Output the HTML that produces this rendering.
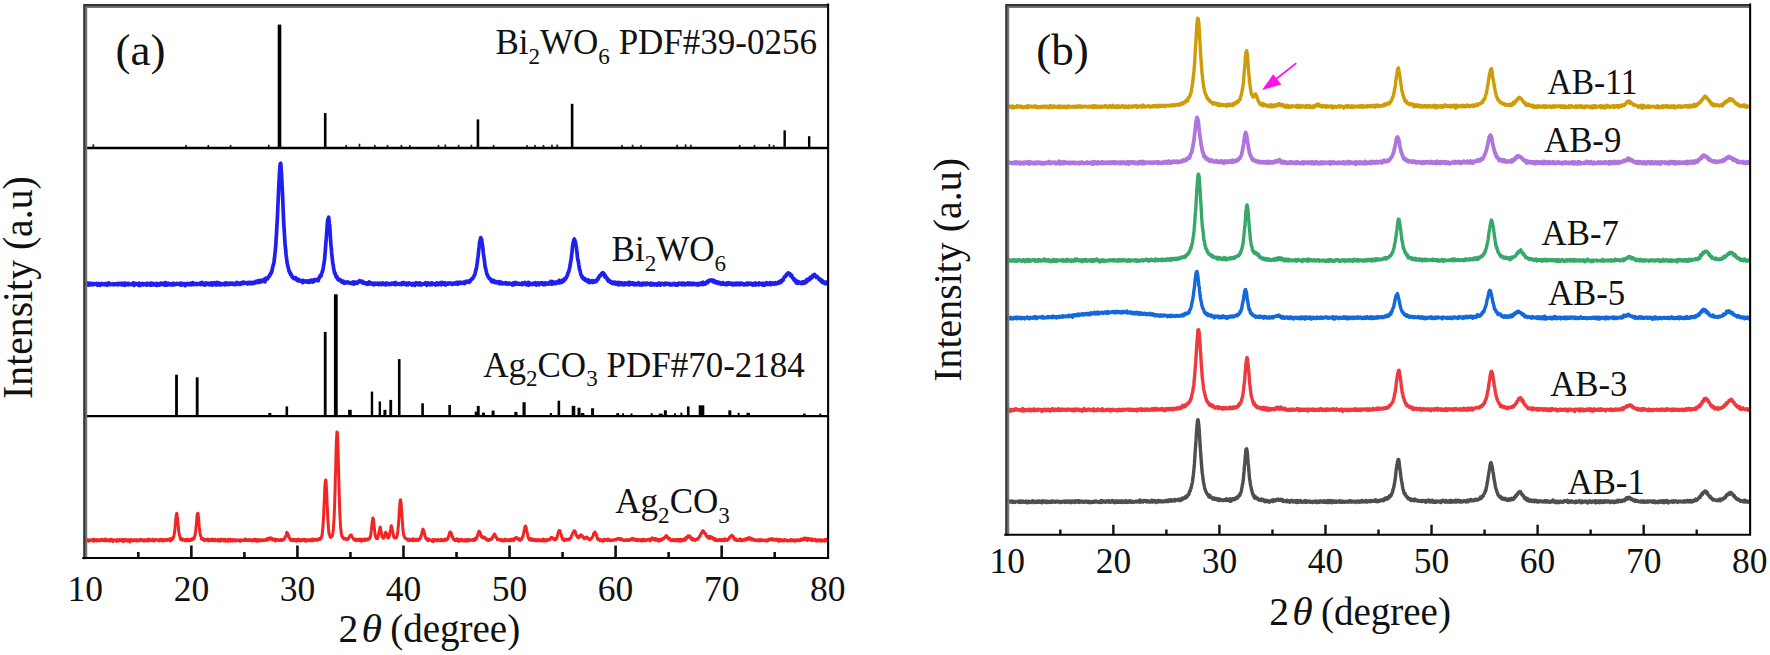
<!DOCTYPE html>
<html lang="en">
<head>
<meta charset="utf-8">
<title>XRD patterns</title>
<style>
html,body{margin:0;padding:0;background:#fff;}
body{width:1770px;height:655px;overflow:hidden;}
svg{display:block;}
</style>
</head>
<body>
<svg width="1770" height="655" viewBox="0 0 1770 655" font-family='"Liberation Serif", "DejaVu Serif", serif'>
<rect x="0" y="0" width="1770" height="655" fill="#fff"/>
<defs><clipPath id="cl"><rect x="85.30" y="6.00" width="742.42" height="552.00"/></clipPath><clipPath id="cr"><rect x="1007.30" y="6.00" width="742.42" height="528.70"/></clipPath></defs>
<rect x="277.70" y="24.60" width="3.60" height="123.40" fill="#000"/>
<rect x="323.91" y="113.00" width="2.60" height="35.00" fill="#000"/>
<rect x="476.63" y="119.40" width="2.60" height="28.60" fill="#000"/>
<rect x="570.82" y="103.80" width="2.60" height="44.20" fill="#000"/>
<rect x="783.46" y="130.30" width="2.40" height="17.70" fill="#000"/>
<rect x="807.96" y="136.20" width="2.40" height="11.80" fill="#000"/>
<rect x="92.51" y="144.30" width="1.70" height="3.70" fill="#222"/>
<rect x="185.21" y="144.90" width="1.70" height="3.10" fill="#222"/>
<rect x="207.48" y="144.90" width="1.70" height="3.10" fill="#222"/>
<rect x="229.75" y="144.90" width="1.70" height="3.10" fill="#222"/>
<rect x="267.93" y="144.70" width="1.70" height="3.30" fill="#222"/>
<rect x="345.36" y="144.90" width="1.70" height="3.10" fill="#222"/>
<rect x="358.62" y="143.70" width="1.70" height="4.30" fill="#222"/>
<rect x="373.99" y="144.90" width="1.70" height="3.10" fill="#222"/>
<rect x="386.72" y="144.90" width="1.70" height="3.10" fill="#222"/>
<rect x="400.51" y="144.90" width="1.70" height="3.10" fill="#222"/>
<rect x="408.99" y="145.10" width="1.70" height="2.90" fill="#222"/>
<rect x="437.63" y="144.90" width="1.70" height="3.10" fill="#222"/>
<rect x="444.52" y="144.50" width="1.70" height="3.50" fill="#222"/>
<rect x="457.78" y="144.90" width="1.70" height="3.10" fill="#222"/>
<rect x="470.51" y="144.70" width="1.70" height="3.30" fill="#222"/>
<rect x="492.78" y="144.90" width="1.70" height="3.10" fill="#222"/>
<rect x="526.19" y="145.10" width="1.70" height="2.90" fill="#222"/>
<rect x="534.14" y="144.90" width="1.70" height="3.10" fill="#222"/>
<rect x="542.63" y="144.90" width="1.70" height="3.10" fill="#222"/>
<rect x="551.11" y="144.70" width="1.70" height="3.30" fill="#222"/>
<rect x="556.42" y="144.50" width="1.70" height="3.50" fill="#222"/>
<rect x="621.11" y="144.90" width="1.70" height="3.10" fill="#222"/>
<rect x="631.72" y="144.70" width="1.70" height="3.30" fill="#222"/>
<rect x="640.20" y="145.10" width="1.70" height="2.90" fill="#222"/>
<rect x="676.26" y="144.70" width="1.70" height="3.30" fill="#222"/>
<rect x="684.75" y="144.30" width="1.70" height="3.70" fill="#222"/>
<rect x="690.05" y="144.70" width="1.70" height="3.30" fill="#222"/>
<rect x="738.84" y="144.90" width="1.70" height="3.10" fill="#222"/>
<rect x="753.69" y="144.90" width="1.70" height="3.10" fill="#222"/>
<rect x="768.54" y="144.10" width="1.70" height="3.90" fill="#222"/>
<rect x="772.78" y="144.90" width="1.70" height="3.10" fill="#222"/>
<rect x="175.11" y="374.70" width="2.80" height="41.40" fill="#000"/>
<rect x="195.79" y="377.30" width="2.80" height="38.80" fill="#000"/>
<rect x="268.34" y="413.00" width="3.00" height="3.10" fill="#000"/>
<rect x="285.51" y="406.40" width="2.60" height="9.70" fill="#000"/>
<rect x="323.81" y="331.90" width="2.80" height="84.20" fill="#000"/>
<rect x="333.91" y="294.30" width="3.80" height="121.80" fill="#000"/>
<rect x="348.12" y="409.80" width="3.60" height="6.30" fill="#000"/>
<rect x="370.78" y="391.60" width="2.40" height="24.50" fill="#000"/>
<rect x="378.63" y="401.40" width="2.40" height="14.70" fill="#000"/>
<rect x="383.42" y="409.80" width="3.00" height="6.30" fill="#000"/>
<rect x="389.35" y="399.90" width="2.80" height="16.20" fill="#000"/>
<rect x="397.94" y="359.10" width="2.60" height="57.00" fill="#000"/>
<rect x="421.27" y="403.30" width="2.60" height="12.80" fill="#000"/>
<rect x="448.32" y="404.90" width="2.60" height="11.20" fill="#000"/>
<rect x="474.71" y="411.60" width="2.20" height="4.50" fill="#000"/>
<rect x="476.80" y="405.90" width="2.90" height="10.20" fill="#000"/>
<rect x="481.95" y="412.60" width="3.00" height="3.50" fill="#000"/>
<rect x="491.60" y="410.60" width="3.00" height="5.50" fill="#000"/>
<rect x="514.30" y="411.90" width="3.20" height="4.20" fill="#000"/>
<rect x="522.47" y="402.20" width="3.20" height="13.90" fill="#000"/>
<rect x="549.80" y="413.00" width="2.20" height="3.10" fill="#000"/>
<rect x="557.56" y="400.70" width="2.60" height="15.40" fill="#000"/>
<rect x="571.69" y="405.90" width="3.60" height="10.20" fill="#000"/>
<rect x="577.51" y="407.70" width="3.00" height="8.40" fill="#000"/>
<rect x="580.92" y="413.00" width="3.40" height="3.10" fill="#000"/>
<rect x="591.08" y="408.20" width="3.00" height="7.90" fill="#000"/>
<rect x="616.22" y="413.20" width="3.00" height="2.90" fill="#000"/>
<rect x="622.02" y="413.40" width="2.00" height="2.70" fill="#000"/>
<rect x="630.51" y="413.40" width="2.00" height="2.70" fill="#000"/>
<rect x="650.66" y="413.20" width="2.00" height="2.90" fill="#000"/>
<rect x="658.68" y="413.60" width="4.00" height="2.50" fill="#000"/>
<rect x="663.84" y="410.30" width="3.00" height="5.80" fill="#000"/>
<rect x="673.99" y="413.40" width="2.00" height="2.70" fill="#000"/>
<rect x="680.36" y="412.60" width="2.00" height="3.50" fill="#000"/>
<rect x="686.95" y="406.40" width="2.60" height="9.70" fill="#000"/>
<rect x="698.71" y="405.30" width="5.60" height="10.80" fill="#000"/>
<rect x="728.33" y="410.30" width="3.00" height="5.80" fill="#000"/>
<rect x="737.63" y="412.80" width="2.00" height="3.30" fill="#000"/>
<rect x="746.47" y="412.80" width="3.40" height="3.30" fill="#000"/>
<rect x="803.09" y="413.60" width="2.60" height="2.50" fill="#000"/>
<rect x="819.30" y="413.60" width="2.00" height="2.50" fill="#000"/>
<path clip-path="url(#cl)" d="M85.3 285l.3-1.2 .3 .1 .4-.3 .3 1 .3-1.7 .3 2.2 .3-1.4 .3 .6 .4-.3 .3 1 .3-2 .3 1 .3-.1 .4 .9 .3-1.3 .3 .6 .3-.4 .3 .5 .3 .3 .4-1 .3 1.3 .3-.2 .3-.2 .3 .2 .4-.8 .3 .3 .3-.5 .3 .4 .3 .4 .3-.6 .4 .1 .3-.1 .3-.1 .3 .1 .3 .3 .4-.6 .3 .8 .3 .8 .3-.5 .3-.6 .3-.3 .4 0 .3 1.4 .3-.9 .3-.4 .3 .5 .4 1 .3-1.1 .3 .3 .3-.2 .3-.3 .3-.5 .4 .5 .3 0 .3 .5 .3 .1 .3 .1 .4-.4 .3 .3 .3-.9 .3 1.1 .3-.4 .3-.4 .4 .4 .3-.3 .3 .7 .3 .2 .3 .3 .4-1.9 .3 0 .3 .5 .3 .3 .3 .4 .3-.3 .4-1.3 .3 1 .3 .6 .3-.3 .3 .3 .4-.6 .3 0 .3 .2 .3 .2 .3-.1 .3-.1 .4-.4 .3 .6 .3-.2 .3 .6 .3 0 .4-.6 .3-.3 .3-.1 .3 .6 .3-.2 .3-.2 .4 .2 .3-.4 .3 .7 .3-.6 .3 .9 .4-.4 .3 .1 .3-1 .3 .7 .3 .3 .3-.9 .4 .4 .3 .2 .3-.8 .3 .9 .3 .3 .4-.9 .3 .6 .3-.9 .3 .7 .3-.9 .3 1.6 .4-.4 .3-.3 .3-.4 .3 1.1 .3 .4 .4-2.1 .3 1.7 .3 .2 .3-.7 .3-.8 .3 1.1 .4-.6 .3-.2 .3-.3 .3 .9 .3 .2 .4-.8 .3 .6 .3-.9 .3 1.1 .3-.4 .3-.2 .4 .1 .3 .5 .3-.1 .3-.1 .3-.2 .4 0 .3 .3 .3-.2 .3 .2 .3-.5 .3-1.2 .4 1.9 .3 .6 .3-.9 .3-.3 .3 0 .4 0 .3 0 .3-.6 .3 .3 .3-.2 .3 .7 .4-.3 .3 .4 .3-.4 .3 .7 .3-.5 .4 1.1 .3-2.2 .3 .7 .3 .8 .3 .9 .3-1.5 .4 .1 .3-.1 .3 .9 .3-.9 .3 .5 .4-.6 .3-.5 .3 .9 .3 .1 .3 .4 .3-.7 .4-.3 .3 .6 .3-.2 .3 .1 .3-.2 .4 .7 .3-.5 .3 .9 .3-.5 .3-.2 .3-1.3 .4 1.2 .3-.1 .3 .3 .3 .1 .3-.8 .4 .7 .3-.8 .3 1.4 .3-1.8 .3-.3 .3 .1 .4 .4 .3-.1 .3 1.7 .3-1.3 .3-.5 .4 1.3 .3-.9 .3-.4 .3 1.2 .3-.2 .3-.5 .4 1 .3-.7 .3 .8 .3-.6 .3 .6 .4-.8 .3-.8 .3 2 .3-1.6 .3 .2 .3-.3 .4 .3 .3 .2 .3 0 .3 .3 .3 .6 .4-1.1 .3-.6 .3 0 .3 .3 .3-.5 .3 1.3 .4-.7 .3 .1 .3 .2 .3-.8 .3 .3 .4 .9 .3-.1 .3-.6 .3 1.3 .3-1.7 .3 .5 .4 .1 .3-1.4 .3 2.6 .3-.9 .3-.8 .4 1.7 .3-.8 .3-.1 .3-.5 .3 .3 .3-.9 .4 1.3 .3-.6 .3 .3 .3 .5 .3-.5 .4 0 .3 0 .3-.5 .3 .8 .3 .4 .3-.4 .4 .1 .3-1 .3 0 .3-.3 .3 1.5 .4-.9 .3 .9 .3-1.2 .3 .2 .3 .3 .3 .5 .4-.5 .3 .1 .3-.1 .3 .1 .3-.7 .4 .6 .3-.1 .3 0 .3 .3 .3-.6 .3 .3 .4-.1 .3 .4 .3 .2 .3-1 .3 .9 .4 .8 .3-2 .3 .4 .3 0 .3 .3 .3 1 .4-.8 .3-.4 .3 .7 .3-.7 .3 1 .4-.5 .3 .6 .3-1.1 .3 2 .3-1.2 .3-.1 .4-.4 .3-.4 .3 0 .3 .4 .3-.4 .4 .6 .3-.6 .3 .8 .3 .2 .3-1 .3 1.1 .4-.8 .3 .8 .3-.4 .3 .3 .3-1.1 .4 .5 .3 .8 .3-1.1 .3-.8 .3 .1 .3-.4 .4 .3 .3 .9 .3 .9 .3-.9 .3 .4 .4-.2 .3 0 .3-.1 .3 0 .3 .4 .3-.9 .4 1.2 .3-.1 .3-.6 .3 .5 .3-.8 .4 .1 .3 .4 .3-.2 .3-.2 .3-.1 .3 .1 .4 .8 .3-1.6 .3 1.3 .3-.3 .3 .5 .4-.1 .3-1.9 .3 1.9 .3-.1 .3-.2 .3-.3 .4 .7 .3-.7 .3 1.3 .3-.7 .3 .8 .4-1.6 .3-.5 .3 1.3 .3 .1 .3-.4 .3-.9 .4 .6 .3 .6 .3-.5 .3 .1 .3-.1 .4-.4 .3 .2 .3-.5 .3 1.8 .3-1.2 .3 .5 .4-.8 .3 1 .3-1.5 .3 1.5 .3-.5 .4 1.2 .3-1.9 .3 .8 .3 .1 .3 .5 .3-.9 .4 .2 .3-1.2 .3 .7 .3 .7 .3 .4 .4-.8 .3 1.3 .3-.2 .3-1 .3-1.3 .3 .4 .4 .5 .3 1.1 .3-.5 .3-1.3 .3 1 .4 1 .3-1.1 .3-.2 .3 1.6 .3-1.1 .3-.3 .4 .4 .3-.2 .3-.2 .3 .9 .3-.1 .4-.1 .3-.5 .3 .6 .3-.6 .3 .3 .3 .3 .4-.2 .3 .6 .3-.8 .3-1.2 .3 .3 .4 1.4 .3-.9 .3 .4 .3-.7 .3 1 .3-.8 .4 1 .3-1.1 .3 .9 .3-.2 .3-.8 .4 1 .3-1.1 .3 0 .3 .9 .3-.8 .3 0 .4 .2 .3-.4 .3 1.1 .3-.2 .3-.4 .4 0 .3 .3 .3 .7 .3-.5 .3-.8 .3 .7 .4-.5 .3 0 .3 1.1 .3-1.3 .3 0 .4-.8 .3 .3 .3 1 .3-.7 .3 .7 .3-.9 .4 .2 .3 .8 .3 .4 .3-.5 .3 .3 .4 .3 .3-.4 .3-1.1 .3 .4 .3 .4 .3-.5 .4 .4 .3-1.1 .3 .4 .3 .7 .3-1.5 .4 .6 .3 .6 .3-1 .3 1 .3-.5 .3 .3 .4 0 .3 .2 .3-.4 .3 .3 .3-.4 .4 .6 .3 .6 .3-.8 .3-.1 .3-.7 .3 1 .4-.8 .3-.1 .3 .7 .3-.2 .3 .5 .4 .2 .3-1.2 .3 .4 .3 .8 .3-.4 .3-.2 .4 .3 .3-1.1 .3 .7 .3 .4 .3 0 .4-1.3 .3 .2 .3 .3 .3-.4 .3-.1 .3 .6 .4-.6 .3-.9 .3 1.1 .3-.4 .3-.3 .4-.5 .3 1.4 .3-1.9 .3 .3 .3 .7 .3 .7 .4 0 .3-1.4 .3 .4 .3-.8 .3 1.3 .4-1.5 .3 .7 .3 .5 .3-.8 .3 .9 .3-1.5 .4 .6 .3 .1 .3-.6 .3 .6 .3-.6 .4-1.3 .3 2.9 .3-2 .3-.5 .3-1.1 .3 .6 .4-.5 .3 .4 .3-.4 .3 .5 .3-1.3 .4-.1 .3-.4 .3-.7 .3-.4 .3 .3 .3-.7 .4-1.3 .3-.8 .3-.1 .3 0 .3-1.4 .4 .1 .3-2.3 .3-.6 .3-2.6 .3-.3 .3-1.4 .4-1.2 .3-1.3 .3-3.2 .3-1.7 .3-3.3 .4-3 .3-4.4 .3-3.1 .3-5.8 .3-4.2 .3-6.2 .4-5.8 .3-7 .3-6.3 .3-6.7 .3-7.5 .4-7.9 .3-5.3 .3-6.7 .3-4.6 .3-3.6 .3-2.4 .4-.4 .3 2.8 .3 5.2 .3 4.1 .3 7.4 .4 6.2 .3 7.8 .3 6.1 .3 8.7 .3 6.1 .3 6.8 .4 5.4 .3 5.7 .3 4.3 .3 4.8 .3 2.7 .4 3.7 .3 4 .3 2.3 .3 2.4 .3 2.1 .3 2.2 .4 1.1 .3 2 .3 .5 .3 1.5 .3 1.7 .4 1 .3-.4 .3 1.8 .3-.4 .3 1.6 .3-.9 .4 .9 .3 .8 .3 .6 .3 1.3 .3 .1 .4 .7 .3 .1 .3-.6 .3 .3 .3 1 .3-.3 .4 .1 .3-.5 .3 .9 .3-1.3 .3 1.5 .4-.2 .3 1.1 .3-.5 .3 .2 .3 1 .3-1.2 .4 .9 .3-1.1 .3 1.2 .3 .2 .3 .4 .4-.9 .3 .7 .3 .1 .3-.1 .3 .2 .3 .2 .4 0 .3-.7 .3-.1 .3 2.1 .3-.3 .4-1.8 .3 1.1 .3 .1 .3 .1 .3-.3 .3-.5 .4 .4 .3-.2 .3 .4 .3-.2 .3 .1 .4 .6 .3 .1 .3-1.3 .3 .4 .3-.2 .3 1.1 .4-.7 .3 .8 .3-1 .3 .2 .3-.8 .4 1.5 .3-1 .3-.6 .3 .4 .3-.9 .3 1.2 .4 0 .3 .1 .3 .6 .3-1.1 .3 .6 .4-.4 .3-.3 .3-1.2 .3 1.6 .3-.9 .3 .2 .4-.8 .3 .7 .3-.2 .3-.2 .3-.3 .4 .5 .3-.3 .3-.3 .3 1.2 .3-2.4 .3-.2 .4-.6 .3 .4 .3-1 .3-1.5 .3 .3 .4 .2 .3-.1 .3-2.2 .3-.3 .3-.6 .3-1.4 .4-.6 .3-1.7 .3-1.5 .3-2.4 .3-.9 .4-3.3 .3-2 .3-4.1 .3-2.8 .3-4.4 .3-4.2 .4-4.1 .3-4.1 .3-4.5 .3-3.2 .3-5.2 .4-2.9 .3-.3 .3-1.3 .3-.7 .3 3.2 .3 2.8 .4 2.4 .3 5.2 .3 4.6 .3 4.8 .3 4.4 .4 3.6 .3 4.3 .3 2.7 .3 2.7 .3 2.7 .3 3.3 .4 .8 .3 3.3 .3 .7 .3 1.8 .3 1.8 .4 1.5 .3-.8 .3 1.4 .3 1.2 .3 .3 .3 1.4 .4-1.2 .3 1.8 .3 .5 .3 .1 .3 .9 .4-1 .3 1.6 .3-.7 .3 1 .3-.4 .3 .8 .4 .2 .3-1.1 .3 .9 .3 .2 .3 0 .4-.1 .3 1.5 .3-.8 .3 .9 .3-1.1 .3-.2 .4 .8 .3-.3 .3 1.7 .3-1.1 .3 .5 .4-.7 .3 0 .3 .3 .3 .2 .3 .4 .3-.5 .4-.3 .3-.2 .3 .6 .3 .4 .3 0 .4-.2 .3-.3 .3 .4 .3 .3 .3-.3 .3 .1 .4-.1 .3 .6 .3-.8 .3 .4 .3 .1 .4 .2 .3 .4 .3-.4 .3-.1 .3-1.2 .3 1.2 .4 .8 .3-1.7 .3-.2 .3 .4 .3 .6 .4-.3 .3-.7 .3 .2 .3 .5 .3-.3 .3 .8 .4-.8 .3-.5 .3 .1 .3-.7 .3-.4 .4 .6 .3 .2 .3-1.1 .3 .5 .3 .1 .3 .4 .4-.2 .3 .5 .3-.1 .3 .7 .3-1.4 .4 1.9 .3 0 .3-.6 .3 .5 .3 0 .3-.6 .4 .6 .3 .4 .3-.1 .3 .5 .3-.5 .4 0 .3-.4 .3 .3 .3 0 .3 1.2 .3-.8 .4-.6 .3 .8 .3-.3 .3-1.6 .3 2 .4-1.1 .3 1.2 .3-.9 .3-.2 .3 1 .3-1 .4 .5 .3 .4 .3 .2 .3 .1 .3-.4 .4-.4 .3 1.5 .3-1.4 .3 1.3 .3-1.2 .3 .9 .4-.1 .3-1.1 .3 .8 .3 .2 .3 0 .4-.5 .3 .3 .3-.4 .3-.5 .3 1.2 .3-.8 .4 1.1 .3-.5 .3-.8 .3 .4 .3 0 .4-.4 .3 .8 .3-.5 .3 1.1 .3-.4 .3-.9 .4 .4 .3-.1 .3-.7 .3 1.4 .3 0 .4 0 .3-.8 .3 .8 .3-.7 .3 .7 .3 .5 .4-1 .3-.8 .3 .6 .3 .5 .3 .3 .4-1.2 .3 .5 .3 .2 .3 .1 .3 .3 .3-1 .4 .3 .3 .7 .3-.3 .3 0 .3 .4 .4-.5 .3 .2 .3-.5 .3-.5 .3 0 .3 .7 .4-.1 .3-.3 .3 .6 .3-.7 .3 .6 .4-.1 .3-.4 .3-.8 .3 2 .3-.6 .3-1.6 .4 1.2 .3 .4 .3-.3 .3 .4 .3-.8 .4 .6 .3-.1 .3-.1 .3 0 .3 .2 .3 .4 .4-.8 .3 .1 .3 .3 .3-.1 .3 .2 .4 .2 .3 .3 .3-.7 .3-1.2 .3 1.2 .3 .2 .4-.3 .3 .1 .3-1.3 .3 1.6 .3-.4 .4-.7 .3 .4 .3 0 .3 .8 .3-.1 .3 .6 .4-.5 .3-1.1 .3 0 .3 1.4 .3 .2 .4-1 .3 .4 .3-1.1 .3-.2 .3 .4 .3 .4 .4 0 .3 .1 .3-.1 .3 .6 .3 .4 .4-.7 .3 1.1 .3-1.5 .3 .1 .3 .5 .3-.5 .4 .9 .3-1 .3 1.1 .3-.7 .3 1.4 .4-1.7 .3 .1 .3 .2 .3-1.3 .3 1.6 .3-.1 .4-.2 .3-.9 .3 0 .3 1.2 .3 .3 .4 .2 .3-1.4 .3 0 .3 .4 .3-1 .3 .8 .4 .8 .3 .4 .3-.7 .3 .7 .3-.6 .4-.2 .3-.2 .3 .2 .3-.2 .3 0 .3-.2 .4 .5 .3-.2 .3-.8 .3 .7 .3-.4 .4-.6 .3 1.4 .3 .6 .3 .4 .3-.4 .3-1.4 .4 1.2 .3-.1 .3-1.7 .3 1.6 .3-.2 .4-.2 .3 .1 .3-.2 .3 .9 .3-1.1 .3 .1 .4 .1 .3 .1 .3-1.1 .3 1.7 .3-.6 .4 .2 .3-.2 .3-.2 .3-.1 .3 .2 .3 .1 .4 .5 .3-.4 .3-.3 .3 1.2 .3-1.8 .4-.1 .3 .9 .3-.3 .3-.8 .3 .8 .3-.3 .4 1.1 .3-1 .3 .9 .3-.3 .3-.4 .4 .1 .3 .2 .3-1.5 .3 1.5 .3-.4 .3 1.2 .4-1.4 .3 1 .3-2 .3 1.8 .3-.3 .4-.3 .3 .1 .3-.1 .3 .4 .3-.3 .3-.9 .4 .8 .3 1.4 .3-1.3 .3 .2 .3-.4 .4 .3 .3 0 .3-.3 .3 .7 .3-1 .3 .4 .4 .3 .3-.4 .3-.5 .3 .9 .3-.8 .4 .3 .3-.3 .3 .4 .3-.2 .3 0 .3 .6 .4 .6 .3-1.2 .3 .5 .3-.5 .3 .3 .4 .5 .3-.6 .3-.5 .3 0 .3 .1 .3 .3 .4 .5 .3-1.3 .3 .2 .3 0 .3-.4 .4 1.6 .3-.7 .3 1 .3-1.9 .3 1.5 .3-1.1 .4 .1 .3-.3 .3 0 .3-.3 .3 .9 .4-.9 .3 .5 .3 .1 .3 .4 .3-.4 .3 .1 .4 .1 .3-.4 .3 .2 .3-.8 .3 .1 .4 1.4 .3-1.1 .3-.5 .3 1.1 .3-.9 .3-.4 .4-.5 .3 1.2 .3-1.1 .3 .2 .3 .5 .4-.3 .3-.3 .3-.2 .3 .6 .3 .5 .3-1.7 .4 .4 .3 .6 .3-.7 .3-1.1 .3-.1 .4-.4 .3-.4 .3-.2 .3 .2 .3-.9 .3 .4 .4-.9 .3-.8 .3 0 .3-1 .3-.8 .4-.4 .3-1.3 .3-1.5 .3-.7 .3-1.8 .3-.1 .4-2.8 .3-1.9 .3-2 .3-3 .3-1.7 .4-3.3 .3-3.2 .3-2.6 .3-2 .3-3.7 .3-1.2 .4-2.3 .3-.5 .3-1.4 .3 1.6 .3 .2 .4 .3 .3 3.6 .3 1.3 .3 2.3 .3 2.5 .3 3.6 .4 3.2 .3 1.4 .3 2.1 .3 2.2 .3 3.5 .4 1.9 .3 .6 .3 2 .3 1.1 .3 1.2 .3 1.6 .4 .7 .3 .8 .3 .4 .3 1.3 .3 0 .4 .7 .3 .6 .3-.4 .3 .9 .3 .3 .3 .5 .4-.4 .3 .2 .3 1.8 .3-.1 .3 .1 .4 .7 .3-.6 .3-.2 .3 .5 .3-1.2 .3 .5 .4 1.2 .3-.3 .3-.6 .3 1.1 .3 .3 .4-.1 .3-.3 .3-.4 .3 .6 .3 .2 .3-.3 .4 .6 .3-.2 .3 .1 .3-1.2 .3 1.7 .4 .4 .3-1.1 .3-.6 .3 1.2 .3-.5 .3-.3 .4 1.3 .3-1.4 .3 1.1 .3-1 .3 1.5 .4-.5 .3-.4 .3 .3 .3 .2 .3 .2 .3 0 .4-.1 .3-.6 .3 .7 .3-1.1 .3 1.3 .4-.1 .3 .3 .3-1 .3 .4 .3 .4 .3-.3 .4-.4 .3 .4 .3-.1 .3 .5 .3-.9 .4 .6 .3 0 .3 .2 .3-.4 .3 .1 .3-.1 .4 .1 .3 0 .3-.2 .3 1.7 .3-2 .4-.2 .3 .3 .3 0 .3 .4 .3 .8 .3 .1 .4-.7 .3-1.5 .3 1.5 .3-.9 .3 .5 .4-.4 .3 .9 .3-.6 .3 .8 .3-.2 .3-.4 .4 .2 .3 .5 .3-.7 .3 .7 .3-.5 .4 .1 .3 .3 .3 .3 .3-.4 .3-.3 .3 .4 .4-1.2 .3 1.7 .3-1.6 .3 1.2 .3-.8 .4 .6 .3-.4 .3 .3 .3-.6 .3-.8 .3 1.4 .4-.5 .3 0 .3-.1 .3 1.5 .3-1.4 .4 .5 .3-.8 .3 1.5 .3-1.2 .3-1.1 .3 2.9 .4-2.1 .3 1.3 .3-.3 .3 0 .3-.5 .4 .2 .3 .6 .3-.9 .3 .3 .3 .4 .3-.5 .4-.2 .3 1 .3-.6 .3-.3 .3-.3 .4-.2 .3 1.1 .3 0 .3-1.7 .3 .8 .3 .9 .4 .8 .3-.2 .3-.6 .3 .2 .3-1 .4 .7 .3-1.1 .3 .3 .3 .5 .3 1 .3-.8 .4-.2 .3-.3 .3-.6 .3 1 .3-.5 .4 .3 .3-.6 .3 .5 .3-.9 .3 1.1 .3 .5 .4-.3 .3 .7 .3-1 .3 .1 .3 0 .4-.8 .3 1.6 .3-.6 .3-.7 .3-.4 .3 .8 .4 .2 .3-.4 .3 0 .3-.2 .3 0 .4 .8 .3 0 .3-1.6 .3 .8 .3-.7 .3-.1 .4 1 .3-.8 .3-1.3 .3 2.1 .3 .3 .4 .4 .3-1.3 .3 .9 .3-2.2 .3 .8 .3 .8 .4 0 .3 .4 .3-.2 .3-.6 .3 .8 .4-.5 .3 .5 .3-1.4 .3 .6 .3-.5 .3 .6 .4-.6 .3 0 .3-.7 .3 .8 .3 .4 .4-.1 .3-2.3 .3 .7 .3 1.9 .3-1.3 .3-.1 .4 .6 .3-.6 .3-.6 .3 .1 .3 1.1 .4-2 .3 1.3 .3-1 .3-.2 .3 1 .3-1.6 .4 .6 .3-.9 .3-.9 .3 .4 .3 .4 .4-1.1 .3-.1 .3-.6 .3-.6 .3-.9 .3-.3 .4-2 .3 0 .3-1.6 .3 0 .3-1.1 .4-1.9 .3-.6 .3-1.8 .3-1.8 .3-2.3 .3-1.6 .4-1.9 .3-3.2 .3-2.6 .3-1.4 .3-4.4 .4-2.6 .3-1.8 .3-.9 .3-1.6 .3-.9 .3-.7 .4 .9 .3 .7 .3 1 .3 .5 .3 2.9 .4 1.6 .3 2.7 .3 2.2 .3 3.1 .3 2.7 .3 2 .4 1.4 .3 1.9 .3 2.2 .3 1.7 .3 2.4 .4 .8 .3 1.3 .3 1.2 .3 1.7 .3 1.2 .3 .1 .4 .3 .3 1.6 .3 0 .3 0 .3 1.3 .4-.1 .3-.5 .3 1.5 .3 .1 .3-1 .3 .1 .4 1.5 .3 .5 .3 .1 .3-.9 .3 .7 .4 .7 .3-1.1 .3 1 .3 .2 .3 .5 .3-1.8 .4 1.5 .3 1.1 .3-1.4 .3 .3 .3 .7 .4-.9 .3 1.1 .3-.3 .3-1.1 .3 .9 .3-.9 .4 1.4 .3-1.5 .3-.1 .3 .4 .3 .1 .4 1.1 .3-.8 .3 .1 .3 .4 .3-1.1 .3-.1 .4-.3 .3 .7 .3 .3 .3-1 .3-.7 .4-.3 .3-.6 .3 .7 .3-1.4 .3 .1 .3-1 .4-.8 .3-.8 .3 .4 .3 .1 .3-.7 .4-.4 .3-.9 .3-.4 .3-.4 .3 .5 .3 .8 .4-1.3 .3-.7 .3 1.5 .3-1 .3 1.1 .4-.2 .3 .7 .3 2.3 .3-1.8 .3 .6 .3 1 .4 .3 .3 .3 .3 .3 .3 1.2 .3 .7 .4-.7 .3 .2 .3 2 .3-1.4 .3 1.4 .3 .2 .4-.6 .3 1.2 .3-.8 .3 .2 .3 0 .4 1.3 .3-.5 .3 .9 .3-.9 .3 .9 .3 .5 .4-.8 .3-.5 .3 .5 .3 .9 .3-.2 .4-.6 .3-.7 .3 1.4 .3 .5 .3 .1 .3-.6 .4-.4 .3-.3 .3 .2 .3-.6 .3 2.1 .4-1.2 .3 1.4 .3-1.3 .3-.9 .3 2 .3-1.5 .4 .2 .3 1.2 .3-.1 .3-1.9 .3 1.1 .4-.6 .3 .9 .3 .8 .3-1.3 .3 1.1 .3-1.3 .4 1.7 .3-1.6 .3 .2 .3 .4 .3-.9 .4 1.6 .3-1.4 .3 .9 .3-1 .3 .7 .3 0 .4-.2 .3 .5 .3-.9 .3 1.4 .3-.7 .4-1.6 .3 2.6 .3-.8 .3 .6 .3-1 .3-1.1 .4 1 .3-.4 .3 .6 .3-.2 .3 .4 .4-1.1 .3 1 .3-.3 .3 .6 .3-1.2 .3 .7 .4 1.1 .3-1.5 .3 1 .3 .3 .3-.7 .4 .6 .3 0 .3 .3 .3-1.1 .3 .2 .3 .5 .4-.9 .3 .5 .3-.4 .3-.9 .3 1.4 .4 .8 .3-1.2 .3 .3 .3-.3 .3-.1 .3 .4 .4 .6 .3 .6 .3-.8 .3-1 .3-.2 .4 1.5 .3-.5 .3-.6 .3-.2 .3 .1 .3 1.2 .4-.7 .3-.8 .3 1.3 .3-.3 .3-.4 .4 .5 .3-.8 .3 1 .3-1.3 .3 .3 .3-.3 .4 .6 .3-.2 .3 .2 .3 .2 .3 .3 .4-.2 .3 .1 .3 .7 .3-1 .3-.7 .3 1.3 .4 .5 .3-.9 .3 .4 .3-.8 .3 .4 .4 .3 .3-.2 .3-.5 .3 1.2 .3-.8 .3 .4 .4-.2 .3 .2 .3 0 .3-.6 .3 .6 .4 .7 .3-.1 .3-.6 .3 .5 .3-1.7 .3 1.5 .4-.7 .3-1 .3 1 .3 .5 .3-.9 .4 1.4 .3-.3 .3-1.5 .3 1.3 .3-.5 .3-.4 .4 .2 .3-.1 .3-.4 .3 .4 .3 .6 .4 .4 .3 .1 .3-1.2 .3 .3 .3-.4 .3 1 .4-1.5 .3 .2 .3 .4 .3 .5 .3-.3 .4 .2 .3 0 .3 .1 .3-.7 .3 .4 .3 .5 .4-.2 .3 .5 .3-1.1 .3 1 .3 .3 .4-.9 .3 .2 .3 0 .3 .2 .3-.1 .3 .6 .4-.6 .3 .2 .3-.3 .3-.7 .3 .8 .4-.4 .3-.2 .3-.1 .3 .4 .3-.3 .3 1.5 .4-.3 .3-1 .3 .5 .3 .3 .3-.7 .4 1.1 .3-.5 .3-.6 .3-.9 .3 .4 .3 .7 .4-.4 .3 .2 .3-.4 .3 .6 .3-.4 .4-.6 .3 .7 .3-.2 .3-.5 .3 1.6 .3-.8 .4-.1 .3 .6 .3-.5 .3 .5 .3-1.3 .4 .3 .3 .8 .3 .6 .3-.8 .3 .1 .3-.6 .4 .4 .3-.4 .3 .3 .3 .5 .3-1.5 .4 1.3 .3-.6 .3 .1 .3 1 .3-.5 .3 .3 .4-1.4 .3 .7 .3 0 .3-.1 .3 .6 .4 .2 .3-1.1 .3 .1 .3-.2 .3 1.3 .3-.9 .4 .2 .3-.1 .3-.3 .3 .7 .3 0 .4 .3 .3-.7 .3 0 .3-.2 .3 1.2 .3-.3 .4-.6 .3 .4 .3-.7 .3 1.4 .3-1.4 .4 .1 .3 0 .3 1.1 .3-.9 .3 .5 .3-.6 .4-.7 .3 1.1 .3-.8 .3-.4 .3 .5 .4 .5 .3 .6 .3-1.8 .3-.5 .3 1.7 .3-.4 .4-.5 .3 .4 .3 .1 .3 .6 .3-1.2 .4 .6 .3-1 .3-.2 .3 .4 .3-1 .3-.2 .4 1.1 .3-1.8 .3 1 .3-.4 .3-.2 .4-.7 .3-.5 .3 .6 .3-.4 .3 .3 .3 .2 .4-.6 .3-.2 .3 .7 .3-.6 .3-.1 .4 .4 .3 .4 .3 1.1 .3-.2 .3-1.4 .3 .1 .4 .9 .3 .4 .3-.2 .3 1.4 .3-.4 .4 .4 .3-1 .3-.1 .3 .1 .3 .6 .3-.5 .4 .5 .3 .2 .3 .9 .3-.7 .3-.5 .4 .6 .3 .5 .3 .2 .3-.7 .3 .9 .3 .5 .4-.5 .3-.1 .3-.3 .3-.1 .3-.8 .4 1.5 .3-.5 .3 .3 .3 .2 .3-.7 .3 1 .4-.5 .3 .8 .3-.7 .3 .1 .3-.3 .4 .9 .3-1.9 .3 .8 .3 .2 .3-.7 .3 .4 .4-.7 .3 1.3 .3-.9 .3 1 .3-.4 .4-.3 .3-.4 .3 .5 .3 .6 .3-.3 .3 .5 .4-.8 .3 1.3 .3-1 .3-.4 .3 1.2 .4 .1 .3-.8 .3-.3 .3 .8 .3-1 .3 1 .4-1.2 .3 .7 .3 0 .3 .7 .3-1.7 .4 1.1 .3-.1 .3 0 .3-.5 .3-.2 .3 .5 .4 .1 .3 .9 .3-.7 .3-.1 .3 .4 .4-1.3 .3 1.3 .3 .1 .3 0 .3-.7 .3-.5 .4 .2 .3 .7 .3 .1 .3 .4 .3 .2 .4-.4 .3-.5 .3 .2 .3-.3 .3 .7 .3-.3 .4-.2 .3-.8 .3 1.3 .3-1.4 .3 1.5 .4-.1 .3-1.5 .3 .9 .3-.7 .3 .6 .3 .4 .4-.4 .3-.6 .3 .8 .3 0 .3-.1 .4-.6 .3 .4 .3 .3 .3-.2 .3 1.3 .3-1.1 .4-.2 .3 .4 .3-.9 .3 .8 .3 .7 .4-1.4 .3 .6 .3 .3 .3-1.4 .3 1.9 .3-1.5 .4 .4 .3 .4 .3-.4 .3 .6 .3-.4 .4 .3 .3-.3 .3 .8 .3-2 .3 1.3 .3-.3 .4-.4 .3 .1 .3 .1 .3 .6 .3-.8 .4 .4 .3 .3 .3-.8 .3 1.2 .3 .7 .3-1.7 .4 .9 .3-.7 .3 .5 .3-.4 .3 1.3 .4-1.4 .3 .6 .3-.1 .3-1 .3-.6 .3 1.5 .4 .2 .3-.8 .3-.1 .3 .9 .3-.1 .4 .1 .3-.4 .3-.6 .3-.3 .3-.4 .3 1 .4 1.1 .3-.8 .3-.3 .3-.8 .3 .4 .4 .4 .3-.2 .3 .6 .3-.6 .3 .5 .3-.5 .4-.1 .3 .8 .3-1.1 .3 .2 .3-.6 .4 .7 .3 .5 .3-.3 .3 0 .3 .1 .3-.3 .4 0 .3-.3 .3-.8 .3 .7 .3 .1 .4-1.1 .3 .5 .3 .3 .3-1 .3-.7 .3 .6 .4 .6 .3-1.6 .3 .1 .3-.6 .3-.1 .4 0 .3 .3 .3-1.6 .3-.4 .3-.5 .3-.5 .4-.7 .3-.1 .3-.1 .3-.4 .3 .2 .4-1.5 .3-.4 .3-.4 .3 .2 .3-.5 .3 .4 .4-1 .3 .9 .3 0 .3-.5 .3 0 .4 .7 .3-.2 .3 1.8 .3-.6 .3 .8 .3-.7 .4 .2 .3 1.8 .3 .4 .3-.3 .3 .5 .4 .4 .3 .9 .3 .7 .3-1 .3 1.5 .3-.5 .4 .5 .3 .4 .3-.4 .3 2.5 .3 0 .4-.8 .3 .1 .3-.8 .3 2 .3-1.1 .3 0 .4 .8 .3-.5 .3-.5 .3 .4 .3-.1 .4 .3 .3 .3 .3 0 .3 .4 .3-.7 .3 .5 .4 .4 .3-1.6 .3 1 .3-1 .3-.3 .4 1.7 .3-.4 .3-.4 .3-.6 .3 1 .3-1.7 .4 .7 .3 .1 .3 .3 .3-1.7 .3-1.1 .4 1.6 .3-.1 .3-.3 .3-.8 .3 .2 .3-1.1 .4 .8 .3-.1 .3-1.2 .3-1 .3 .7 .4-.3 .3-.3 .3 .4 .3-.9 .3 .7 .3-1.2 .4-1.1 .3 1 .3-.9 .3-.3 .3 .3 .4-.2 .3-.9 .3 .5 .3 1.2 .3-.4 .3 .4 .4 .5 .3 .7 .3-1.1 .3 .3 .3 .2 .4 .5 .3 .2 .3 .8 .3 .3 .3 .7 .3-.6 .4 .6 .3 .8 .3 .5 .3-1.4 .3 1.2 .4 .4 .3-.7 .3 1.6 .3 .6 .3-1.6 .3 .4 .4 1.6 .3 .2 .3-1.2 .3 .3 .3 1 .4-.4 .3-.1 .3 1.3 .3-.7 .3-1 .3 1.2 .4-.9 .3 1.2 .3 .2 .3-.2" fill="none" stroke="#1f1ff0" stroke-width="3.70" stroke-linejoin="round" stroke-linecap="butt"/>
<path clip-path="url(#cl)" d="M85.3 540.1l.3 .2 .2-1 .3 1.7 .3-1.5 .2 .4 .3 .6 .3-.8 .2 .1 .3 .1 .3 .6 .2 .8 .3-1 .2-.5 .3 .7 .3-.5 .2 .3 .3 .5 .3-.8 .2 .3 .3-.4 .3 .3 .2 .2 .3-.6 .3 .3 .2 .1 .3-.2 .3-.2 .2-.1 .3 .5 .3 0 .2 1.1 .3-2.1 .2 1.1 .3 .2 .3 .4 .2-.4 .3-.6 .3 .4 .2 .2 .3-.4 .3 .5 .2-1.2 .3 1.7 .3-.2 .2-.8 .3 .5 .3-.3 .2-.4 .3 .4 .3 .4 .2-.6 .3 0 .3 .2 .2 .2 .3 .4 .2-.9 .3 .5 .3-.1 .2-.9 .3 .6 .3 .1 .2 .1 .3 .1 .3-1 .2 .9 .3-.3 .3-.4 .2 .9 .3 .1 .3-.6 .2 .7 .3-.6 .3 .2 .2-.5 .3 1.2 .3-1.9 .2 1.1 .3 .4 .2-1.2 .3 .8 .3 .1 .2 .4 .3 .1 .3-.7 .2-.4 .3 1.2 .3-.1 .2-.7 .3 .3 .3 .1 .2 0 .3-.1 .3 .5 .2-1.4 .3 1.3 .3-.3 .2-.3 .3 .6 .2-1.6 .3 1.6 .3-.3 .2-.7 .3 .7 .3-.4 .2 1.3 .3-.3 .3-.6 .2-.5 .3 0 .3 .1 .2-.1 .3-.1 .3 .1 .2 .2 .3-.1 .3-.1 .2-.1 .3 1.5 .3-1.8 .2 .2 .3 .7 .2-.4 .3 .4 .3 .1 .2 .3 .3-.3 .3-.8 .2 1 .3-1.3 .3 .7 .2-.1 .3-.3 .3 .7 .2-.3 .3 .5 .3-1.1 .2 1.1 .3-.2 .3-.2 .2-.7 .3 .6 .3-.6 .2-.3 .3 2.5 .2-1.1 .3 .4 .3-1 .2 .5 .3 0 .3 0 .2-.3 .3-.1 .3-.9 .2 1.3 .3-.1 .3 .3 .2-.6 .3 .9 .3-1 .2-.4 .3 1 .3-.6 .2-.4 .3 .6 .2 .3 .3-.2 .3 .1 .2 1.6 .3-1.5 .3 .4 .2-1.6 .3 1 .3 .2 .2-.5 .3-.2 .3 .6 .2-.4 .3-.1 .3 .8 .2 .1 .3-.5 .3-.3 .2 .4 .3 .1 .3 0 .2-1 .3 .5 .2 .3 .3 .2 .3 .1 .2-.1 .3-.8 .3 .2 .2-.3 .3 1.4 .3-.7 .2 .1 .3 .2 .3-.6 .2-.3 .3 .3 .3 .1 .2 .7 .3-.2 .3-.9 .2 .8 .3 0 .3-.8 .2 .4 .3-.8 .2 1 .3-.3 .3-.4 .2 .2 .3 .5 .3-.4 .2 .4 .3 .1 .3-.6 .2 .2 .3 1.1 .3-.9 .2-.4 .3 .4 .3-.6 .2 1.1 .3-.4 .3 .3 .2 0 .3-.3 .2 .3 .3-.4 .3-.3 .2-.2 .3 .2 .3-.9 .2 2 .3-1.6 .3 .7 .2-.5 .3-.4 .3 .9 .2-.1 .3 .1 .3 .3 .2-.5 .3 .4 .3 .1 .2-.4 .3 0 .3 .4 .2-.2 .3 0 .2-1.1 .3 1.1 .3 .1 .2-.2 .3 .2 .3 .7 .2-.8 .3 .2 .3-.7 .2 0 .3 .2 .3-.2 .2 .4 .3-.4 .3 .3 .2-.5 .3-.1 .3 .4 .2-.2 .3 .2 .3 0 .2 .1 .3 .7 .2 .1 .3-.3 .3-.5 .2 .9 .3-1.4 .3-.2 .2 1 .3-.1 .3-.1 .2 .1 .3-.8 .3 .2 .2 1.1 .3-.1 .3-.8 .2 1.2 .3-1.4 .3 .3 .2 .3 .3-.6 .2 .3 .3 .1 .3-.1 .2 .6 .3-.2 .3-.7 .2 .1 .3 .4 .3-.1 .2-.3 .3 .5 .3 .2 .2-.7 .3 .6 .3-1.1 .2 0 .3 .9 .3-.6 .2-.1 .3 .3 .3-.2 .2 .4 .3-.9 .2 .5 .3 1.5 .3-1.4 .2-1 .3 1.1 .3-.1 .2 .3 .3-.7 .3-.5 .2 .7 .3-.6 .3-1.5 .2 .6 .3-1.1 .3-.3 .2-1.9 .3-1.1 .3-2.2 .2-2.2 .3-3 .3-3.1 .2-2.8 .3-2.6 .2-2.4 .3-1 .3-.9 .2 1 .3 2.5 .3 1.7 .2 3.1 .3 2.5 .3 3.1 .2 3.3 .3 1.6 .3 2.3 .2 .4 .3 .9 .3 1.6 .2-.1 .3 2.2 .3-.3 .2-.9 .3 .7 .2-.1 .3 .6 .3-.1 .2 .5 .3 .3 .3-.7 .2-.4 .3 .8 .3-.3 .2 .7 .3-.6 .3 .5 .2-.2 .3-.2 .3-.1 .2 .5 .3 .8 .3-.7 .2-.5 .3 .4 .3-.2 .2-.7 .3 .7 .2 .6 .3-.8 .3-.4 .2 .7 .3 .6 .3-.4 .2 0 .3 .6 .3-.4 .2-.4 .3-.4 .3 .1 .2-.1 .3 .3 .3-.8 .2 1.1 .3-.7 .3-.3 .2 .4 .3-1.3 .3 .4 .2-.1 .3 .5 .2-.8 .3 .5 .3-1.3 .2-.2 .3-1.5 .3-.3 .2-2.2 .3-1.5 .3-2.7 .2-2.9 .3-2.5 .3-2.4 .2-3.9 .3-2.7 .3-1.1 .2-.1 .3-.2 .3 1.9 .2 2.8 .3 2.6 .2 3.3 .3 3.3 .3 2.1 .2 2.3 .3 2.2 .3 1.2 .2 .7 .3 .9 .3 .6 .2 1.8 .3-.5 .3 .6 .2 .2 .3-.6 .3 .8 .2-.4 .3-.6 .3 .9 .2-.3 .3 .4 .3 .3 .2 .9 .3-1.2 .2 .2 .3 .3 .3-.1 .2-.1 .3-.4 .3 .1 .2 .3 .3-.4 .3 .3 .2-.3 .3 1.1 .3-1.2 .2 1.6 .3-1.1 .3-.2 .2-.1 .3 .9 .3 .1 .2-.8 .3 .5 .3-.2 .2 0 .3 .2 .2 .3 .3-1.2 .3-.2 .2 1.1 .3-.1 .3 .3 .2-1 .3 .3 .3 1.1 .2-1.2 .3 .7 .3-.5 .2 .2 .3-.4 .3 1.1 .2-1.4 .3 .3 .3 .2 .2 .9 .3-.4 .2 .2 .3-.3 .3 .1 .2 .1 .3 .5 .3-.6 .2-.8 .3 1.2 .3-.5 .2-.5 .3 .4 .3-.3 .2 1.4 .3-1.1 .3-.8 .2 1.1 .3-.6 .3 1 .2-.5 .3-.9 .3 .6 .2-.3 .3 .2 .2 0 .3-.6 .3 1 .2-.5 .3 0 .3 .8 .2 .5 .3-1.2 .3 1.1 .2-1.7 .3 1.2 .3-.5 .2 .2 .3-.4 .3 .2 .2 .1 .3 0 .3 .3 .2 .9 .3-1.3 .3 .2 .2-.7 .3-.4 .2 1.8 .3-1.3 .3 .3 .2 .4 .3 .4 .3-.3 .2 .7 .3-.9 .3-.8 .2 .9 .3 0 .3-.4 .2 .2 .3-.1 .3 1 .2-1 .3-.4 .3 .8 .2-1 .3 1 .2 0 .3-.5 .3 .1 .2 0 .3 1 .3-.6 .2-.7 .3 0 .3 .5 .2 0 .3-.3 .3 .5 .2-.2 .3 .5 .3-.3 .2-.2 .3 .1 .3-.4 .2 .8 .3-.3 .3-.3 .2 .2 .3-.3 .2 1.4 .3-1.3 .3 .4 .2-.1 .3-.5 .3 .4 .2-.2 .3 .3 .3 0 .2 .2 .3 0 .3-.5 .2-.1 .3 0 .3-.1 .2-.4 .3 1 .3-.3 .2 0 .3-.7 .3 .1 .2-.5 .3 1.1 .2 .4 .3-.1 .3-.3 .2-.4 .3 .4 .3 .1 .2 .3 .3 0 .3-.5 .2 .1 .3 .4 .3-.1 .2-.3 .3-.9 .3 .7 .2 .6 .3-.3 .3 .4 .2-.6 .3 .2 .2 .3 .3 0 .3-.2 .2 .3 .3 .1 .3 .1 .2-1.4 .3 .5 .3 .1 .2 0 .3-.6 .3 1.3 .2-1 .3 .5 .3-1.1 .2 .8 .3 .1 .3-.3 .2 .8 .3 .7 .3-1.5 .2 0 .3 1.2 .2-.5 .3-.4 .3-.4 .2 .9 .3-.3 .3 .6 .2-1.1 .3 .3 .3 0 .2 0 .3 .6 .3-.1 .2-.7 .3 .3 .3-.1 .2 .5 .3-.5 .3-.4 .2 .3 .3 .2 .3 .4 .2 .2 .3 0 .2-.5 .3-.4 .3 .5 .2-.3 .3-.3 .3 .4 .2 .1 .3 .1 .3-.8 .2-.4 .3 .9 .3-.8 .2 .8 .3-1.1 .3 .1 .2-.7 .3 1.6 .3-1.3 .2 0 .3-.4 .2 0 .3 .4 .3-.4 .2-.1 .3 .6 .3-1.1 .2 1.2 .3 .4 .3-1.2 .2 .9 .3-.5 .3-.2 .2 .7 .3 .7 .3 .3 .2-.4 .3-.2 .3 .3 .2-.1 .3 .1 .3-.7 .2 1 .3 0 .2 1.1 .3-.7 .3-.3 .2 .1 .3 .1 .3-.5 .2-.6 .3 .6 .3 .2 .2 .2 .3-.4 .3-.1 .2 .3 .3 .1 .3 .3 .2-.4 .3 .3 .3-.6 .2 .8 .3-.4 .3-.6 .2 .5 .3 .1 .2-.5 .3 .8 .3-.5 .2 .3 .3-.7 .3 .6 .2 .1 .3-.6 .3 0 .2-.3 .3 .2 .3-.4 .2-.1 .3-.7 .3-1.1 .2-.6 .3-.3 .3-.3 .2 .1 .3-1.4 .2-1.2 .3-1.1 .3 .9 .2-.1 .3-.2 .3 1.5 .2 .2 .3 .6 .3 .1 .2 2 .3 .2 .3 .4 .2 .2 .3 .6 .3 1 .2-.1 .3 .8 .3-.3 .2-.2 .3 .3 .3-.3 .2-.7 .3 .4 .2 .5 .3-.6 .3 .2 .2-.3 .3 1.3 .3-1.3 .2 .1 .3 .1 .3 .8 .2 .1 .3-.7 .3 .5 .2-.7 .3 .4 .3 1.2 .2-.8 .3-.4 .3-.6 .2 .5 .3-.5 .3-.4 .2 1.3 .3 0 .2-.2 .3 .4 .3-1.2 .2 1.4 .3-1.2 .3 .7 .2 0 .3 .3 .3 .4 .2-.7 .3-.3 .3-.4 .2 .6 .3-.5 .3-.2 .2 .5 .3 .4 .3-.4 .2-.4 .3 .6 .2-.7 .3-.1 .3 1.4 .2-.6 .3 .8 .3-1.6 .2 1.2 .3-.6 .3 1.3 .2-1.3 .3-.1 .3 .4 .2-.1 .3-.3 .3 .6 .2-.1 .3 0 .3-.2 .2-.5 .3 0 .3 .6 .2-.7 .3 1.2 .2-.8 .3-.4 .3 .9 .2-.5 .3 .5 .3-.4 .2 .7 .3-1 .3-.8 .2 .2 .3 0 .3 1 .2 .5 .3-.9 .3-.5 .2 .9 .3-.2 .3-.4 .2 .4 .3-.2 .3-.6 .2 .8 .3-.5 .2-.2 .3 .2 .3 .8 .2 .2 .3-.3 .3-.9 .2-.3 .3 .6 .3-.3 .2 .1 .3-.6 .3 0 .2-.2 .3 .8 .3 0 .2-.9 .3 .4 .3-.2 .2-1 .3-.1 .2-.3 .3-1.7 .3-.2 .2-2.4 .3-2.2 .3-3.1 .2-4.3 .3-3.6 .3-5.4 .2-6 .3-6.1 .3-6 .2-6.1 .3-5.2 .3-3.4 .2-1.5 .3-.1 .3 1.8 .2 4.6 .3 4.7 .3 6.3 .2 5.9 .3 5.7 .2 5.5 .3 5.2 .3 4.6 .2 2.5 .3 4 .3 2.4 .2 .9 .3 .7 .3 .5 .2 1.3 .3 .4 .3 0 .2 .3 .3-.6 .3 .1 .2 0 .3-.6 .3-.2 .2-.7 .3-1.5 .3-1.8 .2-1.9 .3-2 .2-4.6 .3-4 .3-6.3 .2-5.4 .3-9.3 .3-8.5 .2-10.6 .3-8.4 .3-12.2 .2-8.7 .3-8.9 .3-5.1 .2-4.2 .3 0 .3 2.3 .2 6.1 .3 7.9 .3 10.1 .2 8.3 .3 11.6 .2 9.7 .3 9 .3 8.5 .2 7.4 .3 5.9 .3 4.8 .2 3.5 .3 3.1 .3 2.7 .2 1 .3 1.4 .3 1.1 .2 .7 .3 .5 .3 .1 .2-.6 .3 1.5 .3 .2 .2 .3 .3-.3 .3 .3 .2-.4 .3-.3 .2 .5 .3 0 .3 .6 .2 0 .3-.6 .3 .1 .2 .1 .3 .1 .3 .5 .2-.9 .3 .6 .3-1.4 .2 .1 .3 .7 .3-1 .2-.5 .3-.3 .3-.8 .2-.4 .3-.3 .3-.2 .2-.1 .3-.3 .2 .6 .3-.1 .3 1.1 .2 .1 .3 .7 .3 .5 .2 0 .3 .5 .3 .5 .2 .5 .3 .5 .3-.3 .2-.2 .3 .5 .3-.1 .2 .4 .3 .3 .3 .3 .2-1.6 .3 .6 .2 .2 .3 .4 .3-.1 .2-.2 .3 .3 .3-.6 .2 .1 .3 .3 .3-.6 .2 1.2 .3-1.1 .3-.1 .2 .6 .3-.9 .3 .6 .2 .1 .3 .7 .3 .8 .2-1.3 .3-.7 .3 .7 .2 .2 .3-.7 .2 .6 .3 .5 .3-.5 .2-.6 .3 .1 .3-.5 .2 .6 .3-.1 .3 .9 .2-1.4 .3 0 .3 .8 .2 .1 .3-.5 .3 .3 .2 .2 .3 0 .3-.2 .2 0 .3-.9 .2 1 .3-.4 .3-.5 .2 .1 .3-.1 .3-.4 .2-.1 .3-.6 .3-1.1 .2 .7 .3-2 .3-.8 .2-3.1 .3-1.4 .3-3.4 .2-1.9 .3-2.8 .3-2.2 .2-1.8 .3-.1 .3 1.2 .2 .2 .3 2.9 .2 2.3 .3 2.8 .3 3.2 .2 2.2 .3 1.3 .3 2 .2 .2 .3 .8 .3 .9 .2 .4 .3-.1 .3-.4 .2 .6 .3 .2 .3-1.4 .2-.5 .3-1.5 .3-.6 .2-1.9 .3-1 .3-.9 .2-1.8 .3-1.5 .2 .3 .3-.8 .3 2.3 .2 1 .3 .9 .3 1.9 .2 1.1 .3 2.5 .3 .3 .2 0 .3 .6 .3 .5 .2-.3 .3 .2 .3-.3 .2-1.4 .3 .1 .3-.4 .2-1.6 .3-.8 .2-1.2 .3-.3 .3 .5 .2 0 .3 .5 .3 2 .2 .3 .3 1.2 .3 .6 .2 .5 .3 .3 .3-.1 .2-.6 .3 0 .3-1.2 .2-.7 .3-1.7 .3-1.1 .2-2 .3-.5 .3-1.9 .2-1.6 .3-1 .2 .5 .3 1.6 .3 .2 .2 2.2 .3 1 .3 1.4 .2 1.1 .3 1.7 .3 1.3 .2 .6 .3 .3 .3-.3 .2 .7 .3-.5 .3 .1 .2 .5 .3-.8 .3 .5 .2-.7 .3 .3 .3-1.4 .2-.6 .3-1 .2-1.7 .3-2 .3-3.5 .2-1.9 .3-4.6 .3-3.4 .2-4.9 .3-3.2 .3-4 .2-2.9 .3-2.3 .3-.1 .2 .9 .3 2.7 .3 3.9 .2 2.6 .3 5.2 .3 4 .2 3.1 .3 3.8 .2 3.7 .3 1.8 .3 1.4 .2 2 .3 1 .3 0 .2 1 .3 .6 .3 .4 .2 .4 .3 .1 .3 .2 .2-.2 .3 .2 .3 .1 .2 .5 .3-.2 .3-.1 .2 .6 .3 .8 .3-1.1 .2 .7 .3-.8 .2 .4 .3 .4 .3 .1 .2 .5 .3-1.2 .3 .3 .2 .6 .3 0 .3-.9 .2 .4 .3 .4 .3 .2 .2-1 .3 .6 .3-1.2 .2 1.5 .3 .3 .3-1.2 .2 .4 .3-.6 .3 .5 .2 .4 .3 0 .2 0 .3-.8 .3 .2 .2 1.2 .3-.7 .3-.3 .2 .3 .3-.4 .3 .3 .2-.4 .3 0 .3-.5 .2 1.5 .3-.5 .3-.2 .2 0 .3-.6 .3-.6 .2 .4 .3-.3 .2-.6 .3-1.1 .3-1.3 .2 .1 .3-1.2 .3-1.3 .2-1.2 .3-1 .3-1 .2-1 .3 .4 .3 .1 .2 .9 .3 .5 .3 1.3 .2 .5 .3 1.8 .3 1.8 .2 0 .3 1.1 .3 .8 .2 .3 .3 .3 .2-.5 .3 .6 .3 1.2 .2-.5 .3 .1 .3 .9 .2-1.6 .3 1.3 .3-.2 .2-1.1 .3 .6 .3 .5 .2-.5 .3 0 .3 .6 .2-.3 .3 .1 .3-.1 .2 .1 .3 .1 .3 .9 .2-.8 .3-.5 .2 .5 .3-.1 .3 1.4 .2-2.1 .3 .9 .3-.2 .2 .6 .3-1.1 .3-.1 .2 .7 .3 .2 .3-.2 .2 .1 .3-.3 .3 .5 .2-.4 .3-.3 .3 .9 .2-1 .3-.4 .2 .6 .3 .1 .3 0 .2-.1 .3 .3 .3-.3 .2-.2 .3 1 .3-.7 .2 .5 .3-.4 .3 .2 .2 .4 .3-1.5 .3 1.3 .2-.5 .3 .4 .3-.6 .2 .2 .3-.1 .3-.4 .2 .4 .3 .9 .2-.3 .3 .1 .3-.8 .2 0 .3-.1 .3-.8 .2 .8 .3-.3 .3 .7 .2-.1 .3-.3 .3-.8 .2-.1 .3 .5 .3-.9 .2-.2 .3-1.3 .3-.1 .2-1.4 .3-.9 .3-.5 .2-1.2 .3-.8 .2 .7 .3-.3 .3-.4 .2 .7 .3 1.2 .3 .1 .2 0 .3 2.9 .3-.9 .2 1.2 .3-.2 .3 .5 .2 1.5 .3-.4 .3 1.1 .2-.2 .3 .1 .3 .4 .2 .1 .3 .4 .2-1.2 .3 .3 .3 .6 .2 .1 .3-.6 .3-.3 .2 .6 .3-1.4 .3 .6 .2 1.3 .3-1.1 .3 1.5 .2-.8 .3 .1 .3 1.1 .2-.8 .3-.6 .3-.1 .2 0 .3-.7 .3 1.1 .2-.1 .3-.3 .2 .7 .3-.7 .3-.5 .2 .3 .3 .4 .3 .2 .2 .7 .3-1 .3 .4 .2 .2 .3-.2 .3-.1 .2-.6 .3 .3 .3 1.1 .2-.9 .3-.1 .3-.5 .2 .7 .3 .6 .3-1 .2-.2 .3 .4 .2-.2 .3-.1 .3 1.3 .2-.6 .3-1 .3 .6 .2 .4 .3-.5 .3 .5 .2-.9 .3 .7 .3-.2 .2 .2 .3-.2 .3-.3 .2 .4 .3 .1 .3 0 .2-.9 .3 .4 .2 .1 .3 0 .3-.1 .2 .2 .3 .5 .3 .1 .2-.3 .3-.3 .3-1.8 .2 1 .3 .4 .3-.9 .2 .7 .3-1.2 .3-.1 .2-.8 .3-.4 .3-1.5 .2-.3 .3-1.1 .3-1 .2-1 .3 .5 .2-1.3 .3 .6 .3-.2 .2 .7 .3 .3 .3 .8 .2 .2 .3 2.6 .3 0 .2 .6 .3-.9 .3 1.1 .2 .2 .3 .5 .3-.3 .2 .5 .3-.3 .3 .2 .2 .1 .3-.9 .3 .2 .2 .1 .3 1 .2-.2 .3 .2 .3-.1 .2 1 .3 0 .3 .3 .2-.1 .3-.4 .3 1.3 .2-.5 .3 .2 .3-.5 .2 1 .3-1 .3 .2 .2-.2 .3-.1 .3 .8 .2-.6 .3-.2 .2 .3 .3-.1 .3 0 .2-.4 .3 .1 .3-1.1 .2 0 .3 .4 .3-.5 .2-1.7 .3 .4 .3-.8 .2 0 .3-1.4 .3 .3 .2 0 .3-.9 .3 .6 .2 1.1 .3 0 .3 1.1 .2 .3 .3-.1 .2 1.1 .3 .6 .3-.1 .2 1 .3-.8 .3 .8 .2 0 .3-.2 .3-.2 .2-.2 .3 .4 .3 .5 .2-.2 .3 .3 .3-.1 .2-.1 .3 .4 .3 .2 .2-1 .3 .8 .3-.8 .2 1.7 .3-1.4 .2 .2 .3 .6 .3-.2 .2 .2 .3 .2 .3-.7 .2 1 .3-1.2 .3 .2 .2 .5 .3-1.4 .3 .7 .2 .2 .3 .5 .3-.7 .2 .7 .3-.8 .3 .9 .2-.1 .3-.6 .2 .1 .3 0 .3 0 .2-.1 .3 .8 .3-.4 .2 0 .3-.9 .3 .7 .2 .5 .3-.4 .3-.3 .2 .1 .3 .4 .3-.4 .2-.9 .3 .6 .3 .4 .2-.8 .3 .6 .3 .1 .2 .7 .3-.4 .2-.7 .3-1.1 .3 .7 .2-1 .3-.1 .3 .7 .2-1.1 .3 .5 .3-.4 .2 .3 .3-.5 .3 .2 .2 .9 .3-.2 .3 .1 .2 .1 .3 .5 .3-.1 .2 .5 .3-.2 .3-.7 .2 .1 .3 .5 .2 1.2 .3-.3 .3-.9 .2-.2 .3 0 .3-.1 .2 .4 .3-1.2 .3-.8 .2-.2 .3-1.1 .3 .3 .2-1.8 .3-1.1 .3-1.4 .2-2.3 .3-.4 .3-1.1 .2-1.5 .3-.3 .2-.5 .3 .3 .3 1.1 .2 .5 .3 1.6 .3 1.2 .2 1.4 .3 1.1 .3 1.2 .2 1.4 .3 1.4 .3 .4 .2 1 .3 0 .3-.4 .2 1.5 .3-.3 .3 .6 .2 0 .3 .1 .3-.1 .2-1.5 .3 1.7 .2-.2 .3 .3 .3 .1 .2-.3 .3 .2 .3-.9 .2 .7 .3 .3 .3-.1 .2-.6 .3-.5 .3 .6 .2 .3 .3 .1 .3 .6 .2-.1 .3-.9 .3 .6 .2-.5 .3 .6 .3-.7 .2 .9 .3-.8 .2 .1 .3-.3 .3 .8 .2-.3 .3 .1 .3 .2 .2-.7 .3 1.1 .3-.4 .2-.2 .3-.1 .3-.2 .2-.1 .3 .7 .3-.4 .2-.1 .3-.2 .3 .3 .2 .9 .3-.7 .2-1.1 .3-.2 .3 1.4 .2-1 .3 .8 .3 .1 .2 0 .3 .6 .3-1.1 .2 .3 .3-.4 .3-.3 .2 .3 .3 1 .3-.1 .2-1 .3 .7 .3-.4 .2 .4 .3-.8 .3 .4 .2-.1 .3-.6 .2 0 .3-.1 .3 0 .2 .6 .3-.3 .3-.3 .2-.7 .3 0 .3-1.1 .2 .3 .3 .5 .3-.3 .2-.3 .3 .7 .3 .1 .2 .2 .3-.1 .3 .7 .2-.1 .3-.2 .3 .5 .2 .3 .3 .3 .2-.1 .3-1.4 .3 1.1 .2-.4 .3-.4 .3 0 .2-.4 .3-1.1 .3-1.2 .2-1 .3-.7 .3-.9 .2-1.4 .3 .1 .3-.8 .2-.8 .3 .3 .3-.2 .2-.1 .3 1.3 .2 1.4 .3 0 .3 .5 .2 2 .3-.4 .3 1.1 .2 1.3 .3 .2 .3 1.4 .2-.5 .3 .6 .3 .4 .2-.4 .3 .4 .3-1 .2 1.8 .3-.9 .3-.1 .2-.2 .3 .4 .3-.3 .2 .3 .3-.4 .2-.3 .3 .3 .3-.1 .2 .6 .3-.2 .3-.3 .2 .3 .3-.4 .3 .2 .2-.2 .3 .2 .3-.8 .2 .2 .3-.2 .3-.7 .2 .2 .3-.5 .3 0 .2-1.4 .3-.7 .3-.7 .2 .1 .3-1 .2-.9 .3-.1 .3-.4 .2-.1 .3-.7 .3-1.1 .2 .8 .3-.9 .3 .8 .2 .6 .3-.5 .3 1.3 .2 .6 .3 1.6 .3-.6 .2 1.2 .3 .1 .3 .6 .2-.1 .3 1.1 .2 .3 .3 .1 .3-1.4 .2-.1 .3 .6 .3 .3 .2-.5 .3-.8 .3-.5 .2 .8 .3-.3 .3-1.1 .2 .2 .3 .1 .3 1.2 .2-.4 .3 .5 .3-.5 .2 .9 .3 .2 .3 .5 .2 .5 .3 0 .2-.2 .3 1.1 .3-.9 .2 .1 .3-.5 .3 .8 .2-.2 .3-.6 .3-.2 .2 .3 .3-.3 .3-.4 .2 .7 .3 .4 .3-.1 .2 .5 .3 0 .3 .8 .2-.1 .3-.3 .3 .8 .2-.2 .3-.3 .2-.1 .3 .2 .3-.8 .2 .4 .3 0 .3-.7 .2 0 .3-.5 .3-.7 .2 0 .3-.5 .3-.7 .2-.5 .3-1.3 .3-.9 .2-.4 .3 .1 .3 0 .2-.9 .3 .8 .2 .3 .3 1 .3-.5 .2 1.7 .3 .1 .3 .2 .2 2.2 .3-.1 .3 1.5 .2 .1 .3 .5 .3 .1 .2-.4 .3 .5 .3-.8 .2 .2 .3 .8 .3 .6 .2-.6 .3-.6 .3 .5 .2 .3 .3 .2 .2-.4 .3 .7 .3-.2 .2-.3 .3-.4 .3 1.3 .2-1.3 .3 .1 .3-.3 .2 .5 .3-.9 .3 1.1 .2-1 .3 1 .3-.9 .2 .1 .3 .2 .3 .4 .2-.2 .3-.3 .3 .4 .2 .3 .3-1.1 .2 1.4 .3-.6 .3-1.1 .2 1.2 .3-.1 .3-.2 .2 .1 .3 0 .3 .5 .2-.3 .3 .2 .3-.4 .2 .7 .3-.6 .3 .3 .2-.4 .3 0 .3 .5 .2-.1 .3-.3 .2 0 .3-.3 .3 .4 .2-.1 .3 .1 .3-.3 .2-.2 .3 .4 .3-.6 .2 .4 .3 0 .3 .1 .2-.6 .3-.1 .3 .2 .2-.4 .3 .1 .3-.3 .2-.1 .3-.4 .3 .4 .2 .1 .3-.1 .2-.2 .3 .2 .3 .6 .2-.6 .3-.2 .3 1.1 .2-.9 .3 1 .3-.3 .2-.8 .3 .6 .3 .1 .2 .1 .3 0 .3 .5 .2 0 .3 .5 .3-.7 .2 .1 .3 .4 .2-.3 .3-.1 .3 .4 .2-.6 .3 0 .3 .3 .2 .4 .3 .1 .3-.8 .2 .2 .3 .4 .3 0 .2-.5 .3 .7 .3-.5 .2 0 .3-.3 .3 .7 .2 0 .3-.7 .3 .6 .2-.2 .3-.2 .2-.4 .3 .3 .3-.7 .2 0 .3 0 .3 .3 .2 .3 .3-1.4 .3 .7 .2-.2 .3 .5 .3-.7 .2 1.4 .3-1 .3 1 .2-1.1 .3 .8 .3 .6 .2-.1 .3-.9 .3 0 .2-.1 .3 .9 .2-.8 .3 1.5 .3-.4 .2 .3 .3-.8 .3 .2 .2 .1 .3-.6 .3 0 .2 .7 .3-.3 .3 .2 .2-.5 .3 .8 .3 .3 .2-.4 .3-.4 .3 .6 .2 0 .3-.3 .2-.5 .3-.5 .3 1.7 .2-.6 .3-.4 .3-.1 .2-.7 .3 1.5 .3-.5 .2 .1 .3-.2 .3 .1 .2 .2 .3-.8 .3 .3 .2 .5 .3 .3 .3-.4 .2 .1 .3-.7 .3 .1 .2 .4 .3-.1 .2-.2 .3 .1 .3-.8 .2 0 .3 .9 .3-.4 .2-.4 .3 .4 .3 1.3 .2-1.9 .3 .3 .3-.3 .2-.3 .3-.2 .3 .7 .2-.8 .3-.6 .3 1.5 .2-1.1 .3 .7 .3-.2 .2-.2 .3 1 .2-1.1 .3 .6 .3 .2 .2-.8 .3 .4 .3 .9 .2 .6 .3-.5 .3-1.3 .2 1.7 .3-1.2 .3 .4 .2 .4 .3 .1 .3-.1 .2 0 .3 1.2 .3-1.7 .2 .8 .3 .3 .2-.1 .3-1.1 .3 1.4 .2-.1 .3-1 .3 .1 .2 .9 .3-.6 .3-.6 .2 .6 .3-.7 .3-.2 .2-.6 .3 .9 .3-.7 .2-.3 .3-.1 .3 .3 .2-.7 .3 .1 .3-.8 .2 .2 .3 0 .2-1 .3-.2 .3-.7 .2 .5 .3 1.2 .3-.2 .2-.8 .3 .6 .3 .5 .2 .6 .3 .4 .3 .2 .2 .5 .3 .1 .3-.1 .2 .5 .3-1.1 .3 .9 .2 .4 .3 .5 .3 0 .2 .4 .3-.1 .2-.4 .3 0 .3 .2 .2-.4 .3 0 .3 .3 .2-.6 .3 .6 .3 0 .2 .6 .3-1.2 .3 .3 .2 .8 .3-.8 .3 .4 .2-.5 .3 .9 .3-1.2 .2 .4 .3-.1 .2 .9 .3-.5 .3-.9 .2 1.6 .3-1.4 .3 .7 .2 .3 .3-.6 .3-.1 .2-.3 .3-.1 .3 1.9 .2-.7 .3 .1 .3-1.4 .2 .5 .3-.3 .3 .9 .2 .5 .3-1.1 .3-.1 .2 1 .3-1.2 .2 .8 .3-.6 .3 .6 .2-.6 .3-.5 .3 .7 .2-.9 .3 .8 .3 .5 .2-.4 .3-1.4 .3-.4 .2-.7 .3 .4 .3-.5 .2-.2 .3 1 .3-1.1 .2-.4 .3-.7 .3 .1 .2 0 .3-.2 .2 .4 .3 .2 .3-.5 .2 .1 .3 1.4 .3-.9 .2 1.2 .3 .3 .3 1 .2-.8 .3-.1 .3 1.6 .2-.9 .3-.5 .3 .6 .2 .6 .3 .7 .3-.3 .2-.2 .3-.3 .2 .4 .3 .2 .3-.6 .2 .4 .3 .6 .3-.9 .2-.1 .3 0 .3 .1 .2-.5 .3 .5 .3-.3 .2-.1 .3-.7 .3 .4 .2 .1 .3-1.2 .3-.3 .2-.3 .3-.6 .3-.3 .2 .2 .3-.8 .2-.8 .3-.5 .3-.7 .2 .3 .3-1.2 .3 0 .2-.4 .3-1.1 .3 .4 .2 .2 .3-1.2 .3 .4 .2 .7 .3 .1 .3 .6 .2 .7 .3-.1 .3 .5 .2 .5 .3-.7 .3 1.2 .2 .6 .3 .9 .2-.3 .3 .9 .3 .3 .2-.6 .3 0 .3 1.5 .2-.8 .3 .9 .3-.3 .2 .3 .3-1.2 .3 1.8 .2-2.3 .3 .6 .3 .7 .2 .4 .3-.2 .3 .1 .2-.8 .3 .7 .2 .6 .3-1.2 .3 .4 .2 .7 .3 .8 .3-.2 .2-.6 .3 .4 .3 .2 .2-.4 .3 1.8 .3-1 .2 0 .3-.4 .3 1 .2-.1 .3 .7 .3-.2 .2-.4 .3 .4 .3 .6 .2-1.1 .3 .1 .2 .6 .3-.6 .3 .5 .2-.7 .3 .8 .3 0 .2-.6 .3-.3 .3 .7 .2-.1 .3-.6 .3 1.1 .2-.8 .3 1 .3-.1 .2-.5 .3 .2 .3-.9 .2 .6 .3 .3 .3-.9 .2-.1 .3 1.4 .2-.5 .3 .4 .3-.2 .2-1.7 .3 .8 .3 .4 .2 .1 .3 0 .3-.4 .2 .2 .3-.4 .3 1 .2-1.1 .3 .1 .3 .5 .2-.8 .3 .2 .3-.7 .2 .1 .3-.1 .2-1.2 .3-.4 .3-.2 .2 .5 .3-.5 .3-.3 .2 0 .3-1.1 .3-.3 .2 .2 .3 .2 .3 .6 .2-.2 .3 .5 .3-.1 .2-.1 .3 2 .3-.4 .2 .1 .3 .6 .3 1.2 .2-.9 .3 .2 .2 0 .3 .3 .3-.6 .2 1.6 .3-.5 .3-.3 .2 .9 .3-.6 .3 .8 .2-.7 .3 .1 .3 .1 .2 .2 .3-.6 .3 0 .2 .4 .3-.9 .3-.5 .2 1.3 .3 .1 .3 .5 .2-.6 .3 .5 .2 .2 .3-.6 .3-.4 .2-.1 .3 .3 .3-.5 .2 .7 .3 .2 .3-.6 .2 .7 .3-.9 .3 .4 .2 0 .3-1 .3 .6 .2 .5 .3 0 .3 0 .2-1.1 .3 .3 .2-.9 .3 .9 .3-.4 .2 .2 .3-1.1 .3 1.1 .2-.7 .3-.7 .3 .9 .2 .6 .3-.8 .3 0 .2-.7 .3 .7 .3 .6 .2-.2 .3 0 .3-.1 .2 1.3 .3-1 .3-.4 .2 1 .3-.1 .2 0 .3-.1 .3 .1 .2-.1 .3 1 .3-.8 .2 0 .3 .6 .3 .2 .2-.1 .3-.3 .3-.1 .2 .3 .3-.2 .3 .1 .2 .5 .3-.4 .3 .4 .2-.7 .3 .2 .3 .1 .2 .2 .3-.7 .2 .1 .3 1.2 .3-.7 .2-.3 .3-.5 .3 .5 .2 .7 .3 .1 .3-1.1 .2 .5 .3 .3 .3 0 .2-.2 .3-.1 .3 .2 .2-.4 .3 .4 .3 .2 .2-.5 .3 .7 .2-.1 .3-.7 .3 0 .2 .3 .3 .1 .3 0 .2-.1 .3-.2 .3 1.1 .2-.2 .3-.7 .3 0 .2 .1 .3 .2 .3-.4 .2 .3 .3-1.4 .3 .5 .2-.1 .3-.4 .3 .5 .2-.2 .3-.2 .2-.1 .3 .7 .3-.7 .2 .6 .3-.7 .3 .4 .2-.7 .3-.2 .3 1 .2-.2 .3 1 .3-.7 .2 0 .3 0 .3-.3 .2 .5 .3-.4 .3 .5 .2-.5 .3 .9 .3-.4 .2-.1 .3 .3 .2-.4 .3-.5 .3 .7 .2 .6 .3-.7 .3 .7 .2 0 .3-.1 .3-1 .2 2 .3-.6 .3-.5 .2-.4 .3-.1 .3-.3 .2 .6 .3 .6 .3-1 .2 .5 .3 .4 .2 .1 .3-.3 .3-.5 .2 1.2 .3-.6 .3 0 .2 .2 .3-.8 .3-.1 .2 0 .3 1.1 .3-.4 .2-.9 .3 .1 .3 .6 .2-.6 .3 .5 .3 .2 .2 0 .3 .3 .3 .3 .2-.7 .3 .1 .2 .6 .3-.6 .3 0 .2 .3 .3-.4 .3-.1 .2 .6 .3-.7 .3 .1 .2 .2 .3 .3 .3-1.1 .2 1.3 .3-.2 .3-.9 .2 .9 .3-.7 .3 .8 .2-.6 .3 .2 .3-.7 .2 .5 .3-.1 .2 .5 .3-.6 .3 .5 .2 .8 .3-1.1 .3 .5 .2-.7 .3 .6 .3-.9 .2 1.1 .3-.8 .3-.1 .2 0 .3 0 .3 .6 .2-.2 .3 .3 .3-.2 .2-.5 .3 .1 .2 .6 .3 .2 .3-.2 .2-.1 .3-.9 .3-.6 .2 1.5 .3-.7 .3-.4 .2 .3 .3 .3 .3-.5 .2-.3 .3 .2 .3 .4 .2-.1 .3-1.4 .3 1.2 .2-.4 .3 .4 .3-1.5 .2 .8 .3-.2 .2 .1 .3-.4 .3 .2 .2-.3 .3 .7 .3 1.2 .2-1.3 .3-.2 .3 1.8 .2-1.6 .3 0 .3 .6 .2-.8 .3 .4 .3-.5 .2 1 .3-.5 .3 .1 .2 .1 .3 .8 .3-.6 .2 .2 .3 .4 .2 .4 .3-1.6 .3 1.5 .2 .1 .3 .1 .3-.2 .2-.6 .3 .6 .3-.1 .2 0 .3-.2 .3 0 .2-.8 .3 1.1 .3 .3 .2 .1 .3 .3 .3-.2 .2-.7 .3 .5 .2-.5 .3 .7 .3-.7 .2 .9 .3-1.3 .3 .8 .2-.1 .3-.4 .3 0 .2 0 .3 .8 .3-.7 .2-.3 .3 0 .3 .9 .2-.6 .3 1.2 .3 0 .2-.8 .3-.3 .3 .7 .2-.8 .3 .8 .2-.3 .3-.2 .3-.4 .2 .5 .3-.2 .3 .2 .2-.2 .3 .8 .3-1.5 .2 .1 .3 .9 .3-.2 .2-.7 .3 .8 .3-.2 .2-1.3 .3 2 .3-.9 .2 0" fill="none" stroke="#f42424" stroke-width="3.00" stroke-linejoin="round" stroke-linecap="butt"/>
<line x1="85.3" y1="148.0" x2="827.7" y2="148.0" stroke="#000" stroke-width="2.4"/>
<line x1="85.3" y1="416.1" x2="827.7" y2="416.1" stroke="#000" stroke-width="2.4"/>
<line x1="138.33" y1="558.0" x2="138.33" y2="552.0" stroke="#111" stroke-width="2.6"/>
<line x1="191.36" y1="558.0" x2="191.36" y2="545.5" stroke="#111" stroke-width="2.6"/>
<line x1="244.39" y1="558.0" x2="244.39" y2="552.0" stroke="#111" stroke-width="2.6"/>
<line x1="297.42" y1="558.0" x2="297.42" y2="545.5" stroke="#111" stroke-width="2.6"/>
<line x1="350.45" y1="558.0" x2="350.45" y2="552.0" stroke="#111" stroke-width="2.6"/>
<line x1="403.48" y1="558.0" x2="403.48" y2="545.5" stroke="#111" stroke-width="2.6"/>
<line x1="456.51" y1="558.0" x2="456.51" y2="552.0" stroke="#111" stroke-width="2.6"/>
<line x1="509.54" y1="558.0" x2="509.54" y2="545.5" stroke="#111" stroke-width="2.6"/>
<line x1="562.57" y1="558.0" x2="562.57" y2="552.0" stroke="#111" stroke-width="2.6"/>
<line x1="615.60" y1="558.0" x2="615.60" y2="545.5" stroke="#111" stroke-width="2.6"/>
<line x1="668.63" y1="558.0" x2="668.63" y2="552.0" stroke="#111" stroke-width="2.6"/>
<line x1="721.66" y1="558.0" x2="721.66" y2="545.5" stroke="#111" stroke-width="2.6"/>
<line x1="774.69" y1="558.0" x2="774.69" y2="552.0" stroke="#111" stroke-width="2.6"/>
<path d="M86.25 558.00 V6.95 H827.72" fill="none" stroke="#767676" stroke-width="2" stroke-linecap="square"/>
<path d="M84.35 558.00 V5.05 H827.72" fill="none" stroke="#343434" stroke-width="2.3" stroke-linecap="square"/>
<path d="M828.12 4.50 V558.00 H83.30" fill="none" stroke="#050505" stroke-width="2.1" stroke-linecap="square"/>
<text x="115.5" y="65.0" font-size="45.0" text-anchor="start" fill="#111" stroke="none" >(a)</text>
<text x="817.0" y="53.8" font-size="35.0" text-anchor="end" fill="#111" stroke="none" ><tspan dy="0.0" font-size="35.0">Bi</tspan><tspan dy="9.8" font-size="23.1">2</tspan><tspan dy="-9.8" font-size="35.0">WO</tspan><tspan dy="9.8" font-size="23.1">6</tspan><tspan dy="-9.8" font-size="35.0"> PDF#39-0256</tspan></text>
<text x="611.6" y="261.3" font-size="35.0" text-anchor="start" fill="#111" stroke="none" ><tspan dy="0.0" font-size="35.0">Bi</tspan><tspan dy="9.8" font-size="23.1">2</tspan><tspan dy="-9.8" font-size="35.0">WO</tspan><tspan dy="9.8" font-size="23.1">6</tspan></text>
<text x="804.8" y="376.5" font-size="35.0" text-anchor="end" fill="#111" stroke="none" ><tspan dy="0.0" font-size="35.0">Ag</tspan><tspan dy="9.8" font-size="23.1">2</tspan><tspan dy="-9.8" font-size="35.0">CO</tspan><tspan dy="9.8" font-size="23.1">3</tspan><tspan dy="-9.8" font-size="35.0"> PDF#70-2184</tspan></text>
<text x="615.3" y="513.4" font-size="35.0" text-anchor="start" fill="#111" stroke="none" ><tspan dy="0.0" font-size="35.0">Ag</tspan><tspan dy="9.8" font-size="23.1">2</tspan><tspan dy="-9.8" font-size="35.0">CO</tspan><tspan dy="9.8" font-size="23.1">3</tspan></text>
<text x="85.3" y="601.0" font-size="35.5" text-anchor="middle" fill="#111" stroke="none" >10</text>
<text x="191.4" y="601.0" font-size="35.5" text-anchor="middle" fill="#111" stroke="none" >20</text>
<text x="297.4" y="601.0" font-size="35.5" text-anchor="middle" fill="#111" stroke="none" >30</text>
<text x="403.5" y="601.0" font-size="35.5" text-anchor="middle" fill="#111" stroke="none" >40</text>
<text x="509.5" y="601.0" font-size="35.5" text-anchor="middle" fill="#111" stroke="none" >50</text>
<text x="615.6" y="601.0" font-size="35.5" text-anchor="middle" fill="#111" stroke="none" >60</text>
<text x="721.7" y="601.0" font-size="35.5" text-anchor="middle" fill="#111" stroke="none" >70</text>
<text x="827.7" y="601.0" font-size="35.5" text-anchor="middle" fill="#111" stroke="none" >80</text>
<text x="338.6" y="642.0" font-size="39.5" fill="#111">2</text>
<text x="361.6" y="642.0" font-size="39.5" fill="#111" font-style="italic" textLength="20.5" lengthAdjust="spacingAndGlyphs">θ</text>
<text x="390.2" y="642.0" font-size="39.5" fill="#111" textLength="130" lengthAdjust="spacingAndGlyphs">(degree)</text>
<text transform="translate(32.3,287.6) rotate(-90) scale(0.95,1)" font-size="41.8" text-anchor="middle" fill="#111">Intensity (a.u)</text>
<path clip-path="url(#cr)" d="M1007.3 502.6l.3-1 .3-.1 .4-1 .3 1.3 .3-.2 .3-.1 .3 .4 .3 .1 .4-.7 .3 0 .3 .2 .3 .6 .3-.1 .4-.9 .3 .1 .3 .9 .3 .4 .3-.7 .3-.4 .4 .9 .3-.7 .3 .5 .3 .4 .3-.4 .4-.3 .3 .3 .3-.6 .3 .2 .3-.2 .3 .2 .4-.2 .3 .2 .3-.1 .3 .2 .3 0 .4 .1 .3 .5 .3-1.4 .3 1.4 .3-.8 .3-.4 .4 .5 .3 .1 .3 .5 .3-1 .3 .6 .4-.1 .3-.8 .3 .2 .3 .9 .3 0 .3 .2 .4-.3 .3 0 .3-.2 .3 .5 .3-.9 .4 .3 .3 .2 .3-.9 .3 1.4 .3-1 .3 .3 .4 1.1 .3-1.4 .3 .1 .3 1 .3-1.3 .4 .4 .3 .4 .3 0 .3 0 .3-.1 .3 .5 .4-.2 .3-.2 .3-.6 .3 0 .3-.6 .4 1.3 .3-1.2 .3 1.3 .3 .4 .3-1.4 .3 .2 .4 .1 .3 .7 .3-.9 .3 .4 .3-.2 .4 .1 .3 .8 .3-1.1 .3 .5 .3 .1 .3 .3 .4-1.1 .3 1.2 .3-.3 .3 .2 .3-.4 .4-.8 .3 .4 .3 .7 .3-.3 .3-.1 .3 .9 .4 .2 .3-1.1 .3 1 .3-1.9 .3 0 .4 1.4 .3-.6 .3 .4 .3 0 .3-.3 .3 .4 .4-.3 .3-.8 .3 .9 .3-.1 .3 .8 .4-1.4 .3 .6 .3-.3 .3 .2 .3 .8 .3-.6 .4-.4 .3 .3 .3 .3 .3-.8 .3 .3 .4 .9 .3-.3 .3-.5 .3-.2 .3 .2 .3-.7 .4 1.2 .3-.3 .3-.1 .3-.7 .3 .3 .4 .6 .3-.1 .3-.4 .3 .5 .3 .2 .3-.8 .4 .1 .3-.2 .3-.1 .3 .9 .3-.1 .4-.1 .3-.7 .3 0 .3 .5 .3-.2 .3 .3 .4-.4 .3 .7 .3 .5 .3-.1 .3 0 .4-.7 .3 .4 .3-.6 .3 .6 .3-.6 .3-.1 .4-.1 .3 .7 .3-.2 .3-.1 .3-.6 .4 .6 .3-.8 .3 1.4 .3-.7 .3 .1 .3-.1 .4-.7 .3 .1 .3 .6 .3 .8 .3-1.3 .4 .2 .3 .3 .3-.8 .3 0 .3 .6 .3 .2 .4-.2 .3 1 .3-.8 .3 .2 .3 .6 .4 .1 .3-1.6 .3 .6 .3 .7 .3-1.2 .3 .2 .4-.2 .3 0 .3 .1 .3 .6 .3 .5 .4 .2 .3-.8 .3-.9 .3 .9 .3-.1 .3 .3 .4-.2 .3-.8 .3 1 .3-1.2 .3 .7 .4 .5 .3 0 .3 .6 .3-1.9 .3 1.3 .3 .2 .4-.5 .3 .4 .3-.8 .3 .8 .3 0 .4-.7 .3 .1 .3 .2 .3-.2 .3 .8 .3-.4 .4 .6 .3-.1 .3-.6 .3-.1 .3-.3 .4 0 .3 0 .3 .6 .3-.6 .3 .5 .3 0 .4-.3 .3 .1 .3 .8 .3 .1 .3-1.2 .4 .3 .3-.1 .3 .1 .3 .9 .3-.5 .3 .3 .4 .3 .3-1.1 .3 .1 .3 .1 .3 .5 .4-.5 .3 .3 .3 .3 .3 0 .3-.4 .3-.6 .4-.3 .3 1.2 .3-.3 .3-.6 .3 .2 .4 0 .3-.6 .3 .9 .3-.5 .3 .3 .3 .5 .4-.4 .3 .3 .3-.1 .3-.2 .3 0 .4 .9 .3-1 .3 .9 .3-1.2 .3 .7 .3-.2 .4-.5 .3-.9 .3 2.1 .3-1.4 .3 .1 .4 .6 .3-.1 .3 .1 .3-.2 .3-.6 .3 1.1 .4-.8 .3 .5 .3 .2 .3 .3 .3-.7 .4-.1 .3 .1 .3-.8 .3 .5 .3-.1 .3-.1 .4 .7 .3-.3 .3 .9 .3 0 .3-1.6 .4 .9 .3-.5 .3 .7 .3-.2 .3 .4 .3-.3 .4 .2 .3-.5 .3-1 .3 .6 .3 .2 .4 .1 .3-.2 .3 1.2 .3-.8 .3 .7 .3-.8 .4 1 .3-1.4 .3 .8 .3-.9 .3 .9 .4 .5 .3-1.5 .3 .3 .3 .6 .3-.2 .3-.6 .4 1.2 .3-.5 .3 .6 .3-.5 .3-.7 .4 .3 .3 .9 .3-1.3 .3 .4 .3 .5 .3 .2 .4-.1 .3-1.1 .3 1.7 .3-1 .3 0 .4 0 .3-.1 .3-.3 .3 .3 .3 .8 .3-1.3 .4-.5 .3 1.4 .3-.1 .3 .2 .3 .4 .4-1.1 .3 .4 .3 .2 .3 .3 .3-.1 .3-.9 .4-.3 .3 .6 .3-.7 .3 1.3 .3-.7 .4 0 .3-.2 .3 1.1 .3-.6 .3-.3 .3 .5 .4-.4 .3 .4 .3 .3 .3-.7 .3 .3 .4 0 .3 .3 .3-.2 .3-.3 .3-.3 .3 .4 .4-.6 .3 .8 .3-.3 .3 .2 .3-.5 .4-.1 .3-.1 .3 1 .3-.7 .3 0 .3-.7 .4 .8 .3-1.6 .3 2.3 .3-.8 .3 .1 .4-.7 .3 .2 .3 .8 .3-.4 .3 .3 .3 .4 .4-.3 .3-1.2 .3 .4 .3 0 .3 .1 .4-.6 .3 0 .3 .6 .3 .1 .3 .5 .3-.4 .4 .8 .3-1.5 .3 .2 .3 .8 .3-.3 .4-.3 .3 .8 .3 .2 .3 .1 .3-.9 .3 .2 .4 .1 .3-.1 .3 .5 .3-.7 .3 .4 .4-1.3 .3 1.5 .3 .4 .3-.8 .3 .5 .3-1.3 .4 .6 .3-.6 .3 .9 .3 .1 .3-.9 .4 .2 .3 .1 .3 1.5 .3-1.2 .3 .1 .3 .1 .4-.1 .3-.2 .3-.6 .3 .3 .3 1.1 .4-.6 .3-.3 .3-.5 .3 .6 .3 0 .3-.3 .4 .7 .3-.7 .3 .2 .3 .5 .3-.3 .4 .4 .3-.7 .3-.1 .3 .4 .3-.1 .3 .5 .4-.4 .3-.2 .3 .2 .3 .1 .3-.9 .4 .4 .3-.1 .3 .8 .3-.9 .3 .8 .3-1.2 .4 .6 .3 .5 .3-.6 .3 .6 .3-1.5 .4 .9 .3 .1 .3-.2 .3-.7 .3 1.1 .3-1.5 .4 1.5 .3-.3 .3 .3 .3-.6 .3-.5 .4 .3 .3 0 .3 .5 .3-.5 .3 .3 .3 0 .4 .4 .3-1.6 .3 .7 .3 .5 .3-.1 .4-.6 .3 .1 .3 0 .3 .1 .3-.4 .3-.1 .4-.3 .3 .3 .3 .8 .3-1.2 .3 .8 .4 .4 .3-.9 .3 1 .3-1.3 .3 .8 .3-1 .4-.6 .3 .6 .3 .7 .3-1.4 .3 .4 .4-.8 .3-.1 .3 .5 .3-.5 .3 .2 .3 .2 .4-1.4 .3 0 .3 .1 .3 .9 .3-1.6 .4-.3 .3 .1 .3 .5 .3-1.7 .3-.2 .3-.3 .4-.1 .3 .1 .3-2.2 .3-.9 .3 .2 .4-.6 .3-2.3 .3-.2 .3-.4 .3-2.1 .3-1 .4-1.8 .3-1.7 .3-2.3 .3-2.5 .3-2.3 .4-3.9 .3-3.1 .3-3.3 .3-4.9 .3-4.4 .3-5 .4-5.1 .3-3.8 .3-5.8 .3-4.1 .3-4.7 .4-3.6 .3-2.3 .3-.5 .3 .6 .3 2.6 .3 2.4 .4 4.7 .3 4.9 .3 4.7 .3 5.2 .3 5.4 .4 4.8 .3 4.1 .3 4.2 .3 3.5 .3 4 .3 2.7 .4 2.1 .3 3 .3 2.6 .3 1.8 .3 1.1 .4 2.3 .3 1.2 .3 1.2 .3 1.4 .3 .1 .3 1.2 .4 .3 .3 1.3 .3 .6 .3 .2 .3 .6 .4-.3 .3 1.1 .3-.5 .3 1.9 .3-.2 .3-1 .4-.3 .3 2.2 .3-.8 .3 .8 .3-.7 .4 .9 .3-.2 .3 .7 .3-.3 .3 1.1 .3-1 .4 1.1 .3-.5 .3 .4 .3-1 .3 .1 .4 1.4 .3-1 .3 .5 .3 .1 .3-.2 .3 .6 .4-.8 .3 .2 .3 1.1 .3-.8 .3 .8 .4 0 .3 .5 .3-.5 .3-1.1 .3 .6 .3 .2 .4 .8 .3-.4 .3-.4 .3 .5 .3-.4 .4 .5 .3-.2 .3 .5 .3-.4 .3 .4 .3-.5 .4 .4 .3-.5 .3 .4 .3-.2 .3-.1 .4-.2 .3 .1 .3 .4 .3-1.4 .3 1.7 .3-1.7 .4 1 .3-.1 .3 .5 .3-.2 .3-.2 .4 .1 .3 .4 .3 .6 .3-1 .3-1.2 .3 .8 .4 .3 .3 1.4 .3-2 .3 .1 .3 .4 .4-.1 .3-.9 .3 1 .3-1.1 .3 .4 .3 .7 .4-1.4 .3 .4 .3 .8 .3-1 .3-.5 .4 .1 .3 .5 .3-1.3 .3 .2 .3-.6 .3 0 .4 .9 .3-1 .3-.4 .3 0 .3-.9 .4-.7 .3 .7 .3-.7 .3-1.5 .3 0 .3-.5 .4-1.5 .3-1.2 .3-2.2 .3-1 .3-2.7 .4-.7 .3-3 .3-2 .3-4.1 .3-2.6 .3-4.9 .4-3.3 .3-3.5 .3-3.9 .3-3.6 .3-3.3 .4-.1 .3-.6 .3 1.4 .3 2.2 .3 2.5 .3 4 .4 5.1 .3 2.2 .3 4.4 .3 3.1 .3 4.3 .4 2.1 .3 1.9 .3 2.4 .3 1.6 .3 1.2 .3 1.2 .4 2.3 .3 .8 .3 1.6 .3 .3 .3 1.2 .4 1.4 .3-.9 .3 .4 .3 1.5 .3 1 .3-1.2 .4-.1 .3 .9 .3 .2 .3 .8 .3-.7 .4 .6 .3 .1 .3-.4 .3 .1 .3 1.1 .3 .2 .4-.5 .3 1.2 .3-.2 .3-.1 .3 .1 .4 0 .3 .2 .3 .2 .3-.3 .3-1 .3 1 .4-.3 .3-.1 .3 .9 .3-1.1 .3 1.3 .4-.7 .3-.2 .3 .2 .3 1.6 .3-.4 .3-.8 .4 .7 .3 .4 .3-1.3 .3 .3 .3 .6 .4-.2 .3-.4 .3 1 .3-.5 .3 .2 .3 .8 .4-1 .3 1.1 .3-1.1 .3-.2 .3 .1 .4 .4 .3-.1 .3-.2 .3-.9 .3 .2 .3 .4 .4 .5 .3 .3 .3-1.9 .3 1.1 .3-.2 .4 .1 .3 .1 .3-.6 .3-.4 .3 1.1 .3-.3 .4-.6 .3 0 .3-.4 .3-.4 .3 .9 .4-.8 .3-.2 .3 .2 .3 1.1 .3-.6 .3-.1 .4 0 .3 .5 .3 0 .3-.9 .3 .7 .4-.1 .3 .5 .3 0 .3-.8 .3 1.6 .3-.3 .4-.9 .3 1.5 .3-.4 .3 .2 .3-.2 .4 .2 .3-.3 .3-.6 .3 .6 .3 .4 .3-.1 .4 .4 .3-.4 .3-1 .3 1.4 .3-.7 .4-.3 .3 .5 .3-.5 .3 .9 .3-.6 .3 1.4 .4-1.1 .3-.2 .3 0 .3-.7 .3 .6 .4 .1 .3 .2 .3-.9 .3 1.1 .3 .6 .3-.9 .4 .2 .3 .3 .3-.6 .3 .2 .3 .6 .4-.3 .3-.7 .3-.3 .3 2 .3-.9 .3-1 .4 .9 .3 .2 .3-.2 .3-1 .3 1.8 .4-.6 .3-.4 .3 .5 .3-.5 .3 0 .3 .6 .4-1.4 .3 1.4 .3-.3 .3 .2 .3 .1 .4 .3 .3 0 .3-.3 .3-.6 .3 .5 .3-.6 .4-.2 .3 .7 .3-.1 .3 .5 .3-1.7 .4 1.4 .3 0 .3-.3 .3 .7 .3-1.1 .3 .6 .4-.4 .3 .2 .3-.5 .3 .4 .3 .4 .4-.2 .3 .1 .3-.6 .3 1.2 .3-1.1 .3 .3 .4 .3 .3-.4 .3 .5 .3-.3 .3 .7 .4-.5 .3-.1 .3-.6 .3 .6 .3 .3 .3-.3 .4-.6 .3 .1 .3 .2 .3 .1 .3-.7 .4 1.6 .3-.9 .3 .1 .3-.3 .3 .2 .3 .9 .4-1.3 .3 .2 .3-.3 .3 .2 .3 1.1 .4-1.1 .3 .1 .3-.7 .3 .7 .3 .3 .3-.3 .4 0 .3 .6 .3-.1 .3-.3 .3-.4 .4-.3 .3 1.5 .3-1.5 .3 1 .3-.4 .3-.2 .4 .7 .3-.7 .3 .9 .3-1.1 .3 .8 .4 .3 .3-1.1 .3 1.5 .3-.6 .3-1.5 .3 1.8 .4 .2 .3-1 .3 0 .3 .3 .3-1.1 .4 1 .3 .4 .3-.8 .3 .8 .3 .6 .3-2 .4 0 .3 .6 .3 .6 .3-.1 .3-.6 .4-.1 .3 .2 .3 1.1 .3-1.3 .3 .2 .3 .8 .4-.6 .3-.4 .3 1.2 .3-.5 .3-.5 .4 .1 .3 .7 .3-.7 .3 .3 .3 .3 .3 .1 .4-1.4 .3 .7 .3 0 .3 .3 .3 .3 .4 .2 .3-.8 .3-.3 .3 .6 .3-.4 .3 1.1 .4-.6 .3-.2 .3 .5 .3-.8 .3 .1 .4 .1 .3 .4 .3 .3 .3-.2 .3 0 .3-.5 .4 .3 .3-.3 .3 .6 .3-.8 .3 .2 .4 .2 .3 .3 .3-.8 .3 .3 .3-.3 .3-.3 .4 1.2 .3-.3 .3-1 .3 .3 .3 .7 .4-.5 .3-.3 .3 1.2 .3-.9 .3 .1 .3 .4 .4-.6 .3 .3 .3 .1 .3 .3 .3-.7 .4 .8 .3-.3 .3 .7 .3-.8 .3-.3 .3 0 .4-.3 .3 .5 .3 0 .3 .4 .3-.4 .4-.4 .3 .9 .3-.7 .3 .3 .3 .6 .3-.1 .4-1 .3 .3 .3 .7 .3-.2 .3-.2 .4 .2 .3-1.5 .3 .9 .3-.6 .3 .4 .3 .1 .4 .4 .3 .3 .3-.1 .3-.3 .3-.3 .4 .8 .3-.5 .3-1 .3 .8 .3 .3 .3-.8 .4 .6 .3 .6 .3-.8 .3 0 .3 0 .4-.4 .3 .2 .3-.3 .3 .4 .3-.3 .3 .9 .4-.6 .3 .5 .3-1.1 .3 .6 .3 .3 .4 0 .3-.6 .3 .2 .3 .1 .3-.2 .3-.1 .4 .5 .3-.9 .3-.3 .3 .6 .3 .4 .4-1.3 .3 1.8 .3-.7 .3 .2 .3-.7 .3 .4 .4 .9 .3 0 .3-.7 .3-.4 .3 0 .4 .7 .3-1 .3-.2 .3 .4 .3 .4 .3-1 .4 .7 .3-.1 .3-.1 .3-.2 .3 .4 .4-.2 .3-1.1 .3 1.5 .3-.7 .3-.1 .3-.4 .4-.1 .3-1.2 .3 1 .3 .3 .3-.1 .4-.7 .3-1 .3 .5 .3 .2 .3 .6 .3-1.6 .4 .6 .3 .1 .3-.2 .3-.6 .3-1.6 .4 1.3 .3-.6 .3-.2 .3-1.2 .3-.2 .3 .4 .4-1.5 .3-.7 .3-1.1 .3 0 .3-2.5 .4-.6 .3-.9 .3-1.8 .3-1.2 .3-2.1 .3-1.6 .4-3 .3-2.4 .3-2.3 .3-3.7 .3-1 .4-3.7 .3-1.3 .3-1.7 .3-1.5 .3-1 .3-.3 .4 .2 .3 2.8 .3 1.6 .3 3.3 .3 1.6 .4 3.1 .3 2.1 .3 2.9 .3 2 .3 2.3 .3 1.1 .4 2.4 .3 1.9 .3 2.2 .3 .8 .3 .4 .4 2.4 .3 .3 .3 1.2 .3-.3 .3-.5 .3 1.7 .4 .4 .3 1 .3-.4 .3 .6 .3 .1 .4 1 .3-.3 .3 1.4 .3-.1 .3 .2 .3-.3 .4 .4 .3 .4 .3-.7 .3 1.2 .3-.5 .4 .7 .3 .6 .3-.2 .3-1.2 .3 1.2 .3-.7 .4 0 .3 .2 .3-.4 .3 .8 .3-.4 .4 .9 .3-.3 .3-1.4 .3 .8 .3 .1 .3 .1 .4 .1 .3 .5 .3-.2 .3-.4 .3 .8 .4 .2 .3-.4 .3 .6 .3-.3 .3-.5 .3 .1 .4 .3 .3 .2 .3-.1 .3 .4 .3 .1 .4-1 .3-.1 .3 .5 .3 .3 .3 .3 .3-.1 .4 0 .3-.8 .3 .7 .3-.5 .3 .5 .4 .3 .3-.8 .3 .2 .3 1.3 .3-1.5 .3 .1 .4-.2 .3-.2 .3 1.2 .3-.8 .3 0 .4-.1 .3-.9 .3 1.7 .3-.6 .3 .2 .3 .7 .4-.7 .3 .1 .3 .1 .3 .5 .3-1.3 .4 .4 .3-.8 .3 1.1 .3 .3 .3-.5 .3 1.2 .4-.5 .3 .5 .3-.9 .3 .8 .3-1.1 .4 .5 .3-.2 .3-.2 .3 1 .3-.2 .3-1 .4 .7 .3-.3 .3 .1 .3 .2 .3-.5 .4 .3 .3 0 .3-.4 .3 .1 .3 .6 .3-.4 .4 1.2 .3-.2 .3-1.3 .3 .5 .3-1.2 .4 .7 .3-.1 .3 0 .3-.7 .3 1.2 .3 0 .4-.5 .3 .3 .3 .5 .3 .4 .3-1.5 .4 1.4 .3-1.6 .3 .5 .3 .2 .3 .9 .3-.4 .4 0 .3 .4 .3-.6 .3-.4 .3 1 .4-.8 .3-.6 .3-.2 .3 .9 .3 .9 .3-.6 .4-.3 .3 .5 .3-1.3 .3 .9 .3-.4 .4 .9 .3-1.1 .3 .8 .3-.3 .3-.1 .3 .3 .4-.4 .3 .8 .3-.8 .3-1 .3 1.8 .4-.1 .3-.4 .3 .4 .3-.3 .3-.7 .3-.6 .4 .4 .3 .4 .3 .4 .3-1 .3 .3 .4 1.1 .3-1 .3-.1 .3-.1 .3 1.3 .3-.5 .4 .1 .3 .3 .3-.3 .3 .2 .3-.5 .4 .2 .3-.1 .3 0 .3-.9 .3 .4 .3 0 .4-.2 .3 .3 .3 .9 .3-.5 .3-.4 .4 .1 .3 .5 .3-1.3 .3 .8 .3 .6 .3 0 .4-.5 .3-.1 .3-1.2 .3 .5 .3 .3 .4 .2 .3-.1 .3-1.3 .3 .8 .3 .4 .3-.6 .4 .3 .3 .3 .3-.2 .3-.1 .3 .3 .4 .1 .3-.7 .3-.5 .3 .2 .3 0 .3 .2 .4-.8 .3 .3 .3 .1 .3 .7 .3-.4 .4-.5 .3 .4 .3-.4 .3-.1 .3 .3 .3-.5 .4-.2 .3 .1 .3-.7 .3 .1 .3-1.3 .4 .7 .3 .7 .3-1.2 .3-.1 .3-.5 .3-.6 .4 .4 .3-.7 .3 .1 .3-1.5 .3-.1 .4-.8 .3-.8 .3 0 .3-1.8 .3-1 .3 .5 .4-2.5 .3-1.4 .3-1.2 .3-2.4 .3-1.1 .4-2.7 .3-1.7 .3-2.2 .3-1.3 .3-2.5 .3-1.6 .4-2 .3-2.9 .3-.7 .3-1.3 .3-.4 .4 1.2 .3 .9 .3 .7 .3 1.8 .3 2 .3 2.1 .4 2.2 .3 1.6 .3 2.9 .3 1.4 .3 1.7 .4 2.3 .3 1.8 .3 1.8 .3 1.1 .3 1.2 .3 .7 .4 1.5 .3 .8 .3 .8 .3 .2 .3 1.8 .4 .1 .3 .5 .3 .1 .3 .3 .3 .9 .3-.8 .4 .7 .3 .4 .3 .6 .3-.2 .3 1 .4-1.3 .3 1.8 .3-.5 .3 .4 .3-.5 .3 .8 .4-.5 .3 .3 .3-.7 .3 1.1 .3-.2 .4-.9 .3 .9 .3 0 .3 .6 .3-.7 .3 .5 .4 .5 .3-1 .3 1.4 .3-.8 .3-.2 .4-.6 .3-.2 .3 1.3 .3-.7 .3-.1 .3 .8 .4-.3 .3-.3 .3-.9 .3-.3 .3 1.3 .4-.6 .3-.3 .3 .9 .3-1.3 .3 .1 .3 .6 .4-1 .3-.9 .3-.4 .3 .6 .3-1.5 .4 .6 .3-.1 .3-1.2 .3 0 .3-.8 .3 .2 .4-.9 .3-.8 .3 .1 .3-.3 .3-.6 .4 .1 .3-.5 .3 .2 .3 .9 .3-1 .3 1.3 .4 .2 .3 .1 .3 1.4 .3 .1 .3-.2 .4 .9 .3 .8 .3-.8 .3 1.3 .3 .2 .3 .6 .4 1.2 .3-1 .3 .5 .3-.2 .3 1 .4 .4 .3-1.3 .3 2.1 .3 .2 .3-1.9 .3 .7 .4 1.1 .3-.1 .3 .6 .3-.6 .3 .9 .4-1.3 .3 1 .3-.4 .3 .1 .3-.6 .3 .7 .4 .9 .3-1 .3 .3 .3 .2 .3-.5 .4 .6 .3 .2 .3-.4 .3-.8 .3 1.7 .3-.7 .4 0 .3-.1 .3-.2 .3-.5 .3 .8 .4 .1 .3 .5 .3 .3 .3-1.1 .3 1.1 .3-.7 .4 .2 .3-.7 .3 .6 .3-.6 .3 .8 .4-.9 .3 .6 .3-.2 .3 .4 .3-.1 .3 0 .4-.3 .3 .7 .3-.2 .3-.6 .3 .7 .4-.6 .3 .3 .3-.1 .3 0 .3 .5 .3-1.3 .4 1.5 .3-1.4 .3 1.4 .3-.3 .3-1 .4 .9 .3-.3 .3-.4 .3 1.1 .3 0 .3-.3 .4 .6 .3-.8 .3-.2 .3 .8 .3-1 .4 .8 .3 .1 .3-.4 .3 0 .3 .1 .3-.1 .4-.4 .3-1.4 .3 1.5 .3-.5 .3 1.2 .4-.7 .3 .4 .3 .2 .3 .1 .3-.9 .3 1.5 .4-.6 .3-.1 .3-.8 .3 1.4 .3-.6 .4 .2 .3-.7 .3 1.1 .3-.2 .3-.8 .3 1 .4-1.4 .3 .9 .3-.1 .3 0 .3-.7 .4 .2 .3 .6 .3 .1 .3-.6 .3-.1 .3-.1 .4 .9 .3-.7 .3-.2 .3-.7 .3 .1 .4 .3 .3-.4 .3 .7 .3 .1 .3-.3 .3 .2 .4 .2 .3-.8 .3 1.2 .3-1.7 .3 2.3 .4-1.7 .3 .8 .3-.2 .3 .3 .3-.5 .3 .6 .4-1 .3 1.1 .3-.5 .3 .3 .3 .3 .4-1 .3 .3 .3-.1 .3 .3 .3 .1 .3 .3 .4-.2 .3-.2 .3 .3 .3 .3 .3-.1 .4 .6 .3-1.3 .3 .4 .3-.8 .3 .3 .3 .7 .4 .3 .3-.9 .3 .5 .3-.2 .3 .2 .4-.1 .3-.4 .3-.8 .3 .3 .3 1 .3-.3 .4 1.1 .3-1 .3 .4 .3-1 .3-.1 .4 .8 .3 .7 .3-.6 .3-.4 .3 .4 .3 .1 .4-.1 .3-.2 .3-.5 .3-.1 .3 .3 .4 .2 .3-.6 .3 1.5 .3-.5 .3-.6 .3 .7 .4 .8 .3-1.1 .3 0 .3 .4 .3-1.2 .4 .4 .3-.1 .3 .8 .3-1.2 .3 .9 .3-.3 .4 0 .3-.1 .3 1 .3-1.1 .3-.2 .4 .7 .3-.4 .3 .5 .3-.2 .3 0 .3 0 .4-.8 .3-.2 .3 2 .3-1.6 .3 .8 .4-.8 .3 .5 .3-.1 .3 .9 .3-.8 .3-.7 .4 .1 .3 .8 .3 .3 .3 .5 .3 .1 .4-1.7 .3 .6 .3-.5 .3 .7 .3 .3 .3-1.3 .4 1.3 .3-.1 .3-.5 .3-.1 .3 1.1 .4-.9 .3-.5 .3 .6 .3 .5 .3-.2 .3-1.3 .4 .3 .3 .5 .3 .2 .3 0 .3-.7 .4 1.1 .3-.2 .3-1 .3 .3 .3 .4 .3-.7 .4 .8 .3 0 .3-.3 .3 .5 .3 .6 .4-1.2 .3 .6 .3-.5 .3 1 .3-.2 .3-.6 .4-.3 .3 .7 .3-.4 .3-.6 .3 .1 .4 .4 .3 1.1 .3-.5 .3 .1 .3-.2 .3 .2 .4 .1 .3-1.3 .3 .8 .3 0 .3 0 .4-.1 .3-1.4 .3 1.3 .3-.8 .3 1.1 .3-.7 .4 0 .3 .1 .3-1 .3 .9 .3-.6 .4 1 .3-.7 .3-.4 .3 1.1 .3-.8 .3-.4 .4 .3 .3-.2 .3 .1 .3-.7 .3 .8 .4-.5 .3 .5 .3-.7 .3-.9 .3 .8 .3-.8 .4 0 .3-1.4 .3 .4 .3 1.1 .3-.2 .4-1.5 .3 .9 .3-.1 .3 .4 .3-1.1 .3-.3 .4 1.1 .3-.4 .3 .2 .3 0 .3 1.2 .4-.9 .3 1.1 .3 0 .3-.4 .3 .9 .3 .3 .4-.2 .3-.2 .3 .6 .3-.5 .3 .7 .4 .6 .3-1.3 .3-.1 .3 1.3 .3-.7 .3 .3 .4 .3 .3-.3 .3 .4 .3-.5 .3 .3 .4 .2 .3 .4 .3-.5 .3 .4 .3 .1 .3 0 .4-.3 .3 .7 .3-1 .3 .9 .3 0 .4 0 .3-.7 .3 .7 .3-.2 .3-.8 .3 .4 .4-.4 .3 .8 .3 .5 .3-.3 .3-.9 .4 0 .3 .4 .3 0 .3 .5 .3-.5 .3 .7 .4-.8 .3 .7 .3-1.2 .3 .5 .3 .3 .4 .3 .3-.1 .3-.7 .3-.2 .3 .6 .3 0 .4-.1 .3 .1 .3-.6 .3 .9 .3 .2 .4-.9 .3 .1 .3 1 .3-.1 .3-.9 .3 0 .4-.5 .3 1.1 .3-.1 .3-.1 .3 1 .4-1.1 .3 0 .3 .2 .3-.2 .3 .6 .3-.6 .4 .1 .3 1 .3-1.3 .3-.3 .3 .6 .4-.3 .3 0 .3 .4 .3 .3 .3-1.2 .3 .7 .4-.9 .3 1.4 .3-.9 .3 .8 .3 .5 .4-.2 .3-.4 .3-1.2 .3 1.9 .3-1.2 .3 .6 .4-.6 .3 .1 .3 .9 .3-1.6 .3 .2 .4 .5 .3 .6 .3-1.7 .3 1.8 .3-.8 .3 .6 .4 .9 .3-1 .3 .3 .3 .1 .3-.8 .4 .2 .3-.2 .3 .2 .3-.2 .3-.1 .3-.1 .4 .7 .3-1 .3 .7 .3 .6 .3-1.4 .4-.1 .3 1.1 .3-.7 .3 0 .3 .7 .3-.2 .4-.4 .3 .1 .3-.5 .3 .4 .3 .2 .4 .3 .3 0 .3 .6 .3-.9 .3 .5 .3-.3 .4-.6 .3 .6 .3 0 .3 .1 .3 0 .4-.2 .3-.5 .3 .3 .3 .2 .3 .2 .3 .1 .4-.3 .3 .2 .3 .3 .3-.5 .3-.4 .4-.4 .3 .6 .3 .3 .3-.5 .3 .9 .3-1.1 .4 .2 .3 .1 .3-.5 .3 1 .3-.8 .4-.3 .3-.3 .3 1.3 .3 .2 .3-1.1 .3-.3 .4 .5 .3 .2 .3-.3 .3 .5 .3-.8 .4 1.5 .3-.9 .3 .3 .3-.7 .3 .6 .3 .3 .4-1.1 .3 .3 .3 .4 .3-.3 .3-.7 .4 .1 .3 .5 .3-.2 .3-.6 .3 .4 .3-1.4 .4 1 .3 .3 .3-.2 .3-.8 .3 .1 .4-.2 .3-.4 .3-.6 .3-.6 .3 .1 .3-.6 .4-.8 .3 1.2 .3-1.7 .3 0 .3-.4 .4-1 .3 .5 .3-1.4 .3 1.2 .3-2 .3-.2 .4-.1 .3-.3 .3-.3 .3 .3 .3-.1 .4 .4 .3-1.6 .3 1.2 .3-.1 .3-.2 .3-.2 .4 2.1 .3-.1 .3-1.1 .3 2.1 .3-.1 .4 .4 .3 .7 .3-.3 .3 .7 .3 .9 .3-.6 .4 .3 .3 .1 .3 1.5 .3-.5 .3 .6 .4 .1 .3 .8 .3 .1 .3-.4 .3 1.2 .3-.3 .4 .1 .3-.3 .3 .2 .3 .1 .3 .2 .4 .2 .3 .1 .3-.3 .3 .1 .3 .4 .3 .3 .4 0 .3-.6 .3-.6 .3 .7 .3-.1 .4 0 .3 .1 .3-.5 .3 .2 .3-1.2 .3 1.9 .4-.9 .3-.3 .3 .3 .3-.5 .3-.4 .4 .6 .3-.5 .3-.6 .3 .5 .3-.3 .3-.3 .4-.6 .3 .4 .3-1.2 .3 .5 .3 .1 .4-1.5 .3 .2 .3-1.3 .3 .5 .3-1.2 .3-.1 .4 .4 .3 .1 .3-.5 .3-.7 .3-.4 .4 .2 .3 1 .3-.5 .3-1.4 .3 .4 .3-.2 .4 1.1 .3-.2 .3-.4 .3 1 .3 .1 .4 .1 .3 .7 .3 .9 .3-.5 .3 .6 .3-.2 .4 .9 .3 1.1 .3 0 .3-.4 .3 .4 .4 1.2 .3-.5 .3 .1 .3 1 .3-.5 .3 0 .4 .7 .3-.6 .3 .5 .3 0 .3 .6 .4 0 .3 1 .3-.5 .3-.2 .3 .3 .3-.3 .4 .3 .3 .2 .3 0 .3 .5 .3-.3 .4-.6 .3 .5 .3-.6 .3 1.5 .3-1.8 .3 .8 .4 .4 .3-.7 .3 .2 .3 .8 .3-1.1 .4 1.1 .3-.6 .3 0 .3 1.1 .3-.6 .3-.1 .4-.3 .3 .2 .3-.2 .3 1" fill="none" stroke="#4e4e4e" stroke-width="3.40" stroke-linejoin="round" stroke-linecap="butt"/>
<path clip-path="url(#cr)" d="M1007.3 410.2l.3-.6 .3 .5 .4-.9 .3 1.1 .3-1.1 .3 .8 .3-.1 .3-.3 .4 1.7 .3-1.6 .3 .5 .3 .3 .3-1.1 .4 1.2 .3-.7 .3 .6 .3-1 .3 0 .3 1 .4-.3 .3-.2 .3 .3 .3-.1 .3-.8 .4-.5 .3 .3 .3-.1 .3-.2 .3 .8 .3 0 .4 .2 .3 .2 .3-.3 .3 0 .3 .2 .4-.5 .3 .1 .3 .4 .3-.4 .3 .1 .3 .2 .4 .7 .3-.5 .3-.3 .3-.1 .3 .2 .4 1.1 .3-2.5 .3 1.7 .3-.1 .3 .3 .3-1 .4 1.6 .3-.6 .3-.5 .3 .1 .3-.4 .4 .4 .3-.1 .3 .5 .3-.3 .3-.2 .3 .4 .4-.1 .3-.1 .3-.9 .3 1.3 .3-1.1 .4 .1 .3 .4 .3 .3 .3 .4 .3-1.4 .3 1.5 .4 0 .3-1 .3 .2 .3-.2 .3 0 .4-.4 .3-.2 .3 .8 .3 .2 .3 .7 .3-1.3 .4-.5 .3 1 .3-.3 .3 .4 .3-.3 .4-.4 .3 .2 .3 .7 .3-.2 .3-.6 .3 .9 .4-1.1 .3 .4 .3 .4 .3-.8 .3 .1 .4 .6 .3-.1 .3-.1 .3-.1 .3-.3 .3 .2 .4 1.8 .3-1.7 .3 1 .3-1 .3 .9 .4-.1 .3-.3 .3-.6 .3-.3 .3 1.1 .3-1.1 .4 0 .3 1.4 .3 0 .3-.7 .3-.2 .4-.2 .3 .5 .3-.4 .3-.5 .3 .4 .3 .5 .4-.9 .3 .3 .3 .5 .3 .8 .3-.8 .4 0 .3 .9 .3-1.5 .3 .2 .3 .8 .3 .1 .4-.3 .3-1.5 .3 1.6 .3 0 .3-.3 .4 .3 .3 .3 .3-.6 .3-.5 .3-.4 .3 .9 .4-.4 .3 .1 .3-.3 .3 .7 .3 .2 .4-.1 .3-.8 .3 1 .3-.3 .3-1.3 .3 1.4 .4-1.2 .3 .4 .3 1.1 .3-.2 .3-.7 .4-.1 .3 .6 .3-1 .3 1 .3-.3 .3 .5 .4-.4 .3-.5 .3 .6 .3-.2 .3-.5 .4 .1 .3 .1 .3 .5 .3 .3 .3-.4 .3-.5 .4 .4 .3 .4 .3 .3 .3-1 .3 .6 .4-.3 .3-.9 .3 .4 .3 .4 .3 0 .3 0 .4-.1 .3 .5 .3-.6 .3-.3 .3 1 .4-.6 .3 .7 .3-.8 .3 1.1 .3-1.3 .3 .1 .4 .9 .3 .5 .3-1.2 .3 1.1 .3 0 .4-.4 .3-.5 .3-.9 .3 .3 .3 .3 .3 .7 .4-.4 .3-.2 .3 .4 .3-.9 .3 1 .4-.6 .3 1 .3-.5 .3-.4 .3 .1 .3-.5 .4 .8 .3-.6 .3 .5 .3 .6 .3-.4 .4 .1 .3 1 .3-.9 .3 .2 .3-.7 .3-.5 .4 .7 .3-.6 .3-.9 .3 1.7 .3-.1 .4-.7 .3 1.1 .3-.6 .3-.2 .3-.2 .3 1 .4-.8 .3 0 .3 0 .3-.2 .3-.4 .4 .5 .3-.1 .3 .7 .3-.9 .3 .9 .3-.5 .4-.2 .3 .3 .3 .1 .3 .1 .3 .2 .4-.2 .3-.8 .3 .4 .3 1.1 .3-.8 .3-1.1 .4 1.2 .3 .7 .3-.2 .3-.6 .3 .1 .4 .2 .3-.4 .3-.1 .3 1 .3-1 .3 .7 .4-1.3 .3 .4 .3-.2 .3 .8 .3-.5 .4 0 .3-.1 .3 .5 .3 .4 .3-.8 .3 .6 .4-.3 .3-.3 .3 .5 .3 .4 .3-1.9 .4 1.6 .3 .5 .3-.9 .3 .5 .3 .1 .3-.3 .4-.1 .3 .5 .3-.1 .3-.4 .3 .2 .4-.7 .3 .3 .3 .1 .3 0 .3-.3 .3 .9 .4-.4 .3 .1 .3-.9 .3 .3 .3-.1 .4 .3 .3 .9 .3 .4 .3-1.1 .3 .1 .3-.3 .4-.2 .3 .7 .3-.6 .3-.3 .3 .8 .4-.4 .3 .2 .3 0 .3 .3 .3-.1 .3 .1 .4-.5 .3 0 .3 .3 .3-.1 .3 .1 .4 0 .3 .8 .3-1.1 .3 .3 .3-.2 .3 .6 .4-1 .3-.2 .3 1.1 .3-.2 .3-.2 .4-.5 .3 1 .3-.4 .3-.5 .3 0 .3-.1 .4 1 .3-.7 .3-.4 .3 .2 .3 .8 .4-.3 .3-.6 .3-.2 .3 .3 .3 .4 .3-.4 .4 0 .3 .2 .3-.3 .3-.2 .3-.2 .4 .3 .3 .1 .3 .4 .3 0 .3-.5 .3 .9 .4-1.1 .3 1.1 .3-1.1 .3 .4 .3 .6 .4 0 .3-.8 .3 .4 .3-.5 .3 .4 .3 .3 .4-.5 .3 1 .3-.5 .3 .1 .3-.6 .4 .2 .3 .2 .3 .3 .3-.1 .3-.5 .3-.2 .4-.2 .3 1.6 .3-.5 .3 .2 .3-.8 .4 1 .3-.7 .3-.1 .3-.4 .3-.4 .3 1 .4-.3 .3-.1 .3-.6 .3-.3 .3 .4 .4 1 .3 .4 .3-1.2 .3 .2 .3-.6 .3 .2 .4 .7 .3-.6 .3 .5 .3 .5 .3-.7 .4-.5 .3 1.4 .3-.5 .3-.2 .3 0 .3-.2 .4 .4 .3-1 .3 .7 .3-.6 .3 .5 .4 .4 .3-.4 .3 .9 .3-.9 .3-.3 .3 .5 .4 0 .3 0 .3-.1 .3-.1 .3 .5 .4-1.3 .3 1.2 .3-.7 .3 .3 .3-.4 .3 1 .4-1.6 .3 .4 .3 .4 .3 .5 .3-1 .4 .9 .3 .3 .3-1 .3-.8 .3 1.6 .3-.5 .4 .1 .3 .5 .3-.1 .3-.7 .3 .4 .4-.5 .3 .6 .3-.3 .3 .3 .3-.6 .3 .4 .4 .1 .3 .1 .3-.2 .3-1.1 .3 1.2 .4-.8 .3 1.1 .3-.5 .3-.1 .3-.3 .3 1.2 .4-1.3 .3 1.1 .3 .1 .3 .7 .3-.9 .4-.7 .3-.4 .3 .1 .3-.4 .3 1.4 .3-.5 .4-.7 .3 .8 .3-.3 .3 .4 .3-.3 .4-.7 .3 .6 .3 .3 .3-.4 .3 0 .3-.7 .4 .3 .3 .3 .3 .3 .3-.7 .3 .1 .4 1.2 .3-1.5 .3 .3 .3-.4 .3 .4 .3 .4 .4 0 .3-.3 .3 .4 .3-.7 .3 .3 .4-.8 .3 .9 .3-.8 .3 .9 .3-1.2 .3 .6 .4-.1 .3 0 .3-.3 .3 .8 .3-.7 .4-.8 .3 .3 .3 .7 .3-1.1 .3 1.2 .3-1.1 .4-.8 .3 1.2 .3-.9 .3-1.5 .3 1.7 .4-.8 .3 .6 .3 .1 .3-.1 .3-.6 .3-.9 .4 1.3 .3-.8 .3-.2 .3-1 .3 .2 .4 .1 .3-.4 .3-.1 .3-.9 .3-.7 .3 .6 .4-.6 .3 .2 .3-.4 .3-1.2 .3-.7 .4 .1 .3-.9 .3-1.7 .3 .4 .3-1.8 .3-1.4 .4-1.9 .3-1.1 .3-1.2 .3-2.1 .3-1.7 .4-2.7 .3-3.7 .3-2.8 .3-3.5 .3-4 .3-4.2 .4-4.6 .3-4.8 .3-4.5 .3-4.8 .3-4.5 .4-5.5 .3-3.7 .3-4.1 .3-.2 .3-.1 .3 .8 .4 2.8 .3 3.1 .3 4.3 .3 4.5 .3 5.2 .4 4.6 .3 6.3 .3 4.5 .3 3.9 .3 3.8 .3 4.4 .4 2.8 .3 2.3 .3 2.9 .3 2.4 .3 2 .4 1.8 .3 .7 .3 1.8 .3 .6 .3 2.2 .3 .6 .4 .5 .3 2.4 .3 .3 .3-.3 .3 1.2 .4-.2 .3 1.2 .3 .3 .3-.2 .3 .8 .3 1 .4-.1 .3-.8 .3 1 .3 .4 .3 0 .4 .6 .3-.7 .3-.6 .3 2 .3-1.1 .3 .6 .4-.5 .3 1.2 .3-.8 .3 .7 .3 .1 .4 .8 .3 .3 .3-.5 .3 .2 .3-.3 .3 .1 .4-.5 .3 .7 .3-1.1 .3 1.4 .3-.3 .4 0 .3 .6 .3-1.4 .3 .4 .3 .8 .3-.4 .4 .5 .3-.4 .3-.4 .3 .8 .3-.1 .4 .2 .3 0 .3 .8 .3-1.5 .3 .2 .3 1 .4-1.1 .3 .5 .3 .5 .3-.3 .3 0 .4-.2 .3-.9 .3 1.2 .3 .1 .3-.2 .3-.4 .4 .3 .3 .2 .3-.5 .3-.1 .3-.3 .4 .7 .3-.8 .3 .3 .3 .9 .3-1.7 .3 .6 .4 .8 .3-.6 .3 .7 .3-1.2 .3 .1 .4 .9 .3-1.1 .3 .5 .3-.2 .3 .7 .3-1.3 .4 .5 .3 .3 .3 .1 .3-.6 .3 .2 .4-.8 .3 1.1 .3-.9 .3 .1 .3 .3 .3-.9 .4-.4 .3 .1 .3 .1 .3-1.6 .3-.5 .4 .8 .3-.8 .3-.3 .3 .4 .3-1.6 .3-.7 .4-.1 .3-1.9 .3-.5 .3-1.4 .3-1.2 .4-1.6 .3-2.6 .3-1.8 .3-2.5 .3-3.2 .3-2.2 .4-4 .3-3.9 .3-4.1 .3-3.3 .3-3.9 .4-2.3 .3-2 .3-1.7 .3 .1 .3 1.6 .3 3.1 .4 2.6 .3 4.3 .3 3.3 .3 3 .3 5.5 .4 3 .3 2.5 .3 2.8 .3 2.4 .3 2.8 .3 .8 .4 1.9 .3 1.1 .3 1 .3 1.5 .3 .8 .4 .3 .3 2.1 .3-2 .3 2.6 .3-.9 .3 .6 .4 1 .3 .5 .3 .5 .3-1.1 .3 1.9 .4-1.3 .3 .9 .3 .6 .3-.4 .3 .1 .3 .6 .4-.3 .3-.4 .3 1.2 .3 .1 .3-.2 .4 0 .3 .5 .3 0 .3 .2 .3-.4 .3-1 .4 1.3 .3 0 .3 .2 .3 .3 .3-1.3 .4-.7 .3 1.9 .3-.1 .3-.3 .3-.5 .3 1.4 .4-1 .3 1.3 .3-.9 .3 .4 .3-1.7 .4 1.5 .3-.6 .3-.3 .3 .5 .3 1.6 .3-1.7 .4-.5 .3 1.4 .3-1 .3 .4 .3 .9 .4-.3 .3-.1 .3 .2 .3-.6 .3-.6 .3 .6 .4-.2 .3 .2 .3-.1 .3 .3 .3 .2 .4-.8 .3 .1 .3 .2 .3 .4 .3-.9 .3-.9 .4 1.4 .3-1.3 .3 .4 .3-.2 .3 .5 .4-1.3 .3 1.4 .3-.9 .3 .7 .3-.7 .3 1.5 .4-1.3 .3-.2 .3-.1 .3-.7 .3 2.1 .4-1.4 .3 .9 .3 .4 .3 .1 .3-.3 .3-.2 .4 .8 .3-.3 .3-.6 .3 .4 .3 .8 .4 .2 .3-1.6 .3 1.4 .3-.2 .3 .6 .3-.4 .4-.1 .3 .6 .3 .1 .3 0 .3-.6 .4 .3 .3 .6 .3-.9 .3-.3 .3 .6 .3-.7 .4 1 .3-.9 .3 .3 .3 .7 .3-1 .4 .3 .3 .3 .3 0 .3-.8 .3 1.1 .3-.5 .4 .1 .3 .3 .3 .1 .3-.3 .3 .3 .4-.3 .3-.8 .3 0 .3 .2 .3 0 .3 .3 .4-1 .3 1.2 .3 .3 .3 0 .3-.3 .4-.6 .3 1.6 .3-1.4 .3 .1 .3 .3 .3-.8 .4 .1 .3 .7 .3 .5 .3-.7 .3 .4 .4 0 .3-.1 .3-.6 .3 1 .3-.6 .3-.4 .4-.1 .3 1.1 .3-.5 .3-.3 .3 .8 .4-.1 .3-.4 .3-.6 .3 .5 .3 .2 .3-.6 .4 1.7 .3-1.3 .3-.4 .3-.3 .3 1.3 .4-.6 .3 .1 .3-.3 .3 .6 .3-.1 .3-.7 .4 .3 .3-.4 .3 .8 .3-.2 .3 .5 .4-.2 .3 .1 .3-1.3 .3 .6 .3-.3 .3-.1 .4 .3 .3 .9 .3-.1 .3 .3 .3-.4 .4 0 .3-.5 .3 .1 .3-.1 .3-.2 .3-.2 .4 .7 .3 .6 .3-1.2 .3-.1 .3 1.1 .4-.6 .3-.7 .3 .7 .3-1.1 .3 1.3 .3-.3 .4-.4 .3 .7 .3-.3 .3 .9 .3-1 .4 .5 .3-.7 .3 .7 .3 .2 .3 0 .3 .1 .4-1.1 .3 1.5 .3-.1 .3-.8 .3 .1 .4 .4 .3-1.3 .3 .7 .3 .3 .3 .1 .3 0 .4-.8 .3 1 .3 0 .3-.3 .3-.5 .4-.2 .3 .4 .3 .3 .3-.7 .3 .3 .3 .4 .4 0 .3-.6 .3-.6 .3 .8 .3-.7 .4 .1 .3 1.1 .3-.2 .3-.7 .3 .4 .3 .1 .4 .3 .3 .3 .3-.3 .3-1.3 .3 1.2 .4-.3 .3 .1 .3 0 .3 0 .3-.1 .3 .7 .4 0 .3 .2 .3-.3 .3 0 .3-.2 .4-.8 .3 1.1 .3-.7 .3 .1 .3-.6 .3 .4 .4 1.8 .3-1.7 .3 .6 .3 .1 .3-.3 .4-.5 .3 .2 .3 .3 .3-.4 .3-.4 .3 .1 .4 1.2 .3-.4 .3 0 .3 .1 .3-.3 .4-.6 .3 1.6 .3-1.3 .3 .3 .3 0 .3 .5 .4-.7 .3-.6 .3 0 .3 .2 .3 .9 .4 .2 .3-.7 .3-.1 .3 .5 .3-.3 .3-.4 .4-.1 .3 .5 .3 .5 .3 0 .3-.2 .4-.6 .3 .8 .3-1.5 .3 1 .3 .3 .3-.8 .4-.2 .3 1.4 .3-.9 .3 0 .3 .8 .4-.4 .3-.8 .3 .6 .3-.1 .3 .5 .3 .2 .4-1.5 .3 .5 .3 1.1 .3-.8 .3 0 .4-.3 .3 .5 .3-.5 .3 .3 .3 0 .3-.3 .4-.4 .3-.1 .3 .4 .3 0 .3 .5 .4-.2 .3 .1 .3-.6 .3 .2 .3-.1 .3-.2 .4-.1 .3 1.5 .3-.8 .3 .4 .3-.4 .4-.5 .3 1.1 .3-.5 .3-.3 .3-.5 .3 .6 .4 .3 .3 .2 .3-.5 .3-.2 .3-.1 .4 .4 .3-.7 .3 .5 .3-1.1 .3 1.7 .3-.3 .4-.5 .3-.2 .3 .6 .3-.4 .3-.3 .4 .1 .3 0 .3-.4 .3 1 .3-1.4 .3 .9 .4-.1 .3-.8 .3 1.1 .3-1.3 .3 .6 .4-.1 .3 .2 .3-.1 .3 .7 .3-.5 .3-.1 .4 0 .3 .1 .3-.5 .3 .6 .3-.3 .4 .1 .3-.3 .3 0 .3-.1 .3-.4 .3 .4 .4 .3 .3-.8 .3 .2 .3 .2 .3-.5 .4-.2 .3 .2 .3-.1 .3 .5 .3-.8 .3 .2 .4-.6 .3 .3 .3-.1 .3-.2 .3-1.4 .4 .3 .3-.8 .3 .3 .3-.4 .3-.9 .3-.5 .4-.3 .3-.2 .3-.5 .3-.2 .3-.5 .4-2.3 .3-.5 .3-1.4 .3-1.3 .3-2 .3-.8 .4-1.8 .3-2.5 .3-1.8 .3-2.8 .3-3.3 .4-1.5 .3-2.2 .3-2.7 .3-1.4 .3-.7 .3-1.9 .4-.5 .3-.1 .3 1.5 .3 1.6 .3 2.6 .4 1.5 .3 2.3 .3 2.5 .3 3.5 .3 2.2 .3 1.3 .4 3.7 .3-.1 .3 1.6 .3 2.3 .3 .7 .4 .9 .3 .9 .3 1.5 .3 .7 .3 .8 .3 .1 .4 1.6 .3-.4 .3 1.2 .3 .9 .3-1.2 .4 .7 .3 .5 .3 .5 .3 0 .3-.3 .3 .9 .4-.1 .3 .8 .3-.7 .3-.1 .3 .2 .4 .3 .3 .6 .3 .3 .3-.9 .3 .9 .3-.8 .4 2.2 .3-1.3 .3 0 .3-.2 .3 .8 .4 .3 .3-.8 .3 .3 .3 0 .3 .3 .3-.6 .4 .6 .3-.3 .3 1 .3-1.3 .3 .5 .4 .3 .3 .3 .3-.2 .3-.3 .3 .2 .3 .4 .4-1.2 .3 1.2 .3-.7 .3 .8 .3 .5 .4-1.2 .3 .1 .3 .3 .3-.2 .3 .7 .3 0 .4-1.1 .3 0 .3 .5 .3-.2 .3 .7 .4 .3 .3-.8 .3-.4 .3 .2 .3 .5 .3-.1 .4-.1 .3-.1 .3 .6 .3-.4 .3 .2 .4 .5 .3-1.4 .3 .9 .3-.3 .3-.1 .3 .4 .4-.5 .3 0 .3 1.7 .3-.4 .3-.4 .4-1 .3 .2 .3-.1 .3 .3 .3 .2 .3 .2 .4-1 .3 1.2 .3-.4 .3 .4 .3-.5 .4 .4 .3-1.1 .3 1 .3-.6 .3 0 .3 .3 .4-.1 .3-1.1 .3 1.9 .3-1 .3 .3 .4-.1 .3-.2 .3 .2 .3 .2 .3-.2 .3-.5 .4 .3 .3 .9 .3-.5 .3-.2 .3 .8 .4-1 .3 1.2 .3-.6 .3-.3 .3-.4 .3 .1 .4 0 .3 .9 .3 .4 .3-.5 .3-.6 .4 .3 .3-1.1 .3 .4 .3 .4 .3 1.1 .3-.8 .4 .4 .3-.2 .3-.8 .3 .5 .3-.4 .4-.3 .3 .7 .3 0 .3 .1 .3 .1 .3-.7 .4-.1 .3 .4 .3 0 .3 .7 .3-.5 .4-.5 .3 .6 .3-.1 .3-.5 .3 1 .3-1.5 .4 .8 .3 .5 .3-.5 .3 .2 .3-1.1 .4 .9 .3 .2 .3-.6 .3 .5 .3-.2 .3 .1 .4 .2 .3-.3 .3 .4 .3-.5 .3 .9 .4-.5 .3-.8 .3 .2 .3 .7 .3 .4 .3-1 .4 .3 .3-.4 .3 1.1 .3-.6 .3-.3 .4 .7 .3-1.8 .3 1.4 .3-.9 .3 .8 .3-.4 .4-.3 .3 .4 .3-.1 .3 1.3 .3-1.3 .4 1.1 .3-.5 .3-.6 .3-.7 .3 1.1 .3-.2 .4-.9 .3 1.8 .3-.9 .3-.3 .3 .7 .4-.2 .3-.3 .3-.1 .3 .1 .3-1.2 .3 .6 .4 .1 .3 1.5 .3-1.2 .3-.3 .3 .1 .4-.4 .3 .5 .3-.5 .3 .3 .3-.1 .3-.3 .4-.1 .3-.3 .3-.4 .3 .5 .3-.2 .4 0 .3 0 .3 .1 .3-.2 .3-.2 .3 .6 .4 0 .3-1.2 .3 .3 .3-.1 .3-.8 .4 .6 .3-.7 .3 .7 .3-1.4 .3 .4 .3-1 .4-.3 .3 .5 .3-.6 .3 .1 .3-.6 .4-1.8 .3 .9 .3-1.9 .3-.3 .3-1.1 .3-.3 .4-1.1 .3-1.2 .3-.2 .3-2.8 .3-1.4 .4-2 .3-.4 .3-3.3 .3-1.6 .3-2.3 .3-2.1 .4-2 .3-2.8 .3-1.5 .3-1 .3-2.1 .4 .3 .3-.7 .3 1.2 .3 .5 .3 1.1 .3 1.6 .4 3.5 .3 1.6 .3 1.4 .3 3.9 .3 .4 .4 1.8 .3 3 .3 .9 .3 2.3 .3 .6 .3 2.1 .4 .8 .3 1.1 .3 1.1 .3 .1 .3 .9 .4 .9 .3 .5 .3 .7 .3 .7 .3-.1 .3 .3 .4 1.1 .3 1.3 .3-.8 .3 .3 .3-.4 .4 0 .3 1 .3 .6 .3-.7 .3 .5 .3-.4 .4-.2 .3 .3 .3-.2 .3 .8 .3-.3 .4 1.1 .3 0 .3-.7 .3 .3 .3-.2 .3 .8 .4 .5 .3-1 .3-.5 .3 0 .3 .3 .4 .2 .3-.1 .3-.1 .3 .1 .3 .1 .3-.3 .4-.5 .3 .3 .3-.6 .3 .5 .3-.2 .4 .3 .3-.4 .3-.7 .3-.1 .3 .9 .3-1.5 .4 .5 .3-.6 .3-.3 .3-.1 .3-1 .4 0 .3-.8 .3 0 .3-.9 .3-.9 .3 0 .4-.6 .3-.7 .3-.9 .3 .5 .3-1.4 .4 .3 .3-.4 .3 .6 .3-.2 .3 .4 .3-1.2 .4 1.1 .3-.2 .3 1.3 .3 1.3 .3-.8 .4 1.2 .3-1 .3 1.6 .3 1.1 .3-.2 .3 .7 .4 .5 .3 .9 .3-.1 .3 .3 .3 .2 .4 .8 .3 .5 .3-.3 .3 .8 .3 0 .3 .5 .4 .8 .3-.6 .3 .1 .3-.2 .3-.1 .4-.1 .3 .6 .3-.1 .3 .6 .3-.3 .3 .7 .4-.4 .3-.4 .3 .1 .3-.9 .3 1.9 .4-.8 .3-.6 .3 .9 .3-.6 .3 0 .3 .4 .4-.3 .3 .8 .3-.5 .3-.3 .3 .7 .4-.6 .3 .2 .3 .8 .3 .5 .3-1.8 .3 .1 .4 .4 .3 .7 .3-.6 .3 .6 .3-.8 .4 .6 .3-.5 .3-.4 .3 .4 .3 .7 .3-.3 .4 .4 .3-.3 .3-.7 .3 .7 .3 .1 .4 .6 .3-.2 .3-.3 .3-.4 .3 .8 .3-1.3 .4 .3 .3-.1 .3 .5 .3 .5 .3-.9 .4 1.6 .3-1.5 .3 1.3 .3-1.2 .3 .6 .3-.8 .4 .5 .3-.3 .3 1 .3-1.1 .3 .8 .4 .6 .3-1 .3-.1 .3 .4 .3-1.5 .3 1.3 .4 .2 .3-.2 .3-.6 .3 .7 .3 .3 .4 0 .3-.6 .3 .1 .3-.1 .3-.4 .3 .2 .4-.1 .3 .5 .3 .1 .3 1.1 .3-.8 .4-.1 .3-.5 .3 1.1 .3-.1 .3-.8 .3-.2 .4 .2 .3 0 .3-.7 .3 .7 .3-.1 .4 .6 .3-.3 .3-.3 .3 .7 .3-.2 .3-.3 .4-.3 .3-.2 .3 .8 .3-.1 .3-.3 .4 .3 .3-.8 .3 1.2 .3-.4 .3 .5 .3-1.2 .4 .6 .3-.4 .3 .9 .3 .6 .3-1.2 .4 .2 .3 .5 .3-1.2 .3 .6 .3-.3 .3 .3 .4-.6 .3-.2 .3 .1 .3 .7 .3 0 .4 .3 .3-.1 .3 .1 .3-.2 .3-.1 .3 .2 .4-.4 .3 .3 .3-.1 .3 1.6 .3-2.2 .4 1 .3-.1 .3-.2 .3-.1 .3-.2 .3-.5 .4 .5 .3 .1 .3-.4 .3 .7 .3-.9 .4 1.2 .3 .5 .3-1.2 .3 .2 .3 .9 .3-1.9 .4 .6 .3-.3 .3 .3 .3 .9 .3-.1 .4-.7 .3 .8 .3-1.3 .3 .5 .3 .9 .3 .4 .4-.4 .3-.2 .3-.5 .3 .7 .3-.7 .4 .8 .3-.7 .3 .3 .3-1.1 .3 .7 .3 .4 .4-1 .3 .8 .3 .1 .3-.4 .3-.2 .4 .1 .3-.8 .3 .6 .3 1.4 .3-1.5 .3 .5 .4-.7 .3 1.8 .3-1.3 .3 .2 .3 .3 .4-.4 .3 1.5 .3-1 .3-.4 .3-.9 .3 1.1 .4-.5 .3 .8 .3-.6 .3-.4 .3 .9 .4-.3 .3-.2 .3-.1 .3 .1 .3-.2 .3 .7 .4-1.1 .3 .7 .3-.4 .3 .8 .3-.3 .4 .4 .3-1 .3-.5 .3 1.3 .3-.4 .3-.6 .4 .9 .3 .3 .3-.8 .3 .3 .3-.5 .4 .1 .3 .5 .3-.2 .3 0 .3-.2 .3 .7 .4-.2 .3 .9 .3-1.3 .3-.1 .3 .3 .4-.4 .3-.2 .3 .1 .3 .3 .3 0 .3-.1 .4 .6 .3 .1 .3-.1 .3-.2 .3-.5 .4 .1 .3-.5 .3 1.2 .3 .1 .3 .1 .3-1.2 .4 1.4 .3-.7 .3 0 .3 .6 .3-.6 .4-.4 .3 .4 .3-.5 .3 .1 .3 .7 .3-1.2 .4-.1 .3 1.1 .3-.2 .3-.1 .3 .2 .4-.6 .3 .8 .3-.9 .3 0 .3 .9 .3-.6 .4 0 .3-.4 .3 .9 .3-.1 .3-1 .4 .5 .3-.1 .3-.2 .3-.8 .3 1.2 .3-.3 .4-1.2 .3 .2 .3 1.2 .3-.7 .3-1.2 .4 .3 .3 0 .3-.4 .3-.2 .3-.3 .3-.1 .4 .3 .3-1.2 .3 1 .3-.6 .3-.5 .4 .5 .3-.3 .3-.5 .3 0 .3-.4 .3 .3 .4 .3 .3 0 .3-.8 .3 .4 .3 .5 .4-.2 .3 .1 .3 1.4 .3-.9 .3 .7 .3-.3 .4 .8 .3 .5 .3-.4 .3 .2 .3 .5 .4 0 .3 0 .3 .5 .3 .1 .3-.3 .3 .8 .4-1 .3 .3 .3 .9 .3 .3 .3-.6 .4-.6 .3 .5 .3 .6 .3 .1 .3-.1 .3 .2 .4-1 .3 .4 .3 0 .3 .1 .3 .9 .4-.4 .3-.7 .3 .3 .3-1 .3 1.5 .3-.6 .4 .4 .3 0 .3-1 .3 1.1 .3-.4 .4 0 .3-.3 .3 .5 .3 .4 .3 .1 .3-.3 .4-.1 .3 .6 .3-.7 .3 .2 .3 .8 .4-1.6 .3 .1 .3 .1 .3 .3 .3 0 .3 .3 .4 .7 .3-.2 .3-.9 .3 .7 .3-.2 .4-.3 .3 .6 .3 .2 .3-1.1 .3 1 .3-1 .4 .2 .3 .4 .3-.5 .3 .2 .3 .1 .4 .2 .3-.3 .3 0 .3-.3 .3 .6 .3 .1 .4-.8 .3 .7 .3 .5 .3-.5 .3 .3 .4-.3 .3-.3 .3-.2 .3 .1 .3 0 .3-.5 .4 .1 .3 1.2 .3-1.4 .3 .1 .3 0 .4 .7 .3-.2 .3 .3 .3-.7 .3 1 .3-.7 .4-.2 .3 .9 .3 0 .3 0 .3-1.3 .4 .7 .3 .1 .3-.2 .3-.7 .3 1.2 .3-.1 .4-.2 .3-.5 .3 .1 .3 .7 .3-.6 .4 .3 .3 0 .3-.1 .3 .5 .3-.5 .3 .6 .4 .4 .3-.7 .3-.8 .3 .4 .3 .6 .4 .1 .3-.9 .3 .4 .3-.1 .3-.4 .3 .6 .4-.2 .3 .8 .3-1.1 .3 .8 .3-.4 .4 .3 .3-.5 .3-.1 .3 .8 .3 .1 .3-.8 .4 .6 .3-.6 .3 .2 .3 .9 .3-.4 .4-.3 .3 .1 .3-.5 .3 .2 .3 .2 .3-.6 .4 .2 .3 .9 .3-.9 .3 .1 .3 .6 .4 .2 .3-.8 .3 .5 .3-1 .3-.1 .3 .5 .4 .8 .3-1 .3 .4 .3 .1 .3-1 .4 .4 .3 .8 .3-.1 .3-.4 .3-1.1 .3 1.2 .4 .2 .3-1.1 .3 .9 .3-.5 .3-.5 .4 1.2 .3 .2 .3-1.1 .3 .7 .3-.5 .3 0 .4-.3 .3 0 .3-.1 .3 .5 .3-.5 .4 .6 .3-.6 .3-.3 .3 .3 .3 .6 .3-.5 .4 .2 .3-1.7 .3 .4 .3-.3 .3 .3 .4-.2 .3-1 .3 .3 .3 .1 .3 0 .3-1.7 .4 1.4 .3-1.3 .3 .2 .3-1.4 .3 .2 .4 0 .3-.4 .3-1.1 .3-1.2 .3 .7 .3-1.1 .4-.4 .3 .2 .3-1.9 .3 1.6 .3-2.1 .4 .8 .3 .2 .3-.9 .3 .9 .3-1.3 .3 1.1 .4 0 .3-.1 .3 1 .3-.4 .3 .3 .4 1.9 .3 .3 .3-.5 .3 .2 .3 1 .3 .4 .4 1.4 .3-.4 .3 1 .3-.3 .3-.2 .4 2 .3-.5 .3-.5 .3 .9 .3 .7 .3-.8 .4 0 .3 .3 .3 1.2 .3 .7 .3-1.5 .4 .3 .3 .2 .3 .2 .3 .8 .3-.4 .3-.4 .4 .6 .3-.4 .3-.7 .3 .5 .3 1.2 .4-.9 .3-.3 .3 .3 .3-.6 .3 .1 .3-.2 .4 0 .3 .5 .3-.5 .3-.1 .3 0 .4-.4 .3 .1 .3 0 .3-.6 .3-.8 .3 .7 .4-1.4 .3 .9 .3-.5 .3-.9 .3-.2 .4-.2 .3-1.3 .3 1.2 .3-.1 .3-1.2 .3-.2 .4-.6 .3 0 .3 0 .3-.5 .3-1.2 .4 0 .3 .3 .3-.9 .3-.2 .3 .2 .3 .4 .4 .1 .3-1.1 .3 1 .3 1 .3-.6 .4 .7 .3 .5 .3 .4 .3 .3 .3-.2 .3 1.5 .4 .2 .3 0 .3 .9 .3-.2 .3 .1 .4 .3 .3 .9 .3 .8 .3 0 .3-.3 .3-.4 .4 .6 .3 .1 .3 1.1 .3 .5 .3-1.9 .4 1.1 .3 .6 .3 .9 .3-.6 .3 .1 .3 .6 .4-.8 .3 .1 .3-.3 .3 .7 .3-1.1 .4 .9 .3-.1 .3 .3 .3 .2 .3 .4 .3-.2 .4-.4 .3 .5 .3-.5 .3-.1 .3 .3 .4-.5 .3 1.1 .3-.2 .3-.2 .3 .6 .3 .3 .4-1.2 .3 .2 .3 .5 .3-.7" fill="none" stroke="#ee3a3e" stroke-width="3.40" stroke-linejoin="round" stroke-linecap="butt"/>
<path clip-path="url(#cr)" d="M1007.3 317.6l.3 .7 .3-.4 .4 .3 .3 .4 .3-.4 .3 .4 .3-.2 .3 .3 .4-1.2 .3 .1 .3-.2 .3 .8 .3-.4 .4 .6 .3-.3 .3-.1 .3 1 .3-.8 .3-.3 .4-.4 .3 1 .3-.1 .3-1 .3 .5 .4 .2 .3-.9 .3 .6 .3 .8 .3-1.4 .3 1 .4 .6 .3-1.2 .3 .1 .3 .3 .3 .2 .4-.1 .3-.9 .3 .4 .3 .4 .3-.2 .3 .7 .4-.7 .3-.1 .3 1.1 .3-.9 .3-.5 .4 .5 .3-.1 .3 .4 .3-.1 .3-.4 .3 0 .4-.1 .3 .9 .3 .4 .3-1 .3 .3 .4-.2 .3-.4 .3 0 .3 0 .3-.7 .3 .6 .4 .6 .3 .2 .3-.5 .3-.1 .3 .5 .4 .6 .3-1.4 .3 .1 .3 .1 .3 .5 .3-.7 .4 .6 .3-.5 .3 .6 .3-.5 .3 0 .4 .6 .3-1 .3 .2 .3 .7 .3 0 .3-.2 .4-1.2 .3 1.4 .3-.2 .3-.3 .3-.8 .4 1.3 .3 .5 .3-.6 .3 .3 .3-.9 .3 .4 .4-.4 .3-.3 .3 .4 .3-.3 .3 .1 .4 0 .3 .1 .3 .1 .3 .2 .3-.7 .3 .8 .4-1.1 .3 .9 .3 0 .3-1.1 .3 .9 .4 .7 .3-.3 .3-.5 .3 0 .3 .4 .3-.1 .4 .3 .3-.4 .3 .4 .3-.3 .3-.5 .4-.2 .3 .3 .3 .4 .3-.6 .3 .8 .3-1.2 .4 .6 .3-.3 .3 .6 .3-.1 .3-.2 .4-.5 .3 .2 .3 0 .3 .8 .3-.8 .3 .6 .4 .1 .3-.8 .3 .1 .3-.8 .3 .8 .4 .6 .3-.9 .3 .7 .3 .1 .3-.2 .3-.4 .4 .3 .3-.4 .3 .1 .3 1.3 .3-1.4 .4-.1 .3 .4 .3 0 .3 .2 .3-.7 .3-.2 .4 0 .3 .8 .3 .2 .3-.9 .3 .1 .4 .2 .3-.5 .3 .2 .3 .7 .3-1.1 .3 .7 .4 .4 .3-1.1 .3 1 .3-.5 .3-.3 .4 .6 .3-.4 .3-.2 .3-.1 .3-.2 .3 .1 .4 .1 .3 .5 .3-.5 .3 .2 .3-.3 .4 .3 .3-.2 .3 .6 .3-.5 .3-1 .3 .7 .4-.2 .3 .7 .3-.5 .3 .4 .3-.1 .4-.7 .3 .1 .3 .2 .3-.6 .3 2.1 .3-1.4 .4-.9 .3-.1 .3 .7 .3-.3 .3-.6 .4-.1 .3 .8 .3-.2 .3 .3 .3-.2 .3 .5 .4-1.4 .3 1.1 .3-.7 .3-.1 .3 .9 .4-1.5 .3 .9 .3-.2 .3 .7 .3-1.3 .3 .9 .4 0 .3-.3 .3 0 .3-.1 .3-.7 .4 .4 .3-.7 .3 1.4 .3-.1 .3-1.1 .3 1.2 .4-.7 .3-.7 .3 .3 .3 .6 .3-.3 .4-.5 .3 .8 .3-.5 .3-.2 .3-.4 .3 .9 .4 .1 .3-1 .3 .4 .3-.1 .3 .2 .4-.6 .3 1.4 .3-.8 .3 .2 .3-.6 .3 1.1 .4-.8 .3-1.1 .3 1.3 .3-.5 .3-.6 .4 .5 .3-.4 .3 .7 .3-.1 .3-1 .3 1 .4 .1 .3-1.7 .3 1.8 .3-.3 .3 0 .4 .3 .3-.8 .3-.4 .3 .6 .3-.3 .3 .2 .4-1.3 .3 .9 .3 1.4 .3-1.1 .3 .3 .4-.4 .3-.3 .3 .5 .3-.1 .3-.5 .3 0 .4 .4 .3-.7 .3 0 .3 .9 .3 0 .4-.7 .3 .8 .3-.3 .3-.3 .3-.4 .3 .6 .4-.7 .3 .2 .3-.3 .3 .9 .3-.5 .4-.1 .3 .3 .3 .8 .3-.7 .3-1.2 .3 .7 .4 0 .3-.3 .3-.2 .3 1.3 .3-.5 .4 .1 .3-.3 .3 .2 .3-.2 .3-.1 .3-.2 .4-.4 .3 .1 .3 .3 .3-.4 .3 .6 .4-.6 .3 .8 .3-1 .3 .8 .3 .4 .3-.2 .4-.6 .3 .9 .3-.7 .3 .2 .3-.2 .4-.8 .3 1.1 .3-.1 .3 .2 .3-.8 .3 .8 .4-.7 .3-.2 .3 .1 .3 .6 .3-.3 .4 .9 .3-.3 .3 .1 .3-.6 .3-.4 .3-.2 .4 .6 .3 .8 .3 0 .3-1.4 .3 .9 .4 .2 .3-.8 .3 .5 .3-.3 .3 .4 .3 .1 .4-.3 .3 .2 .3-.3 .3 .4 .3-1.6 .4 1.8 .3 .3 .3-1.1 .3 .6 .3 .3 .3-.6 .4 .1 .3 .3 .3 .4 .3-1 .3 .8 .4 .2 .3-.9 .3 .7 .3 .7 .3-.7 .3 0 .4 .8 .3-1 .3 .3 .3 .7 .3 .2 .4-1.3 .3 .4 .3 .4 .3 .4 .3-.4 .3-.4 .4 .7 .3-1.5 .3 1.2 .3 .3 .3 .2 .4-.2 .3-.9 .3 1.2 .3-.7 .3 0 .3 .8 .4-1.4 .3 2 .3-.6 .3 0 .3-.4 .4 .4 .3 0 .3-.1 .3-.8 .3 .9 .3 0 .4 .3 .3-.2 .3 0 .3 0 .3-.8 .4-.1 .3 .8 .3-.2 .3 .6 .3-.8 .3 .3 .4 .7 .3-.3 .3-.4 .3 .7 .3-.1 .4-.6 .3 .2 .3 .5 .3-.2 .3 0 .3-.1 .4-1 .3 1.6 .3-.1 .3-.2 .3-.7 .4 .7 .3 .2 .3-.1 .3 .1 .3-1 .3 1.4 .4 0 .3 .1 .3 .3 .3-.5 .3 .6 .4-1.2 .3 .9 .3-.4 .3 .8 .3-.8 .3 0 .4 0 .3 .5 .3-.6 .3 .8 .3 0 .4-.3 .3 .1 .3-.4 .3 1.3 .3-.5 .3-.9 .4 1 .3-1 .3 .7 .3 .2 .3-.4 .4-.1 .3 .4 .3 .2 .3-.2 .3 .1 .3-.8 .4 .6 .3-.4 .3 .5 .3-.5 .3 .1 .4 0 .3 .2 .3 .1 .3 .1 .3 .4 .3-.8 .4 1.3 .3-1 .3-.1 .3 .5 .3-.4 .4 0 .3 .4 .3-.7 .3 1.1 .3-1.2 .3 .4 .4 .8 .3 0 .3-.3 .3-.9 .3 .5 .4-.1 .3 0 .3 .2 .3 .3 .3 .2 .3-.3 .4-.5 .3 .4 .3 .1 .3 .3 .3-.7 .4 0 .3 0 .3-.3 .3 .7 .3-.5 .3 .7 .4 0 .3-.4 .3 0 .3-.3 .3 .3 .4-.1 .3 .4 .3-.8 .3 .7 .3-.2 .3-.2 .4-.8 .3 0 .3 .4 .3 0 .3-.7 .4 1.3 .3-.8 .3-.2 .3 .2 .3-.7 .3-.8 .4 .8 .3-.4 .3 .2 .3-.1 .3-1 .4 .1 .3 .6 .3 0 .3-1 .3-.2 .3-.2 .4-.4 .3 .7 .3-1 .3-1.6 .3-.5 .4 0 .3-1 .3-.8 .3-1.1 .3-1.9 .3-1.5 .4-1.6 .3-1.3 .3-1.3 .3-2.5 .3-1 .4-4.2 .3-2 .3-2.2 .3-2.4 .3-4.3 .3-2.1 .4-2.3 .3-3.3 .3-.1 .3-1 .3-.1 .4 1.6 .3 1.2 .3 1.8 .3 3.6 .3 1.9 .3 3.8 .4 1.1 .3 4.3 .3 2 .3 2.7 .3 2.2 .4 2.3 .3 .9 .3 2 .3 1.3 .3 1.7 .3 .9 .4 1.1 .3 .9 .3-.2 .3 1.4 .3 .7 .4 .6 .3 1.6 .3-.4 .3 .6 .3-.5 .3 1 .4 .7 .3-.8 .3 .1 .3-.2 .3 .3 .4 1.6 .3-1.3 .3 .8 .3 .5 .3-.1 .3 .1 .4 0 .3 .6 .3-1 .3 .5 .3 .3 .4-.8 .3 .6 .3 .3 .3 .9 .3-.9 .3 .9 .4-.9 .3 1.2 .3-.9 .3 .7 .3 1 .4-.9 .3 .2 .3-1.1 .3 .8 .3 .1 .3-.4 .4 .2 .3-.6 .3 .3 .3-.3 .3-.1 .4 1.1 .3-.7 .3 .5 .3 .8 .3-.4 .3-.8 .4 .2 .3-.2 .3 .4 .3 .8 .3 0 .4-1.1 .3-.4 .3 1.2 .3-1.6 .3 1.4 .3-1.4 .4 1.3 .3-.1 .3-.3 .3-.3 .3 .8 .4-.1 .3-.1 .3 1 .3-1.2 .3-.2 .3 1 .4 .8 .3-1.8 .3 .2 .3-.2 .3 .4 .4 .2 .3-.7 .3 .2 .3-.4 .3 .6 .3-.3 .4 .3 .3-.3 .3 .1 .3-.9 .3 .5 .4 0 .3 .3 .3-.7 .3 .2 .3 .7 .3-.3 .4-.6 .3 .2 .3-.2 .3 .2 .3-.4 .4-.4 .3 .4 .3-.9 .3 .9 .3 0 .3-.2 .4-1.3 .3 .4 .3 .2 .3-.6 .3-.3 .4-.4 .3-.2 .3-.9 .3-1.3 .3 .2 .3 .1 .4-1.6 .3-1.1 .3-.6 .3-2.7 .3-1.7 .4-1.4 .3-1.5 .3-1.4 .3-2.4 .3-2.6 .3-1.2 .4-2.1 .3-1 .3-.5 .3-.1 .3 1.4 .4 1.2 .3 1.3 .3 2.7 .3 3.1 .3 1.3 .3 1.3 .4 2.5 .3 2.7 .3 .2 .3 2.4 .3 .2 .4-.3 .3 1.9 .3 1.6 .3-.2 .3-.3 .3 1.2 .4 .8 .3-1 .3 1.1 .3 .3 .3 .6 .4-.5 .3 0 .3 .9 .3 0 .3-.1 .3-.1 .4 .8 .3-.6 .3 1.4 .3-1.1 .3 .8 .4 0 .3-.2 .3-.3 .3 .7 .3-.4 .3-.5 .4 .6 .3 .2 .3-1 .3 1.4 .3-1.4 .4 1 .3-.1 .3-.8 .3 .8 .3-.4 .3 .7 .4-.5 .3 .5 .3 .1 .3 .4 .3-1 .4 1.3 .3-1.8 .3 .4 .3 .4 .3-.6 .3 0 .4 1 .3-1 .3 .5 .3 .7 .3 .2 .4-.7 .3 .5 .3 .1 .3-.1 .3-.4 .3-.4 .4-.2 .3 1.4 .3-.5 .3-.3 .3 .1 .4 .4 .3 0 .3-.5 .3-.5 .3 .8 .3-.6 .4-.5 .3 1.3 .3 .1 .3-.8 .3-.2 .4-.2 .3-.2 .3-.2 .3-.3 .3-.1 .3 0 .4 .1 .3 .1 .3 .1 .3-.8 .3 .7 .4-.7 .3 0 .3 .7 .3-.9 .3 .8 .3-.8 .4 .9 .3 .6 .3 .3 .3-.8 .3 .1 .4 1.4 .3-.5 .3 .6 .3-1.4 .3 1.6 .3-.5 .4-.7 .3 .7 .3 .7 .3-.4 .3-.8 .4-.2 .3 1.3 .3-.7 .3-.2 .3 .2 .3-.1 .4-.4 .3 .6 .3 .3 .3-.9 .3 1.3 .4-.9 .3 .5 .3 .3 .3 0 .3 .3 .3-1.6 .4-.1 .3 .2 .3 .5 .3 .5 .3-.8 .4 .1 .3 .2 .3 0 .3 1.3 .3-1.5 .3 1.3 .4 .3 .3-1.2 .3 0 .3 0 .3-.2 .4 0 .3-.3 .3 .8 .3 .2 .3-.8 .3 .8 .4-.6 .3-.1 .3 .4 .3-.2 .3 .9 .4-.1 .3 0 .3-.3 .3-1 .3 .4 .3 .2 .4 .9 .3-1.3 .3 1 .3-1.5 .3 .7 .4 .1 .3 .7 .3-.1 .3-.4 .3 .2 .3-.9 .4-.2 .3 1.4 .3 .8 .3-.8 .3-.7 .4 .4 .3-1.1 .3 .8 .3-.1 .3 .8 .3-.5 .4 .4 .3-1.2 .3 .6 .3-.3 .3 .8 .4-.3 .3 0 .3-1.1 .3 1.8 .3-1 .3 .2 .4 1.2 .3-.5 .3-.6 .3 .2 .3-.9 .4 .2 .3 .8 .3-.7 .3 .2 .3-.6 .3 .4 .4 0 .3 0 .3 1.1 .3-.9 .3 .1 .4 .5 .3-.7 .3 .5 .3-1.2 .3 .7 .3 .4 .4-.6 .3 .6 .3-.4 .3 .5 .3 .2 .4-.6 .3-.5 .3 .1 .3 .5 .3 0 .3-.8 .4 1.3 .3 .1 .3-.6 .3 .1 .3 0 .4-.6 .3 .5 .3 .1 .3-.2 .3-.6 .3 0 .4 .4 .3-.1 .3 0 .3-.7 .3 .9 .4-.1 .3 .2 .3-.6 .3 .9 .3-.3 .3 .5 .4-.8 .3 .7 .3-.2 .3-.4 .3 .3 .4-.5 .3 .4 .3 0 .3 0 .3 .2 .3 .2 .4-.9 .3 .7 .3-1.3 .3 .6 .3 1.6 .4-.7 .3-.4 .3 1.3 .3-1.7 .3 .3 .3-.4 .4 .7 .3-.5 .3-.6 .3 .2 .3 .4 .4 .6 .3-.1 .3 .2 .3-.2 .3-.5 .3 1.2 .4-1.2 .3 .5 .3-.5 .3 .1 .3 .1 .4-.3 .3 .8 .3-.4 .3 .5 .3 .1 .3-.3 .4-.2 .3 .2 .3-.6 .3 .5 .3-1.2 .4 .6 .3 .8 .3-1.2 .3 .9 .3 .3 .3-.4 .4-.4 .3 .9 .3 .5 .3-.3 .3-1.4 .4 1.6 .3-1.2 .3 1 .3-.7 .3 .3 .3 .4 .4-1.2 .3 1.2 .3-.7 .3 .4 .3-.4 .4-.1 .3-.5 .3 .5 .3 .5 .3-.8 .3 1.1 .4-.4 .3-1 .3 .7 .3 .2 .3-.3 .4 .3 .3 .3 .3-.7 .3 .4 .3-.3 .3-.4 .4 .7 .3-.5 .3 .2 .3 .5 .3-1.4 .4 1.2 .3-.1 .3-.1 .3 .2 .3-.1 .3 .1 .4-1 .3 .5 .3 .4 .3-.2 .3 .1 .4-.5 .3 1.3 .3-.8 .3 .3 .3 .1 .3-.7 .4 0 .3-.3 .3 .7 .3 .5 .3-.3 .4-1.1 .3 1.2 .3 .1 .3-.5 .3-.9 .3-.1 .4 .5 .3-.4 .3 .9 .3 .5 .3 0 .4-.2 .3 .1 .3 0 .3-.5 .3-.5 .3 1.4 .4-.1 .3-1.9 .3 1.6 .3-.4 .3-.5 .4 1.1 .3-1.2 .3 .3 .3 .1 .3 .6 .3-.9 .4 .4 .3-.4 .3 .4 .3 .5 .3-.1 .4-.5 .3-.1 .3-.7 .3 1.3 .3-.5 .3 .5 .4-.5 .3-.1 .3-.1 .3-.8 .3 1.2 .4-.1 .3-.7 .3 .5 .3-.2 .3-.3 .3-.2 .4-.3 .3 .2 .3 .9 .3-.1 .3-.4 .4 .4 .3-.5 .3-.3 .3 .4 .3-.4 .3-.1 .4 .3 .3-.9 .3 1.1 .3-.5 .3-.5 .4 .5 .3-1 .3-.3 .3 .4 .3 .2 .3-.6 .4-.4 .3 1.4 .3-1 .3-.9 .3 .1 .4 .3 .3-.8 .3-.9 .3 1.3 .3-.8 .3-2 .4 .5 .3-.7 .3-1.5 .3-.6 .3-1.1 .4-.4 .3-.6 .3-2 .3-1.6 .3-.5 .3-2.3 .4-1.9 .3-1.3 .3-1.3 .3-.6 .3-.7 .4-.5 .3-.1 .3-.9 .3 1.8 .3 .2 .3 2 .4 1.4 .3 1.1 .3 1.6 .3 1.5 .3 1.7 .4 1.3 .3 1.9 .3 .4 .3 1.1 .3 .8 .3 .5 .4 1.2 .3-.2 .3 1 .3 0 .3 .6 .4-.3 .3 .5 .3 1.3 .3 0 .3 .4 .3-.2 .4-.1 .3 .9 .3 .3 .3-.8 .3-.5 .4 .9 .3 .3 .3-.6 .3 .2 .3 1 .3 .4 .4 .2 .3-.8 .3 .4 .3-.2 .3-.4 .4 .3 .3 .6 .3-.8 .3 .3 .3 .3 .3-.3 .4-.2 .3 .4 .3 .8 .3-.4 .3-.5 .4 .6 .3-.4 .3 .5 .3-.2 .3-.6 .3 .3 .4 .4 .3 .1 .3-.3 .3 .4 .3-.7 .4 .3 .3 .1 .3-.9 .3 1.3 .3-.6 .3 .3 .4-.4 .3 .9 .3-.5 .3-.1 .3 .8 .4-.8 .3-.5 .3 1.4 .3-.9 .3-.2 .3 .3 .4 .8 .3-.4 .3-.6 .3 .5 .3 1.1 .4-.8 .3 .2 .3-.8 .3 .2 .3 1 .3-1.1 .4 .4 .3 .2 .3 0 .3-.5 .3 .5 .4-.6 .3-.3 .3 .7 .3-.2 .3-.2 .3 .2 .4-.6 .3 .8 .3 .4 .3-1.5 .3 .5 .4 .1 .3-.3 .3 .7 .3 .6 .3-.6 .3 .6 .4-.6 .3 .1 .3-.4 .3 .4 .3-.6 .4 1.1 .3-1.2 .3 .1 .3 .6 .3-.5 .3 .6 .4 0 .3-.2 .3-.9 .3 .8 .3 .1 .4-.1 .3 0 .3-.3 .3 .1 .3 .4 .3 0 .4-.4 .3 .5 .3 .3 .3 0 .3-.6 .4 1.1 .3-1.8 .3 1 .3-.2 .3-.1 .3 0 .4-.3 .3 .4 .3-.2 .3 0 .3 0 .4-.1 .3 .6 .3 .2 .3-.6 .3 .2 .3 .6 .4-1.2 .3 .7 .3-.5 .3 .4 .3 .2 .4 .3 .3-1 .3 .7 .3-.5 .3 .7 .3-1.1 .4 1.1 .3 .2 .3 .2 .3-.4 .3-.6 .4-.3 .3 .7 .3-.1 .3-1.1 .3 .2 .3 .9 .4-.3 .3-.7 .3 .2 .3 .2 .3 .6 .4 0 .3 0 .3-.3 .3 0 .3-.1 .3 .9 .4-1.5 .3 1 .3 .1 .3-.3 .3-1.2 .4 1 .3 0 .3-.4 .3 .1 .3 .1 .3 .4 .4-.6 .3 .5 .3-.7 .3 1.5 .3-1.7 .4 .6 .3-.5 .3 0 .3 .7 .3 .4 .3-.9 .4 .5 .3-.4 .3 .6 .3-1.7 .3 1.5 .4-.4 .3 0 .3-.1 .3-.6 .3 1.2 .3-.3 .4-.6 .3 .2 .3 0 .3-.8 .3 .9 .4 .3 .3-.3 .3-.1 .3-.7 .3 .4 .3-.5 .4 .4 .3 .4 .3 1.3 .3-1.5 .3 0 .4-.3 .3 .1 .3 .6 .3-.8 .3 .2 .3 .2 .4-.8 .3 1.5 .3-1.4 .3 .3 .3 .5 .4-1 .3-1.3 .3 1.4 .3 .2 .3-.4 .3 .3 .4-.5 .3 .6 .3-.1 .3-.9 .3 .3 .4-1 .3 .2 .3 0 .3-1.3 .3 .4 .3-1.5 .4 0 .3-.5 .3 .6 .3-1.4 .3 .6 .4-1.9 .3-.6 .3-1.2 .3-.2 .3-1.3 .3-1 .4-.9 .3-1.6 .3-1.7 .3-1.8 .3-.9 .4-.7 .3-1.8 .3-2 .3-1.6 .3-.3 .3-1 .4-.8 .3 .2 .3 .3 .3 .7 .3 1.5 .4 1.1 .3 1.8 .3 1.3 .3 1.1 .3 2.3 .3 2.2 .4-.1 .3 2.1 .3 .6 .3 1.6 .3 2.2 .4 .2 .3-.1 .3 .7 .3 .7 .3 1.1 .3 .1 .4 .1 .3 1.1 .3-.8 .3 1 .3 1.3 .4-.6 .3 .3 .3-.2 .3 .3 .3-.1 .3 .3 .4 0 .3-.6 .3 1.4 .3-.3 .3 1.1 .4-.1 .3 .1 .3 .3 .3 .2 .3-.8 .3 .9 .4 .4 .3-.6 .3-.9 .3 .5 .3 .2 .4-.3 .3-.1 .3 1.2 .3-.8 .3 0 .3 .5 .4-.8 .3 1.4 .3-.9 .3 .1 .3-.8 .4 .3 .3 .7 .3-.4 .3-.2 .3-.1 .3 .3 .4-1.2 .3 1.6 .3-.4 .3-.1 .3-1.5 .4 .9 .3 .5 .3-1.1 .3-.5 .3-.6 .3 .3 .4 .3 .3-1.4 .3 0 .3 .7 .3-1.2 .4 .2 .3-.3 .3 .2 .3-1.1 .3 .2 .3-.6 .4 .9 .3-.9 .3 1 .3-1.2 .3 .4 .4 .8 .3-.3 .3 .4 .3-.2 .3 .3 .3 .1 .4 .6 .3 .7 .3 .5 .3 0 .3-.9 .4 1.6 .3 .2 .3-.2 .3 .2 .3-.8 .3 .8 .4 1 .3 .6 .3-.6 .3-.4 .3 .5 .4 .3 .3-.6 .3 .7 .3 .3 .3 .3 .3-.7 .4-.2 .3 .5 .3-.1 .3 .1 .3-.1 .4 .3 .3-.3 .3 .6 .3-.3 .3-.2 .3 1.1 .4-.5 .3-.2 .3-.3 .3-.7 .3 1.3 .4 .1 .3-.7 .3 .5 .3-.4 .3 .3 .3 .1 .4-.4 .3 .1 .3 .5 .3-.6 .3-.4 .4-.1 .3 .8 .3 .9 .3-.8 .3 .3 .3 .1 .4-.4 .3 .7 .3-1.6 .3 .9 .3 .7 .4-.5 .3 .4 .3 .1 .3-.6 .3-.8 .3 .3 .4 .7 .3 .8 .3-.9 .3-1.2 .3 1 .4 .1 .3 0 .3 .3 .3-2 .3 3 .3-.8 .4-.1 .3-.2 .3-.7 .3 .4 .3 1.1 .4-.6 .3 0 .3-.4 .3-.1 .3 .3 .3 .4 .4 .1 .3-.1 .3-1.1 .3 .4 .3 .1 .4-.4 .3 .8 .3-.7 .3 1.5 .3-.9 .3-.2 .4-.5 .3 .4 .3 .8 .3-1.5 .3 .5 .4 .8 .3-1.9 .3 1.3 .3-.4 .3 .9 .3-1 .4-.2 .3 .6 .3 1 .3-1.1 .3 .3 .4 .1 .3-.5 .3 .2 .3 .1 .3 .3 .3-.2 .4-.1 .3-.7 .3 1.7 .3-1 .3 0 .4 .5 .3 .4 .3-.7 .3 .1 .3-.7 .3 .6 .4 .1 .3-.5 .3 .6 .3-.9 .3 1.4 .4-1.5 .3 1.2 .3-.9 .3 .7 .3 .4 .3-1.5 .4 .8 .3 0 .3-.6 .3 .3 .3 .9 .4-1.2 .3 .4 .3-.5 .3 .1 .3 .8 .3 .3 .4-1.2 .3 1 .3-.1 .3-1.2 .3 1.2 .4-.8 .3-.1 .3 .1 .3 .1 .3 .4 .3 .3 .4 .3 .3-1.2 .3 1.5 .3-1.3 .3-.4 .4 1.2 .3-.1 .3 .3 .3-.1 .3 .1 .3-.9 .4 .2 .3-.1 .3 .5 .3-.5 .3 1 .4-.5 .3 .1 .3-.5 .3 0 .3 0 .3 .2 .4-1.1 .3 .6 .3 .8 .3-.2 .3 .2 .4-.4 .3-.2 .3 .3 .3-.3 .3 .6 .3-.3 .4 .1 .3 .2 .3-.6 .3-.1 .3 .1 .4 .2 .3 .7 .3-.8 .3 0 .3 .6 .3 .3 .4-.5 .3 .3 .3-.5 .3 .1 .3-.1 .4 .4 .3-.3 .3-.1 .3-.4 .3 0 .3 .4 .4-.1 .3 .6 .3-.7 .3 .5 .3-.4 .4-.4 .3-.1 .3 .4 .3 .3 .3-.7 .3 1.1 .4-.2 .3 .1 .3-.3 .3 .2 .3-.1 .4-1.1 .3 .6 .3 1.2 .3-1.2 .3 .5 .3 .1 .4-.2 .3 .2 .3 .9 .3-2 .3 .2 .4 1.4 .3-.3 .3-.7 .3 1 .3-1.2 .3 0 .4 .4 .3-.2 .3 .2 .3-.4 .3 0 .4 .2 .3 .6 .3-.9 .3 0 .3 .8 .3-.5 .4 1.2 .3-.1 .3-1.3 .3-.6 .3 .4 .4 .7 .3-.5 .3 .9 .3-1.1 .3 .3 .3 .3 .4 .7 .3-1.2 .3 .7 .3-.2 .3 0 .4-.3 .3 .1 .3 .1 .3 .1 .3-.6 .3 .5 .4 .1 .3 .4 .3-.7 .3 1 .3-1.7 .4 .1 .3 .4 .3 .3 .3 .7 .3-.4 .3 0 .4-.2 .3-.5 .3 1.3 .3-.4 .3-.8 .4 .3 .3 0 .3 .4 .3-.1 .3 0 .3-.5 .4 .4 .3-.2 .3-.5 .3 .3 .3-.2 .4 0 .3 .2 .3-.7 .3 1.4 .3-.9 .3-.2 .4 .2 .3-.7 .3 .6 .3-2 .3 1.2 .4-.5 .3-.7 .3 1.2 .3-.1 .3-.9 .3 .7 .4 .2 .3-1.3 .3 .4 .3-.1 .3-.7 .4 0 .3 .8 .3-1.2 .3 .7 .3 .5 .3 .2 .4-.4 .3 .4 .3 .6 .3-.1 .3 .5 .4 0 .3 0 .3-.6 .3 .5 .3 .1 .3 .6 .4-.5 .3-.2 .3 .5 .3-.6 .3 .7 .4 1.1 .3-1.6 .3 1.6 .3-1.4 .3 .4 .3 .3 .4 0 .3 .1 .3 .3 .3 .3 .3 .3 .4-1 .3-.3 .3-.4 .3 .8 .3-.3 .3 .3 .4-.9 .3 1.6 .3 0 .3-.3 .3 .1 .4-1 .3 .9 .3-.1 .3-.5 .3 1 .3-1 .4 .3 .3 .6 .3-.6 .3 .5 .3-.4 .4-.5 .3 .3 .3-.3 .3 .3 .3 .2 .3 .3 .4 .2 .3-1.1 .3 .6 .3 0 .3 .5 .4-.1 .3-.3 .3-.4 .3 .4 .3-.5 .3-.2 .4 1 .3-.6 .3-.1 .3 .8 .3-.4 .4 1.3 .3-.5 .3-.3 .3-.5 .3-.3 .3 1.4 .4-1.2 .3-.9 .3 1 .3 .1 .3 .1 .4-1.1 .3 1.9 .3-.9 .3 .2 .3 .1 .3-.2 .4 .3 .3-.3 .3 .6 .3-1 .3-.2 .4 .1 .3 .7 .3 0 .3-.7 .3-.1 .3 .3 .4 .2 .3-.2 .3 .9 .3-1 .3 .2 .4-.3 .3 .4 .3 .1 .3-.2 .3 0 .3-.5 .4 .9 .3-.5 .3 0 .3-.1 .3 .6 .4 .1 .3-.3 .3-.5 .3 .6 .3-.6 .3 .2 .4-.4 .3 .2 .3 .9 .3-.6 .3-.3 .4 .9 .3-.7 .3 .3 .3-.9 .3-.1 .3-.1 .4 .9 .3-.9 .3 1.1 .3 .4 .3-.6 .4-.2 .3 .4 .3-.6 .3 1 .3-.5 .3 .2 .4-.5 .3 .8 .3-.1 .3-.6 .3 .5 .4-.3 .3-.3 .3-.3 .3 .4 .3-.7 .3 1.4 .4-1 .3 1.3 .3-1.8 .3-.1 .3 0 .4 1.4 .3-1.1 .3 1.1 .3-.6 .3-.3 .3 .4 .4 .2 .3 .3 .3 .1 .3-1 .3 .9 .4-.4 .3 .1 .3 .4 .3-.6 .3 .2 .3 .4 .4-1.5 .3 .4 .3-.3 .3-.4 .3 1 .4 .6 .3-.4 .3-.4 .3 .8 .3-.1 .3 .3 .4 0 .3-.8 .3-.3 .3 .1 .3 .5 .4-1.5 .3 .8 .3 .6 .3-.7 .3-.1 .3 .2 .4-.3 .3-.4 .3 .5 .3 .2 .3 .4 .4 .1 .3-.8 .3-.4 .3-.8 .3 1.5 .3-.8 .4 .1 .3-.1 .3-.3 .3-.4 .3-.2 .4 .2 .3-1.4 .3 .6 .3-.2 .3 .6 .3-1.6 .4-.4 .3 0 .3 0 .3-1.3 .3 .6 .4-.5 .3-1.4 .3-.3 .3 1.1 .3-.8 .3 .6 .4-1.1 .3-.9 .3 .6 .3-.1 .3 .8 .4-.3 .3-.6 .3 .4 .3 1 .3 1.1 .3-.3 .4 .8 .3-1.2 .3 1.4 .3 .3 .3 .6 .4-.1 .3-.8 .3 1.2 .3 .4 .3 .8 .3-.2 .4 .5 .3-.3 .3 .7 .3 0 .3 .2 .4-.2 .3 .3 .3 .3 .3 0 .3-1.6 .3 1.5 .4 .6 .3-.1 .3-.6 .3 .6 .3-.4 .4 .5 .3-.6 .3 .5 .3-.6 .3 .4 .3 .1 .4 0 .3 .1 .3 .6 .3-1 .3 .4 .4-.5 .3 .5 .3-.2 .3-.7 .3 .6 .3-.2 .4-.4 .3-.1 .3 .6 .3-.7 .3-.3 .4 .3 .3-.4 .3 0 .3-.1 .3-1.3 .3 .6 .4 .2 .3-.6 .3 0 .3-.3 .3 .1 .4-1 .3-.3 .3-1.6 .3 1.6 .3 0 .3-.9 .4-.2 .3 .4 .3-1.2 .3 .3 .3-.4 .4 1.6 .3-.6 .3-.6 .3 1 .3-.2 .3 .4 .4 1 .3-1 .3 1.5 .3-1.4 .3 .8 .4 .4 .3-.1 .3 .3 .3 1.1 .3-.5 .3 .6 .4 0 .3 .5 .3 0 .3-.2 .3 .6 .4 .4 .3-.1 .3 .8 .3-.1 .3-1.2 .3 .2 .4-.5 .3 .7 .3 .8 .3-.7 .3-.1 .4 .5 .3 .9 .3-.7 .3 .3 .3 .5 .3-.8 .4 0 .3 0 .3 1 .3-.1 .3-.1 .4-.4 .3 .5 .3-.2 .3-.5 .3 1.8 .3-1.2 .4 .1 .3 .2 .3-.1 .3 .4 .3-.9 .4 .6 .3-.9 .3 .7 .3 .8 .3-.5 .3 .6 .4-1.2 .3-.1 .3 .5 .3-.8" fill="none" stroke="#1469da" stroke-width="3.40" stroke-linejoin="round" stroke-linecap="butt"/>
<path clip-path="url(#cr)" d="M1007.3 261.3l.3-.7 .3 0 .4-.1 .3-.9 .3 1 .3-.8 .3 .9 .3-.4 .4 .8 .3-.6 .3 .1 .3-.6 .3 .9 .4-.4 .3 .4 .3 .1 .3-.1 .3-.4 .3-.8 .4 .3 .3 1 .3 0 .3 .2 .3-.9 .4-.2 .3 .9 .3 0 .3-.4 .3 0 .3-.7 .4 .6 .3 .7 .3-1.1 .3 .2 .3 .2 .4-.1 .3-.7 .3 .6 .3 0 .3 .1 .3 0 .4 .2 .3-.5 .3 1.3 .3-1 .3 .9 .4 0 .3-.7 .3-.6 .3-.5 .3 .3 .3 .6 .4 .2 .3-.4 .3 .1 .3 1.6 .3-1.2 .4-.7 .3 .8 .3-.7 .3-.7 .3 1.2 .3-.4 .4 .4 .3 .8 .3-.8 .3-.5 .3 1.2 .4-1.8 .3 .5 .3 1.2 .3 .1 .3-.9 .3-.2 .4 .5 .3 0 .3-.1 .3-.3 .3-.4 .4 .3 .3 .1 .3 0 .3-.1 .3 .2 .3-.8 .4 1.3 .3 .3 .3-1 .3-.4 .3 .9 .4 .1 .3-.3 .3 .5 .3-.7 .3-.3 .3 1.3 .4-1 .3 0 .3-.9 .3 1 .3-.2 .4 .3 .3 .4 .3-.3 .3-.6 .3 1.1 .3-.4 .4 .1 .3-.3 .3 .1 .3-.7 .3-.1 .4 .4 .3 0 .3 .4 .3-1.7 .3 1.3 .3-.1 .4 .9 .3-.8 .3 .1 .3 .2 .3 .2 .4-1.1 .3 .3 .3 .9 .3-.2 .3-.1 .3 .7 .4-1.5 .3 .8 .3-.3 .3 .4 .3-.5 .4 .5 .3 1.1 .3-.9 .3-.2 .3 .7 .3-.5 .4 .8 .3-1.5 .3-.1 .3-.4 .3 .5 .4-.5 .3 1.7 .3-.7 .3 .2 .3-.2 .3-.1 .4-.1 .3-.6 .3 1.5 .3-.9 .3 1 .4-.5 .3-1 .3 .4 .3 0 .3-.1 .3 0 .4 .3 .3-.3 .3-.1 .3 .4 .3 0 .4-.3 .3 .5 .3-.4 .3 .4 .3-.2 .3 .5 .4-1.4 .3 1.7 .3-1 .3 .8 .3-.9 .4 .2 .3 .3 .3-.4 .3-.1 .3 .1 .3 .9 .4-1.6 .3 .8 .3 .7 .3-.8 .3 .9 .4-1.9 .3 .5 .3 .4 .3-.2 .3 .1 .3 .6 .4-.8 .3 .7 .3-.1 .3-.2 .3 1.2 .4-1.3 .3 1.2 .3-1.3 .3 .6 .3-.1 .3-.6 .4 .8 .3 .3 .3-.3 .3-.3 .3 .6 .4-.3 .3-.2 .3-1.6 .3 1.3 .3 .5 .3-1 .4-.9 .3 1.1 .3 .3 .3-.7 .3 .6 .4 .3 .3-.6 .3 .2 .3 .9 .3-.7 .3-.5 .4 .8 .3 .1 .3-.3 .3 0 .3-.4 .4 1.8 .3-1.8 .3 .5 .3 .2 .3 .3 .3-.7 .4 .3 .3-.4 .3 .5 .3-1.1 .3 1.5 .4-.5 .3 .2 .3-.4 .3-.9 .3 .5 .3 .3 .4 .9 .3-.8 .3 .6 .3-.5 .3-.4 .4 .2 .3 .4 .3 .1 .3-.7 .3 .4 .3 0 .4 .3 .3 .3 .3-1.3 .3 .3 .3-.6 .4 1.8 .3-.8 .3-.8 .3 1.8 .3-1.1 .3 .1 .4 .1 .3 .2 .3-1.3 .3 .9 .3 .4 .4-.1 .3-.3 .3-.2 .3-.5 .3-.7 .3 .6 .4 1.1 .3-.1 .3-.4 .3 .3 .3 .9 .4-.9 .3-.2 .3 1.7 .3-1.4 .3-.4 .3 1 .4-1 .3 .4 .3 .1 .3 .6 .3-1.1 .4 .7 .3-1.1 .3 .7 .3 .1 .3 .1 .3 .9 .4-1.1 .3 0 .3-.1 .3 0 .3 .4 .4-.1 .3 .4 .3-.8 .3 .6 .3-.1 .3-.2 .4 .2 .3-.1 .3-.3 .3 .1 .3-.7 .4 .2 .3 .4 .3 .3 .3 0 .3-.4 .3-.2 .4 .5 .3-.2 .3-.5 .3 .9 .3 .1 .4-.5 .3-.7 .3 .7 .3 .1 .3-.7 .3 .9 .4-.3 .3 .5 .3-.7 .3 .2 .3 0 .4 .5 .3-.9 .3 .5 .3 .8 .3-.9 .3-.5 .4 1.1 .3-.2 .3-1.2 .3 .8 .3-.7 .4 .6 .3 .5 .3-.1 .3-.9 .3 .1 .3 1.2 .4-.5 .3-.4 .3 .2 .3-.5 .3-.4 .4 .1 .3 .9 .3-.6 .3 .8 .3 .1 .3-.3 .4-.5 .3 .1 .3-.1 .3 .4 .3 .6 .4-.5 .3 .8 .3-.7 .3-.5 .3-.4 .3 .2 .4-.2 .3 .9 .3-.3 .3 1 .3-.6 .4 0 .3-.7 .3 .1 .3 .5 .3-.2 .3-.4 .4 .1 .3 .4 .3 .2 .3-.1 .3-.4 .4 0 .3 .5 .3-.3 .3-.7 .3 .3 .3 .6 .4 .5 .3-.3 .3-.8 .3-.2 .3 1.6 .4-.9 .3-.3 .3 .2 .3 .2 .3-.3 .3 .1 .4 .7 .3-1 .3 0 .3 .4 .3-.1 .4-.2 .3 .2 .3-.5 .3 .4 .3-.3 .3 1 .4-1 .3 .3 .3 .4 .3-.7 .3 .4 .4-.5 .3 0 .3 0 .3 .1 .3 .2 .3-1.1 .4 1.2 .3-.1 .3-.4 .3-.1 .3 .5 .4-.2 .3 1.3 .3-.6 .3-.5 .3-.3 .3 .4 .4-.8 .3 0 .3 .9 .3-1.2 .3 .7 .4-.2 .3 .4 .3 .2 .3-.4 .3 .6 .3-.4 .4 .5 .3-.4 .3 .7 .3 .1 .3-.8 .4-1.3 .3 .8 .3 .3 .3-.7 .3 .4 .3 .9 .4-.9 .3 .2 .3 .7 .3-1.2 .3 .1 .4 .5 .3-.6 .3 .6 .3 .3 .3-.1 .3-.4 .4-.2 .3 .5 .3-.2 .3 .1 .3 .7 .4-1.6 .3 1.3 .3-.8 .3 .7 .3-.5 .3-.1 .4 0 .3 .7 .3-.3 .3 .3 .3-1.2 .4 .3 .3-.1 .3 .1 .3 .7 .3 0 .3-.8 .4-.7 .3 .7 .3-.4 .3 .2 .3 .6 .4 0 .3 .7 .3-1.5 .3-.3 .3-.2 .3 1.7 .4-1.4 .3 .6 .3 .6 .3-1.2 .3 .7 .4-.8 .3 1 .3-1.3 .3 .5 .3-.1 .3 .2 .4 .5 .3 .1 .3 0 .3 0 .3-1.5 .4 .8 .3 .7 .3 0 .3-.3 .3-.7 .3 .5 .4-.6 .3-.4 .3 .8 .3-.5 .3-.1 .4 .3 .3-.1 .3-.6 .3-.5 .3 .3 .3-.2 .4 .3 .3 .1 .3-.5 .3-.1 .3-.6 .4 .6 .3-.4 .3 .3 .3 .1 .3-.5 .3-.5 .4 .3 .3 .3 .3-1.7 .3 .6 .3-.2 .4-.3 .3-.5 .3-.8 .3-.1 .3 .3 .3-1.4 .4-.2 .3-.6 .3 .3 .3-.4 .3-1.7 .4-.5 .3-1.9 .3 1 .3-.9 .3-1.4 .3-2.1 .4-.7 .3-.9 .3-3.4 .3-1.9 .3-1.4 .4-3.6 .3-2.3 .3-4.1 .3-3.6 .3-4.8 .3-4 .4-4.4 .3-5.2 .3-4.9 .3-5.6 .3-5.8 .4-4.2 .3-4.1 .3-3.7 .3-1.6 .3 0 .3 1 .4 2.3 .3 4.2 .3 4.7 .3 4.5 .3 6 .4 5.6 .3 4.9 .3 4.3 .3 6.5 .3 3.9 .3 3.9 .4 3.1 .3 2.6 .3 1.5 .3 4.5 .3 2.5 .4 .4 .3 2.5 .3 1.3 .3 2.1 .3-.3 .3 2.5 .4 .4 .3-.1 .3 .6 .3 1.7 .3 1 .4-.5 .3 .7 .3 .4 .3 1 .3-.1 .3 .1 .4 .2 .3 .2 .3 .9 .3 .5 .3-.4 .4 .4 .3-.6 .3 1.2 .3-.1 .3 .8 .3-1.4 .4 1.8 .3-.6 .3 .2 .3 .3 .3-.4 .4 .7 .3 0 .3-.3 .3 .7 .3-.2 .3-.4 .4 .3 .3 0 .3 .5 .3 1 .3-1.2 .4 .8 .3-1.5 .3 .3 .3 .2 .3 .4 .3 0 .4 .8 .3-.7 .3 .1 .3 .5 .3-.9 .4 .5 .3 .6 .3-.7 .3 1.2 .3-.6 .3-.3 .4 .2 .3 .2 .3-1.6 .3 1.5 .3-.7 .4 1.2 .3-1.5 .3 .8 .3 .6 .3 .5 .3-1 .4 .1 .3-.1 .3-.4 .3-.1 .3-.2 .4 .6 .3 .2 .3-.7 .3 .5 .3-.2 .3-.9 .4 1 .3-.8 .3 .8 .3-.1 .3-.3 .4 .1 .3-.5 .3-.4 .3 1 .3-.8 .3 .9 .4-.3 .3-1.4 .3-.1 .3 .9 .3-.5 .4-.4 .3-.2 .3 .1 .3-.1 .3-.6 .3 .2 .4-.5 .3 .1 .3-.6 .3 .7 .3-.8 .4-1 .3-.4 .3 .5 .3-.3 .3-1.1 .3-1.6 .4-.3 .3-.7 .3-1.6 .3-.6 .3-1.4 .4-1.9 .3-1.6 .3-2.8 .3-2.8 .3-3.3 .3-2.4 .4-4.9 .3-2 .3-4.5 .3-4.3 .3-4.5 .4-2.9 .3-2.9 .3-.9 .3 .7 .3 1.1 .3 2.5 .4 3.9 .3 3.7 .3 4.3 .3 4.2 .3 3.4 .4 3.9 .3 3.8 .3 3 .3 1.6 .3 2.5 .3 1.4 .4 1.9 .3 .2 .3 2.1 .3 1.8 .3-.6 .4 1.3 .3-.1 .3 1.3 .3-.7 .3 1.4 .3-.6 .4-.7 .3 .8 .3-.4 .3 .3 .3 .3 .4 1.1 .3-.2 .3 1 .3-.4 .3 .5 .3-1.2 .4 1.4 .3 .7 .3 0 .3 1.1 .3-.9 .4 1 .3 .2 .3-.2 .3 .5 .3 .2 .3 .7 .4 .1 .3 .3 .3-.1 .3-.9 .3 .4 .4-.4 .3 1 .3 .7 .3-.7 .3 .1 .3 .1 .4-.5 .3 .9 .3-.7 .3 .4 .3-.8 .4 1.6 .3-.5 .3-.4 .3 .1 .3 .6 .3-1.1 .4 .9 .3 .3 .3-.5 .3 .4 .3-.3 .4-.2 .3 1 .3-.8 .3 .5 .3-.4 .3-.2 .4 .3 .3-.7 .3 .1 .3 .3 .3 .3 .4 0 .3 .5 .3-1.6 .3 .4 .3 .9 .3-1.2 .4 .8 .3-.5 .3-.6 .3 .5 .3-1 .4 1.8 .3-1.1 .3-.4 .3-.5 .3 .4 .3 .5 .4-.6 .3 1 .3-1 .3 .2 .3-.3 .4-.1 .3 1.7 .3-.9 .3-.2 .3 1.5 .3-1.4 .4 1.1 .3 .2 .3 .4 .3-.1 .3-.5 .4 1.1 .3-1.3 .3-.2 .3-.4 .3 1.5 .3-.1 .4 .3 .3-.9 .3-.5 .3 .5 .3 1 .4 .2 .3-1.9 .3 1.8 .3-.1 .3-.5 .3-.1 .4-.2 .3-.1 .3 .1 .3-.1 .3 .9 .4-.3 .3-.3 .3 .3 .3 0 .3 .2 .3-.7 .4 .4 .3-.1 .3-.3 .3 .7 .3-1 .4 1 .3-1.1 .3 1 .3 .6 .3-.4 .3-.4 .4-.1 .3 .4 .3-1.2 .3 .6 .3 0 .4-.1 .3 .1 .3 .2 .3 .2 .3-.6 .3 .7 .4-.3 .3 .5 .3-.3 .3-.6 .3 0 .4 1.8 .3-1.3 .3-1 .3 0 .3 1.1 .3-.6 .4 .6 .3-.7 .3 .7 .3-.1 .3-.7 .4 .5 .3 0 .3 .7 .3-1.4 .3 .5 .3-.2 .4 .5 .3 .8 .3-.7 .3-1.4 .3 1.4 .4 .1 .3-.7 .3-.1 .3 1 .3-.8 .3 .2 .4 .2 .3-.6 .3 1.1 .3-.6 .3 .3 .4-.5 .3 .8 .3-.1 .3 0 .3 0 .3-.9 .4 .3 .3-.1 .3 1 .3-.6 .3-.2 .4 .1 .3 .4 .3-.3 .3 .1 .3 .1 .3-.9 .4 .4 .3 .4 .3-.7 .3 1 .3 .5 .4-1 .3 .1 .3-.2 .3 .4 .3 .1 .3 0 .4 0 .3-.5 .3 .6 .3-.1 .3 .2 .4 0 .3-.9 .3 .3 .3 .2 .3 .5 .3-.8 .4 1.1 .3-.6 .3 .1 .3 .6 .3-.9 .4-.1 .3 .3 .3-.2 .3-.3 .3 .2 .3-.7 .4 1.9 .3-1.5 .3-.2 .3 .4 .3 .1 .4-.4 .3 .1 .3-.5 .3 .9 .3 .6 .3-.2 .4 0 .3-.6 .3 .3 .3 .4 .3 .3 .4-1 .3 .4 .3 .6 .3-.7 .3-.4 .3 .2 .4-.1 .3-.6 .3 .6 .3-.4 .3 .2 .4-.4 .3 .1 .3 .2 .3 .2 .3-.3 .3 1.2 .4-.3 .3 .8 .3-1.1 .3 .6 .3-.5 .4-.5 .3 0 .3 .5 .3-.7 .3 .6 .3-.8 .4 1.3 .3-1.2 .3 .9 .3 .1 .3-.3 .4 .2 .3 .8 .3-1.5 .3-.3 .3 1.3 .3-.3 .4-.2 .3 .4 .3-.5 .3 .6 .3-.7 .4-.4 .3-.1 .3 .9 .3-.1 .3 .3 .3-.9 .4 .8 .3-1.1 .3 1 .3 .1 .3-.7 .4 .8 .3-.3 .3-.1 .3-.4 .3-.2 .3 1.6 .4-1.2 .3-.5 .3 .8 .3-.8 .3-.5 .4 .8 .3 .3 .3 0 .3 .1 .3-.1 .3 .5 .4-.2 .3-1 .3 1 .3-.6 .3-.6 .4 .6 .3 0 .3 1 .3-.6 .3-.5 .3 .6 .4-.5 .3-.1 .3 .5 .3-.2 .3 .4 .4-.6 .3 .4 .3 .3 .3-.5 .3 .3 .3 .7 .4-.9 .3-.4 .3-.1 .3 1 .3-.4 .4-.1 .3-.6 .3 1 .3-.6 .3 .7 .3-.8 .4-.5 .3 1.1 .3-.8 .3-.1 .3 0 .4-.4 .3 .1 .3-.3 .3 1.3 .3-.8 .3 .6 .4 .1 .3 .2 .3-.7 .3 1.1 .3-1.9 .4 .7 .3 .3 .3-.7 .3 1.3 .3-.6 .3-.9 .4 .2 .3 .8 .3-.2 .3 .7 .3-1.1 .4-.8 .3 1.5 .3-.5 .3 0 .3-.4 .3 .7 .4-1.4 .3 .9 .3 .1 .3-.5 .3 .7 .4 0 .3-.2 .3-.1 .3-.2 .3 .3 .3 0 .4 .1 .3-.7 .3 .7 .3-.8 .3 .5 .4-.3 .3-.1 .3-.3 .3 0 .3-.8 .3 .1 .4 .2 .3 .4 .3-1.1 .3-.1 .3-.1 .4 1.8 .3-1.4 .3 .2 .3 .2 .3 0 .3-.7 .4 .4 .3-.7 .3-.3 .3-.3 .3-.1 .4-.2 .3-.7 .3 .2 .3-.6 .3 .2 .3-.9 .4-1.1 .3 .2 .3-1.1 .3-.3 .3-.9 .4-1.5 .3-1.1 .3-.6 .3-1.2 .3-3 .3-.4 .4-2 .3-2.8 .3-1.7 .3-1.6 .3-3 .4-2.3 .3-2.2 .3-3.3 .3-1.9 .3-1.7 .3-1.7 .4 1.1 .3-1 .3 1.5 .3 2 .3 1.9 .4 3.5 .3 .9 .3 2.9 .3 2.7 .3 1.6 .3 3.4 .4 1.6 .3 1.8 .3 1.5 .3 2.2 .3 1.6 .4 .3 .3 .8 .3 1.1 .3 1.3 .3 .4 .3-.6 .4 1.6 .3-.2 .3 1.8 .3 .4 .3 .1 .4-.8 .3 .7 .3 1.9 .3 .7 .3-.6 .3 .1 .4-.4 .3 .3 .3 .7 .3-.3 .3 .4 .4-.6 .3 .8 .3-.6 .3 1.5 .3-1 .3 .1 .4 .4 .3 0 .3 .6 .3-1.1 .3 1.6 .4-.6 .3-.1 .3 0 .3 0 .3-.9 .3 .7 .4 1.1 .3-.4 .3 .3 .3-.9 .3 .4 .4 0 .3-.1 .3 0 .3 .6 .3-1.1 .3 1.4 .4-.9 .3 .6 .3-1.1 .3 1.1 .3 .2 .4 0 .3 0 .3 .8 .3-1.1 .3-.7 .3 .9 .4-.6 .3 1 .3-.3 .3-.1 .3-.6 .4 .5 .3 .4 .3-1.2 .3 1 .3 .5 .3-1.4 .4 .6 .3 .6 .3-.2 .3-.5 .3 .3 .4 .2 .3-.1 .3-.1 .3-.3 .3 .3 .3 0 .4-.3 .3 .2 .3-.2 .3 .2 .3 .6 .4-.2 .3-1.1 .3-.2 .3 1.2 .3 .2 .3-.8 .4 0 .3 0 .3-.1 .3 .7 .3-.6 .4 .8 .3-.4 .3-.2 .3 .6 .3-.3 .3 .6 .4-.7 .3-.5 .3 1.4 .3-1 .3 .3 .4 .6 .3-.3 .3-.4 .3 .5 .3 .4 .3-.3 .4-.7 .3 .1 .3-.2 .3-.6 .3 0 .4 .1 .3 .9 .3-.7 .3 1.8 .3-1.5 .3 .6 .4-.3 .3 .3 .3-.8 .3 .6 .3-.2 .4 .2 .3 .3 .3-.1 .3-.4 .3 .4 .3 0 .4-.2 .3-.3 .3 .4 .3-.2 .3-.1 .4 0 .3 .3 .3 .1 .3-1 .3 0 .3 .5 .4 .1 .3-.6 .3 .6 .3 .4 .3-1 .4 .7 .3-1.3 .3 .9 .3 .8 .3-1.1 .3-.4 .4 .7 .3-.9 .3 1.6 .3-.9 .3 .4 .4 .3 .3-.5 .3 .5 .3-.3 .3 .1 .3-.1 .4-.6 .3 1 .3-.4 .3-.2 .3 .6 .4-.3 .3 .2 .3-.1 .3-.2 .3-.1 .3-.4 .4 .1 .3 .6 .3-.5 .3 .4 .3 0 .4 .5 .3 .1 .3-.7 .3-.5 .3-.2 .3-.4 .4 .6 .3-.3 .3 1 .3-.6 .3-.6 .4 .5 .3 0 .3-.1 .3-.1 .3 .1 .3 .2 .4 .4 .3-.8 .3-.4 .3 .8 .3-.1 .4-.9 .3 .9 .3 .1 .3-.1 .3-.3 .3 .2 .4-.8 .3 .5 .3 .5 .3-1.3 .3 1.3 .4-1.1 .3 .3 .3 .3 .3-.7 .3 .1 .3-.8 .4 1.5 .3-.5 .3-.2 .3-.4 .3 .2 .4 .9 .3 .2 .3-2 .3 .2 .3 .4 .3 .5 .4-.2 .3-1.4 .3-.1 .3 0 .3 .3 .4-.6 .3 .2 .3 0 .3-1.1 .3 .2 .3 .5 .4-1.3 .3-.3 .3 0 .3-.1 .3-1.6 .4 .6 .3-1.4 .3 .1 .3-2.2 .3 .7 .3-1.5 .4-1.6 .3-.2 .3-2.3 .3-1.2 .3-1.4 .4-1.6 .3-1.9 .3-2.6 .3-2.2 .3-2.6 .3-1.4 .4-2.1 .3-2.3 .3-1.8 .3-.9 .3-1.9 .4-1.3 .3 .4 .3 .7 .3 .9 .3 1.8 .3 1.9 .4 .7 .3 2 .3 3.2 .3 1.7 .3 3.5 .4 1.1 .3 2.7 .3 1.6 .3 3.3 .3-1 .3 2.9 .4-.2 .3 .9 .3 1.8 .3 .9 .3 .9 .4 .9 .3 .5 .3 .1 .3 .5 .3 1.1 .3 0 .4 .6 .3 .9 .3-1.1 .3 .6 .3 .4 .4-.5 .3 .9 .3 .7 .3-.6 .3 1.1 .3-.6 .4 .1 .3-.1 .3 .5 .3 .4 .3-.3 .4 .2 .3 .2 .3-1.2 .3 .5 .3 0 .3 .4 .4 .5 .3-.8 .3 .5 .3 .3 .3-.5 .4-.1 .3 .3 .3 1.1 .3-1.5 .3 1.9 .3-1.7 .4 0 .3-.8 .3 .3 .3 1.2 .3-.7 .4 .3 .3-.5 .3-.8 .3 .3 .3-.1 .3-.4 .4-.1 .3 .2 .3-.1 .3-.4 .3-.2 .4-.7 .3-1 .3-.4 .3-.6 .3 .4 .3 0 .4-1.2 .3-.8 .3-.2 .3 .5 .3-.9 .4 .1 .3 .1 .3-.4 .3-.6 .3-.1 .3-.6 .4 2 .3-.6 .3 1.3 .3 .5 .3 .3 .4 .2 .3-.4 .3 1.5 .3-.9 .3 1.6 .3-.2 .4 .2 .3 .8 .3-.2 .3 1.8 .3-.8 .4 .9 .3 .2 .3-.6 .3 .4 .3 .2 .3 .3 .4 .4 .3-.2 .3 .6 .3 .4 .3-1 .4 .5 .3 .3 .3 .2 .3 0 .3-.9 .3 1 .4-.5 .3 .5 .3 .1 .3-.6 .3 .9 .4-.7 .3 .9 .3-.4 .3-.2 .3 .7 .3-.5 .4 .5 .3-.8 .3 .7 .3-1.2 .3 1.3 .4 .7 .3-.8 .3 .3 .3-.3 .3-.1 .3-.1 .4-.2 .3-.2 .3 .1 .3 .6 .3 .2 .4-.5 .3 .8 .3-1.1 .3 1.1 .3 .2 .3-.9 .4-.3 .3 .4 .3-.1 .3 .8 .3-1.1 .4-.1 .3 .3 .3-.4 .3-.2 .3 .6 .3 0 .4-.6 .3 1.7 .3-1.5 .3 .3 .3 .3 .4 .3 .3-.7 .3 .4 .3-.8 .3 1 .3 .3 .4-.3 .3-.5 .3-.1 .3 .2 .3 0 .4-.1 .3 .7 .3-.9 .3 .8 .3 .2 .3-.1 .4-.6 .3 .4 .3-.5 .3 .5 .3-.5 .4 .9 .3-1.2 .3 .3 .3 .9 .3-.2 .3-.4 .4-.4 .3 1.7 .3 0 .3-.3 .3-.5 .4-1.2 .3 .9 .3 .3 .3 .8 .3-1.7 .3 .1 .4 1 .3 .3 .3 0 .3-.4 .3 .1 .4-.9 .3 .7 .3 0 .3-1.2 .3 1.1 .3-.3 .4 .1 .3 0 .3 .1 .3 1.1 .3-.8 .4 0 .3-.1 .3 .4 .3-1 .3 .3 .3-.4 .4-.4 .3 .5 .3 1 .3-1.2 .3 .6 .4 .2 .3-.6 .3 .5 .3-.1 .3 .4 .3-.1 .4-1.2 .3 .4 .3 .6 .3 .1 .3-1.1 .4 1.4 .3-.1 .3-.9 .3 .9 .3 0 .3-.7 .4 1 .3-1.7 .3 .5 .3-.2 .3 .3 .4-.3 .3 .7 .3 .5 .3-.8 .3-.2 .3 .6 .4-.7 .3 0 .3 .4 .3 .5 .3 .1 .4-.8 .3 .1 .3 .7 .3-1 .3 1.2 .3-1.1 .4 .6 .3 .3 .3-.1 .3-.5 .3 .4 .4 .1 .3 .2 .3-1.1 .3 .4 .3 .3 .3-.6 .4 .4 .3-.2 .3 .4 .3 1.2 .3-1 .4 .2 .3-.6 .3 0 .3-.2 .3 .1 .3-1.2 .4 .5 .3 .9 .3-.1 .3-.4 .3 .9 .4-.6 .3 .5 .3-.1 .3-.2 .3 .7 .3-.6 .4 1.1 .3-1.3 .3-.1 .3 .7 .3-.5 .4-.2 .3 1.2 .3-1.4 .3 0 .3 .3 .3 0 .4 .2 .3-.1 .3 .1 .3-.2 .3-.4 .4 .8 .3-.2 .3-.6 .3 .9 .3-.5 .3 .4 .4 .1 .3-.2 .3 .1 .3-.1 .3-.1 .4-.4 .3 .2 .3 .1 .3 .5 .3-.2 .3-.7 .4 0 .3 .4 .3-.1 .3-1.1 .3 1.2 .4 .8 .3-1.3 .3 .2 .3 .8 .3-.4 .3 .1 .4-.1 .3-.2 .3-.1 .3 .5 .3-.4 .4-.3 .3 .4 .3 .2 .3-.4 .3 .5 .3-.8 .4 .2 .3 .8 .3-.3 .3-.4 .3 .3 .4-.6 .3-.3 .3 1.3 .3 .2 .3-.9 .3 0 .4 .1 .3-.2 .3 .1 .3 .1 .3-.2 .4 .4 .3-.3 .3 .7 .3-1.1 .3 .8 .3-1.5 .4 1 .3-.4 .3 .6 .3 0 .3 0 .4-.2 .3 .1 .3-.5 .3 0 .3 .6 .3-.1 .4 .3 .3 .1 .3-.8 .3 1 .3-1 .4 .2 .3 0 .3 .1 .3 0 .3-.4 .3-.1 .4 .9 .3-1.6 .3 1.9 .3-1.4 .3-.2 .4 .8 .3-.8 .3-.4 .3-.4 .3 .6 .3-.8 .4 .6 .3-.7 .3 0 .3 .2 .3-.8 .4-.1 .3 .4 .3-.8 .3-.6 .3 1.3 .3-.4 .4 .1 .3-.9 .3 .2 .3 1 .3-.4 .4 1.2 .3 .4 .3-1.2 .3 .3 .3 .7 .3-1.2 .4 1.1 .3-.6 .3 .3 .3 .8 .3-.4 .4 .2 .3 .8 .3-.3 .3 1.2 .3-1 .3-.1 .4 .3 .3-.7 .3 1.4 .3-.1 .3-.3 .4-.5 .3 .3 .3 .5 .3-.8 .3 1.2 .3-1.6 .4 .7 .3-.7 .3 1.5 .3-.4 .3-.5 .4 .1 .3 1.1 .3-1.1 .3 .4 .3 0 .3 .5 .4-1.1 .3 1.1 .3-.1 .3-.4 .3-.1 .4 .6 .3-.8 .3 .5 .3-.7 .3 .9 .3-.1 .4-.4 .3 .1 .3 0 .3 .1 .3 .3 .4 .5 .3-.3 .3-.7 .3 0 .3 .4 .3-.8 .4-.1 .3 .2 .3 .5 .3-.3 .3 .4 .4-.4 .3-.1 .3 .6 .3-.2 .3 .4 .3 .1 .4-.1 .3-.8 .3 .5 .3 .3 .3-.7 .4 .4 .3-.3 .3 .2 .3 .1 .3-.3 .3-.1 .4-.7 .3 1.2 .3 .1 .3-.8 .3 .6 .4 .1 .3 .7 .3-1.1 .3-.2 .3 1.2 .3-.5 .4 .2 .3-.8 .3 .4 .3-.6 .3 1 .4-1.4 .3-.2 .3 .8 .3 .2 .3-.4 .3 1 .4-.8 .3 .1 .3 .4 .3-.6 .3 .4 .4-.8 .3 1 .3-.8 .3 .6 .3-.4 .3 .8 .4-.7 .3 .7 .3 .3 .3-.7 .3 .4 .4-.5 .3-.2 .3 .1 .3-.6 .3 1.3 .3 .5 .4-1.3 .3 .8 .3 0 .3-.7 .3 0 .4-.2 .3 0 .3 .9 .3-.5 .3 .1 .3 .1 .4 .2 .3-.6 .3 .3 .3 .6 .3-.6 .4 .5 .3 .8 .3-2.1 .3 .8 .3 .3 .3-.3 .4-.3 .3 .3 .3-1 .3 .3 .3-.3 .4 .3 .3-.1 .3 1 .3-.7 .3-.1 .3 .7 .4-.3 .3-.3 .3 .3 .3 .7 .3-.4 .4-.3 .3 0 .3-.9 .3 1.6 .3-.8 .3 .6 .4-.3 .3-.8 .3 .7 .3-.6 .3 .2 .4 1.2 .3-.8 .3-.7 .3 .7 .3-.9 .3 1.5 .4-1.8 .3 1.2 .3-.4 .3-.4 .3 .4 .4 .6 .3-.8 .3-.6 .3 1 .3 0 .3-.6 .4-.1 .3-.1 .3 .4 .3 0 .3-.1 .4-.6 .3 .6 .3-.8 .3 .7 .3-.2 .3-.9 .4 .5 .3-.3 .3 .5 .3-.6 .3 1 .4-.9 .3-.9 .3 .2 .3 .2 .3 .2 .3-1.1 .4 1.1 .3-1.3 .3-2.2 .3 1 .3-.5 .4-.8 .3 .7 .3-.3 .3-.6 .3-1.3 .3 .6 .4-1.5 .3 .2 .3 .6 .3-1.1 .3 .2 .4-.7 .3 .3 .3-.6 .3 .6 .3 0 .3 0 .4-.5 .3 .6 .3 0 .3 .3 .3 .7 .4 .7 .3-.3 .3 1.6 .3-1 .3 1.8 .3-.5 .4 .9 .3 .5 .3-.3 .3-.1 .3 1.2 .4 .8 .3-1.3 .3 .6 .3 .7 .3 .2 .3 .1 .4-.1 .3 0 .3 .7 .3-.2 .3-.4 .4-.2 .3 1.2 .3-1.3 .3 .7 .3-.4 .3 .2 .4 .3 .3 .4 .3 0 .3-.1 .3 .1 .4 .2 .3-.7 .3 .8 .3-.1 .3-.1 .3-.5 .4-.2 .3 .1 .3 .4 .3-1.1 .3 .1 .4 .3 .3-.8 .3 .3 .3 .2 .3-1.2 .3 .8 .4-1.7 .3 .8 .3 .3 .3-.6 .3 .1 .4-.7 .3 .2 .3-.6 .3-.6 .3-.1 .3-.1 .4-.1 .3-1 .3-.5 .3 1 .3-1.3 .4-.1 .3 .5 .3-.3 .3-.8 .3 .7 .3 0 .4 .6 .3-.5 .3-.5 .3 .1 .3 .8 .4-.2 .3 .8 .3-.1 .3 1.7 .3-.4 .3 .3 .4-1.2 .3 1.6 .3 .1 .3-.1 .3-.2 .4 1.7 .3 .4 .3-.8 .3 .5 .3-.1 .3-.1 .4 .4 .3 1.1 .3 .1 .3-.3 .3-.2 .4 1.4 .3-1.2 .3 .2 .3 .1 .3 1.3 .3-.8 .4 .5 .3-.2 .3 0 .3 .1 .3 .5 .4 .5 .3-1.1 .3 .7 .3-1.5 .3 1.4 .3-.4 .4-.5 .3 .5 .3 1 .3-1.1 .3 .4 .4-.1 .3 .1 .3 .7 .3-.5 .3-.2 .3 .4 .4-.7 .3 .2 .3 .7 .3-.9" fill="none" stroke="#38a86a" stroke-width="3.40" stroke-linejoin="round" stroke-linecap="butt"/>
<path clip-path="url(#cr)" d="M1007.3 162.7l.3 .3 .3-.2 .4-.2 .3 .4 .3-1 .3 .4 .3 0 .3 .3 .4 0 .3 .1 .3 .3 .3 .1 .3-.1 .4-.5 .3 .6 .3-.4 .3 .8 .3-.4 .3-.3 .4-.1 .3-.4 .3 .5 .3-.6 .3 .7 .4-1 .3 .3 .3 1.3 .3 0 .3-.1 .3-1.5 .4 .2 .3 0 .3-.1 .3 .9 .3-.4 .4 .3 .3-.3 .3-.1 .3 1.4 .3-.7 .3-.8 .4 1.1 .3-.9 .3 .1 .3 .9 .3-1.1 .4 .3 .3-.1 .3 1 .3 .1 .3-.8 .3 .8 .4-1.6 .3 .6 .3 .7 .3-.7 .3 .2 .4 0 .3 .2 .3-.2 .3-.8 .3 .5 .3-.2 .4 .7 .3-1.2 .3 .5 .3 .9 .3-.4 .4 1 .3-1.1 .3-1.3 .3 1.8 .3-.4 .3-.3 .4-.5 .3 .6 .3 .4 .3-.2 .3-.1 .4 .3 .3-.2 .3-.6 .3 .6 .3 .1 .3 .7 .4-.9 .3-.5 .3 1 .3-.2 .3-.6 .4-.3 .3 1.3 .3-1.5 .3 .5 .3 .4 .3-.6 .4 .4 .3 .3 .3-.4 .3-.4 .3 .3 .4 .2 .3 .6 .3-1 .3 1.2 .3-1.1 .3 1 .4 .4 .3-.4 .3-.7 .3 .9 .3-.3 .4-.3 .3-.3 .3-.1 .3 .1 .3 1.2 .3-.9 .4 0 .3-.5 .3 .4 .3-.3 .3-.2 .4 .4 .3-.3 .3 .3 .3-.1 .3-.3 .3 .6 .4 .1 .3-1.7 .3 1.3 .3 0 .3-.1 .4 .8 .3-.6 .3-.2 .3-.2 .3 .7 .3-1.1 .4 .6 .3-.1 .3 .1 .3 0 .3-.4 .4 0 .3 .5 .3-.3 .3 1 .3-.5 .3-.7 .4 .8 .3-.3 .3 .2 .3 .6 .3-.3 .4-.9 .3 .7 .3-.4 .3 .7 .3-.5 .3-.8 .4-.9 .3 1.3 .3 0 .3 0 .3 1.4 .4-1 .3 .4 .3-.9 .3 .8 .3-.6 .3-.5 .4 .6 .3 .1 .3-.5 .3 1.3 .3-.7 .4-.8 .3-.4 .3 1.5 .3 0 .3 0 .3-.8 .4 0 .3 .7 .3-.4 .3 .2 .3 .3 .4 .2 .3-.9 .3 .3 .3 .2 .3-.4 .3 .7 .4-.9 .3 .7 .3-.4 .3 .8 .3-.6 .4-.3 .3 .1 .3-.4 .3 .9 .3-.4 .3 0 .4 .3 .3 0 .3-.4 .3-.4 .3 1.1 .4-.3 .3-.2 .3 .4 .3-.6 .3 .9 .3-.8 .4 0 .3 .1 .3-.2 .3 .1 .3 .1 .4-.4 .3 .6 .3-.2 .3 .9 .3-1.1 .3-.2 .4 0 .3 .6 .3-.1 .3-.6 .3 .9 .4-1.2 .3 .3 .3 .2 .3 .2 .3-.4 .3 1.1 .4-.1 .3-.5 .3 0 .3 0 .3 0 .4 .3 .3 .1 .3-.2 .3-.4 .3-.5 .3-.1 .4 .9 .3-.8 .3 .4 .3 .8 .3-.4 .4-.1 .3 0 .3 .3 .3 0 .3-.8 .3-.1 .4 .1 .3 .4 .3 1.1 .3-1 .3 0 .4 .5 .3-.1 .3-.8 .3-.7 .3 2.3 .3-1.4 .4-.1 .3 .8 .3-1.1 .3 .4 .3-.6 .4 1.2 .3-.8 .3 .4 .3 .3 .3-.5 .3 1.2 .4-1.1 .3-.8 .3 1.2 .3 0 .3 .1 .4-.8 .3 0 .3 .2 .3 .5 .3-.5 .3 .7 .4-.2 .3-.1 .3-.7 .3-.5 .3 .9 .4 .6 .3-.2 .3-.9 .3 .8 .3-.3 .3 .2 .4-.8 .3 .1 .3 .4 .3 .6 .3-.7 .4 .2 .3 .6 .3-.9 .3 .1 .3-.1 .3 .9 .4-.8 .3-.5 .3 .4 .3 .4 .3 0 .4 .2 .3 .3 .3-.5 .3-.3 .3-.7 .3 1 .4 .3 .3-.2 .3 .1 .3-.6 .3 .6 .4-1.2 .3 .2 .3-.2 .3 1.3 .3-.1 .3 0 .4 .5 .3-1.4 .3 .7 .3-.3 .3-.1 .4 .7 .3-.6 .3-.3 .3 .9 .3-.6 .3 .1 .4 .5 .3-.5 .3-.1 .3 .4 .3 .6 .4-1.6 .3 1.6 .3-.3 .3-.3 .3 .1 .3-.9 .4 .8 .3 .3 .3-.4 .3-.8 .3 .6 .4-.6 .3 .1 .3 .1 .3 .9 .3 .3 .3-.8 .4 .6 .3-.8 .3 .1 .3 .8 .3 .4 .4-.4 .3-1.8 .3 1 .3 .3 .3 0 .3-.6 .4 1.8 .3-2.3 .3 .9 .3-.4 .3 .3 .4 .1 .3-.3 .3 .4 .3-.9 .3 .4 .3 .6 .4-.8 .3 .8 .3-.5 .3-.3 .3 .6 .4-.3 .3 1.2 .3-.8 .3 .7 .3-1.2 .3 1 .4-.6 .3 .4 .3-.6 .3 .8 .3 .5 .4-1.4 .3-.1 .3 1.4 .3-1.5 .3 .4 .3-.2 .4-.4 .3 .5 .3 .1 .3-1 .3 1.6 .4-.4 .3-1.4 .3 1.3 .3 1.1 .3-1.6 .3 .5 .4 .8 .3-1.9 .3 1.7 .3 .3 .3-.2 .4-1.3 .3 1 .3-.5 .3 .8 .3-.1 .3-.8 .4 .2 .3-.5 .3 .3 .3 0 .3 .2 .4-.1 .3-.3 .3 .4 .3-.3 .3 .2 .3-.3 .4 1 .3 0 .3-.1 .3-1.1 .3 .7 .4-.3 .3 .2 .3 .2 .3 .1 .3-.8 .3 1 .4 .1 .3-.1 .3-.9 .3 .4 .3-.1 .4-.3 .3-.1 .3 .4 .3-.5 .3-.2 .3 .6 .4 .1 .3 .4 .3 .4 .3-1.4 .3 .7 .4 .2 .3-.8 .3 .3 .3 .2 .3-.2 .3 .5 .4 .4 .3 .2 .3-1 .3-.2 .3 .7 .4-.6 .3 .1 .3 .4 .3-.8 .3 1.1 .3-.9 .4 .3 .3-.4 .3 .4 .3-.6 .3-.4 .4 .5 .3 .6 .3-1 .3 1 .3 .5 .3-1 .4 .6 .3-.6 .3 .6 .3-.6 .3-.9 .4 .8 .3 .8 .3-.7 .3-.3 .3 .5 .3-.8 .4 1.5 .3-1.3 .3 .7 .3-.2 .3-.3 .4-.5 .3 .7 .3-.1 .3 0 .3-.9 .3 .9 .4-.1 .3 0 .3 0 .3-.4 .3-.3 .4 .8 .3-.8 .3 .1 .3 .4 .3 .8 .3-.6 .4 .2 .3-.7 .3 0 .3 .3 .3-.1 .4-.1 .3 .1 .3-.4 .3 .1 .3-.1 .3 .7 .4-.9 .3 .1 .3 .2 .3 0 .3-.1 .4-1.3 .3 .7 .3-.2 .3-.1 .3 .1 .3 .2 .4-.4 .3-.5 .3-.1 .3-.8 .3 .2 .4 .9 .3-.9 .3-.9 .3 .3 .3 0 .3-.2 .4-1.1 .3 0 .3 .4 .3 .3 .3-1.9 .4-1.2 .3-.4 .3-.8 .3-.6 .3-.4 .3-.7 .4-3 .3-.5 .3-1.4 .3-2 .3-2 .4-2.1 .3-1.5 .3-3 .3-3.2 .3-1.6 .3-3.3 .4-3.8 .3-2.5 .3-1.5 .3-1.5 .3-1.7 .4 1.1 .3 .2 .3 1.6 .3 .9 .3 2.3 .3 3.7 .4 2.6 .3 3.3 .3 1.9 .3 3.1 .3 1 .4 3 .3 2.7 .3 .8 .3 1.9 .3 1.8 .3 1.7 .4 1.5 .3-.1 .3 .9 .3 2.1 .3 1.1 .4-.8 .3 .5 .3 1.1 .3 .5 .3-.7 .3 1.7 .4-1.2 .3 .8 .3-.5 .3 1.8 .3 0 .4 .2 .3-.7 .3 .9 .3-.8 .3 .9 .3 .8 .4-.3 .3-.6 .3 1.2 .3-.9 .3 .3 .4 .7 .3-1 .3 .8 .3 0 .3-.6 .3 .6 .4 .2 .3 .1 .3 0 .3 .5 .3-.3 .4-.3 .3 .1 .3 .4 .3-.8 .3 .8 .3-.4 .4 .2 .3-.8 .3 1.3 .3-1.1 .3 .7 .4-.1 .3 .7 .3-.5 .3 .5 .3-.6 .3-.1 .4 .7 .3-.9 .3-.4 .3-.3 .3 1.6 .4-.2 .3-.5 .3 .7 .3 .3 .3-.6 .3-.4 .4 1.7 .3-1.7 .3 .5 .3-.5 .3-.7 .4 .9 .3-.1 .3 .5 .3-.3 .3-.3 .3 .9 .4-.9 .3-.4 .3 .1 .3-.1 .3 0 .4 .8 .3-.5 .3 .5 .3-.1 .3-1 .3 .6 .4-.3 .3 .1 .3 1 .3 .1 .3-.4 .4-1.6 .3 1.5 .3-.1 .3 .2 .3-.9 .3-.6 .4 .1 .3 1 .3 .1 .3-.2 .3-.9 .4 .4 .3 .1 .3-.8 .3 .6 .3-.7 .3-.1 .4-.6 .3 .7 .3-1.1 .3 .4 .3-.9 .4-.5 .3 0 .3 .1 .3-.9 .3-.6 .3-.5 .4-.6 .3-1.2 .3-1.1 .3-1.5 .3-.5 .4-3.2 .3-1.6 .3-1.2 .3-2.1 .3-2.6 .3-1.5 .4-3 .3-1.6 .3-.4 .3-1.7 .3 1.2 .4 .4 .3 1.6 .3 1.7 .3 2.4 .3 2.4 .3 1.1 .4 2.1 .3 3 .3 1.2 .3 1.1 .3 2.4 .4 .3 .3 1.6 .3 .4 .3 1.2 .3-.3 .3 .7 .4 1.7 .3-.7 .3 1.6 .3 .6 .3-.9 .4 .6 .3 .5 .3-.4 .3 .8 .3-.6 .3 .2 .4 1.2 .3-.1 .3-.7 .3 .1 .3 .5 .4 .3 .3 0 .3 .2 .3-.5 .3 .3 .3 0 .4 .9 .3-.3 .3-.8 .3 .4 .3 .4 .4-.2 .3-.1 .3 .4 .3-.3 .3-.1 .3 .9 .4-1.1 .3 .7 .3-.3 .3 0 .3-.1 .4 .4 .3 .3 .3-.7 .3 .3 .3 .2 .3-.4 .4-.2 .3 .3 .3 .9 .3-1.5 .3 .5 .4-.2 .3 .4 .3-.6 .3 .8 .3-1.1 .3 1.6 .4-.8 .3 .8 .3-1 .3 .1 .3 .3 .4 .1 .3-.4 .3 .8 .3-.8 .3 0 .3 0 .4-.2 .3 1.1 .3-.9 .3 .2 .3-.8 .4-.1 .3 .1 .3-.3 .3 .6 .3-.1 .3 .1 .4-1.2 .3 1.5 .3-.8 .3-.1 .3 0 .4-.2 .3-.1 .3-.1 .3 .6 .3-1.1 .3-.7 .4 .9 .3 .3 .3 .4 .3 .7 .3-.5 .4-.1 .3 1.5 .3-.4 .3 0 .3-.5 .3 .6 .4 .4 .3-1.2 .3 .3 .3-.2 .3 1 .4-.6 .3 0 .3-.3 .3 .9 .3-.2 .3 .3 .4 .5 .3-.5 .3 0 .3-.5 .3-.1 .4 .1 .3 0 .3 .7 .3-.4 .3-.3 .3-.5 .4 1.1 .3-1 .3 .9 .3 0 .3-.8 .4 0 .3 .5 .3 .5 .3-.9 .3 .1 .3 .1 .4 .6 .3 .3 .3 .1 .3 .1 .3-1.4 .4 .1 .3 .8 .3 .3 .3-.4 .3-.7 .3 0 .4-.4 .3 1.3 .3-.4 .3 .2 .3-.1 .4-.2 .3 .2 .3 .7 .3 0 .3-.7 .3 .1 .4-.2 .3 .3 .3-.5 .3 .8 .3-.4 .4 .2 .3-1 .3 .3 .3 .5 .3 .8 .3-1.7 .4 .5 .3 .2 .3-.4 .3 .6 .3-.3 .4 .3 .3-.1 .3-.7 .3 .8 .3-.8 .3 1.2 .4-.7 .3 .4 .3 .3 .3 0 .3-1 .4-.1 .3 .6 .3-.2 .3 .3 .3 0 .3-.2 .4 .9 .3-2 .3 .8 .3 .8 .3-.9 .4 .9 .3-1 .3 .9 .3 .6 .3-1.1 .3 .8 .4-1.3 .3 .8 .3-.4 .3 .9 .3-.5 .4-.1 .3-1 .3 1.4 .3 .1 .3 0 .3-.3 .4 .1 .3-.2 .3 .8 .3-.9 .3 .3 .4-.5 .3 1.1 .3-.5 .3-.3 .3-.7 .3-.3 .4 1.1 .3-.3 .3 .8 .3-1.2 .3 .1 .4 .6 .3-.4 .3 .1 .3-.5 .3 0 .3 1.1 .4-.1 .3 .1 .3-1 .3 .3 .3 .4 .4-.3 .3-.3 .3 .5 .3 .1 .3-.3 .3 .7 .4 0 .3-.1 .3-.3 .3-.5 .3-.8 .4 2.2 .3-1.1 .3 .5 .3 0 .3 .3 .3-.5 .4-.3 .3-.1 .3-.6 .3 .4 .3 .2 .4-.6 .3 1.1 .3-.3 .3 0 .3-.5 .3 .3 .4 .3 .3-.2 .3 .6 .3-1 .3 0 .4 .8 .3 .1 .3-.1 .3-.4 .3 .2 .3 .4 .4-.2 .3-1.1 .3 .7 .3 .4 .3-.7 .4 .1 .3 .2 .3 .4 .3-.6 .3 .6 .3-.4 .4-.9 .3 .3 .3-.3 .3 1.2 .3-1 .4 1.7 .3-.7 .3-.6 .3 .2 .3 .5 .3 .3 .4-1.2 .3 .4 .3 .2 .3 .2 .3-.4 .4-.3 .3 .9 .3-2 .3 2.5 .3-.6 .3 0 .4-.9 .3-.2 .3 .6 .3-.1 .3-.4 .4 .3 .3 .5 .3-.8 .3 .2 .3 .3 .3-.3 .4 .3 .3 .5 .3-.7 .3 .5 .3 .5 .4-.8 .3 0 .3 .3 .3 1.4 .3-2.7 .3 1.4 .4-1.1 .3 .5 .3-.1 .3 .7 .3-.2 .4 .3 .3-.4 .3 .7 .3-.3 .3-1.2 .3 .1 .4 .3 .3 .6 .3 .3 .3-1 .3 .6 .4 .1 .3 .5 .3-1.2 .3 1.1 .3-.7 .3 0 .4-.2 .3 .1 .3-.1 .3 1.2 .3-2.3 .4 .8 .3 0 .3 .9 .3-1 .3 1.5 .3-.9 .4 .7 .3-.2 .3-.7 .3 0 .3 .1 .4 0 .3 .5 .3-.2 .3-.5 .3-.7 .3 .9 .4 1 .3-1.3 .3 .3 .3-.7 .3-.4 .4 1.2 .3-.9 .3 1.2 .3-.4 .3-.6 .3 .6 .4 0 .3 .2 .3-1 .3 .8 .3-.4 .4 .4 .3 .4 .3-1.5 .3 .9 .3-.7 .3 .3 .4 .9 .3-.8 .3-.1 .3 .5 .3-.6 .4 0 .3-.2 .3-.2 .3 .5 .3-.4 .3-.1 .4 .5 .3-.4 .3 1.4 .3-1.9 .3 .8 .4 .2 .3-.4 .3 .4 .3-.7 .3-.2 .3-.9 .4 1.6 .3-.5 .3-.1 .3-.3 .3 .6 .4-.3 .3 .2 .3-.7 .3 .7 .3-.9 .3 .6 .4 .1 .3-1.4 .3-.1 .3 0 .3 0 .4 0 .3-.8 .3-.4 .3 0 .3-1.3 .3-.2 .4-.3 .3-.4 .3-.3 .3-1.2 .3-.9 .4-.7 .3-1.6 .3-.4 .3-2.1 .3-1.1 .3-.8 .4-2.6 .3-.6 .3-2.3 .3-1.8 .3-1 .4-1.2 .3-.3 .3-.5 .3 .4 .3 .7 .3 .9 .4 .5 .3 2.6 .3-.3 .3 3.7 .3 1.5 .4 1.4 .3 1.4 .3 1 .3 1.7 .3 .3 .3 .6 .4 1.5 .3 .7 .3 1 .3 0 .3 1.4 .4 .8 .3-.9 .3 1.3 .3 .5 .3-1.1 .3 .4 .4 1.2 .3-.2 .3-.1 .3 .1 .3 1.1 .4-.8 .3 .4 .3-.4 .3 .4 .3 1.1 .3-.5 .4-.1 .3-.1 .3 .1 .3 .3 .3 .1 .4-.2 .3 .6 .3-.4 .3 .5 .3-.7 .3 .8 .4-1.2 .3 .2 .3 .9 .3-.7 .3-.2 .4 .5 .3 .4 .3-.2 .3-.2 .3 .9 .3 .2 .4-1 .3 .3 .3-.1 .3 .7 .3-1 .4 .7 .3-.5 .3 .4 .3-.1 .3-.4 .3-.1 .4 .4 .3 .4 .3 .4 .3-.4 .3-.1 .4 .8 .3-.6 .3 .6 .3-.7 .3 .1 .3-.8 .4 .5 .3 .3 .3-.1 .3 .8 .3-.1 .4-.8 .3-.1 .3-.6 .3 1.3 .3-.7 .3 .3 .4-.5 .3 .5 .3 .1 .3 0 .3 0 .4-1.1 .3 1 .3-.1 .3 .5 .3-.3 .3 .1 .4 0 .3 .1 .3-.2 .3-.6 .3-.5 .4 .9 .3 .5 .3-.2 .3-.3 .3-.1 .3 .6 .4-.3 .3-.7 .3 .6 .3 .3 .3 .1 .4 .5 .3-.8 .3 .9 .3-.9 .3-1.3 .3 .7 .4 .2 .3-.8 .3 1.7 .3-.4 .3 .1 .4-.4 .3 .9 .3-.2 .3-.7 .3 .3 .3-1.2 .4 1.2 .3 .5 .3-.6 .3 0 .3-.2 .4 .2 .3-.9 .3 .6 .3 0 .3 .1 .3 .2 .4-.4 .3 .1 .3 .9 .3-1.5 .3 1.5 .4-.6 .3-.3 .3-.2 .3 .3 .3 .8 .3-1.1 .4 .7 .3-.3 .3-.3 .3 .4 .3 .4 .4 .2 .3 .5 .3-1.2 .3 .7 .3-.4 .3 .4 .4-.4 .3-.3 .3 0 .3 .2 .3-.7 .4 .7 .3-.7 .3 .4 .3-.1 .3-.1 .3-.8 .4 1.7 .3-1.5 .3 .7 .3-.2 .3 .7 .4 0 .3-.7 .3 0 .3-.4 .3 .3 .3 .6 .4-.6 .3 .6 .3-.4 .3-.8 .3 .9 .4 .6 .3-.5 .3-.4 .3 .8 .3 .5 .3-.6 .4-.5 .3 .6 .3-.6 .3-.3 .3 .3 .4-.7 .3-.3 .3 .4 .3 .5 .3-.6 .3 .4 .4 .6 .3-.4 .3 .5 .3-1.1 .3 .5 .4 .4 .3-1.3 .3 1.2 .3 .4 .3-1.5 .3 .9 .4 .6 .3-.4 .3-.3 .3-.4 .3 1.2 .4-.8 .3-.4 .3-.6 .3 1.7 .3-.3 .3-.5 .4 .3 .3-.4 .3-.2 .3 1.4 .3-2 .4 .3 .3 .3 .3-.5 .3 .1 .3 .2 .3 0 .4 .1 .3 0 .3-.6 .3-.1 .3-.2 .4-.6 .3 .4 .3-.3 .3 .9 .3-.3 .3 0 .4 .1 .3-1.2 .3 .9 .3-.8 .3 1 .4-1.3 .3 .1 .3-.2 .3-1 .3 .8 .3 0 .4-.2 .3-.9 .3-.6 .3-.4 .3-.7 .4-1.2 .3-.3 .3-.9 .3-.7 .3-.5 .3-1.2 .4-.9 .3-1.2 .3-1.3 .3-1.7 .3-.8 .4-1.7 .3-1.6 .3-1.4 .3-2 .3-1.2 .3-.6 .4-1.1 .3-.4 .3-.6 .3 .2 .3 1.3 .4 0 .3 1.3 .3 1.9 .3 2 .3 1 .3 1.9 .4 1 .3 1.9 .3 1.8 .3 .3 .3 1.1 .4 1.7 .3 .1 .3 2.3 .3-1.2 .3 1.5 .3 1.5 .4 .2 .3-.4 .3 1.3 .3 0 .3 .4 .4 .4 .3 1 .3-.8 .3 1.9 .3-1.8 .3 .8 .4 1 .3-.6 .3 .6 .3-.8 .3 0 .4 .5 .3-.1 .3 .7 .3-.9 .3 1.4 .3-.6 .4-.6 .3-.5 .3 1.9 .3-.9 .3 .8 .4 .1 .3-.8 .3 .7 .3-.7 .3 1 .3-.8 .4 1 .3-.5 .3-.2 .3 .3 .3-.2 .4-.6 .3 .3 .3 .3 .3-.5 .3 .1 .3 .6 .4-.8 .3 .8 .3-1.3 .3 .7 .3-1.3 .4 1.9 .3-1.7 .3 .9 .3-.7 .3-.3 .3-.5 .4 .2 .3-.9 .3 .9 .3-.8 .3-1.3 .4 1 .3-.3 .3-.7 .3 .1 .3-.5 .3-1.1 .4 1.2 .3-.3 .3-.4 .3-.5 .3 .3 .4 0 .3 .5 .3-.1 .3-.1 .3 .2 .3 .2 .4 .6 .3 .4 .3 0 .3 .2 .3 .9 .4-.2 .3 .6 .3 .2 .3 .6 .3 .3 .3-.7 .4 .9 .3 .5 .3-.4 .3 0 .3-.3 .4 .1 .3 2.4 .3-1.7 .3 .1 .3 .6 .3-.7 .4 .1 .3 .2 .3 .6 .3 .3 .3-1.1 .4 .8 .3 0 .3-.1 .3 .3 .3-.1 .3 .3 .4-.9 .3 .6 .3 .7 .3-.3 .3-.2 .4-.7 .3 .6 .3-.6 .3 0 .3 1.4 .3-.7 .4 .8 .3 .4 .3-.7 .3-1.5 .3 .3 .4 .8 .3-.2 .3-.4 .3 .4 .3-.2 .3-.1 .4 1 .3-1.3 .3 .6 .3 .2 .3-.1 .4 .1 .3 .6 .3-1 .3 .1 .3 .7 .3-1.1 .4 .7 .3-.1 .3 .2 .3 .8 .3-1.1 .4 .3 .3-1.5 .3 .9 .3 .2 .3 .2 .3 .9 .4-1 .3 .1 .3-.1 .3-.4 .3 .8 .4-.2 .3-.1 .3 .2 .3 .8 .3-1.2 .3-.6 .4 1.2 .3-.4 .3-.6 .3 .6 .3-.4 .4 1.2 .3-.7 .3-.3 .3-.1 .3 .6 .3 .3 .4-.5 .3-1 .3 .7 .3 .5 .3 .5 .4-.5 .3-.3 .3-.4 .3 .4 .3 .1 .3 .8 .4-1 .3 .2 .3 .2 .3-.5 .3 .6 .4-.9 .3 .6 .3-.9 .3 1.3 .3-.6 .3 .4 .4-.3 .3 .4 .3 0 .3-.4 .3 0 .4 .8 .3-1 .3 .1 .3 1.4 .3-1 .3-.3 .4-.1 .3 0 .3-.3 .3 .2 .3 .8 .4-.2 .3-.9 .3-.1 .3 .9 .3-.6 .3 0 .4 .7 .3 .3 .3-.5 .3-.2 .3 .4 .4-.1 .3-.4 .3 .9 .3 .1 .3-1.1 .3 0 .4 .4 .3 .4 .3-.2 .3-.4 .3 .7 .4-1 .3 .2 .3 1.1 .3-1.6 .3 .5 .3-.2 .4 0 .3 .7 .3 .8 .3-2 .3 1 .4 .6 .3-.9 .3 .8 .3-.6 .3 .7 .3-.7 .4 .2 .3 1.1 .3-.8 .3-1.2 .3 .7 .4-.1 .3-.2 .3-.6 .3 .9 .3 0 .3 .7 .4 .3 .3-.8 .3 .1 .3-.2 .3 0 .4 .2 .3 .1 .3-.2 .3-.1 .3 .4 .3-.2 .4-.4 .3 .4 .3 .1 .3 .1 .3 .3 .4-.4 .3-.6 .3-1.1 .3 .9 .3 .4 .3 .2 .4 .1 .3 0 .3-1 .3 .8 .3 .1 .4-.1 .3-.4 .3 1 .3-1.5 .3-.1 .3 1.4 .4-.4 .3 0 .3 .6 .3-.7 .3 .3 .4 .2 .3 .6 .3-1.7 .3 .9 .3-.3 .3 0 .4 .4 .3-.7 .3 .4 .3 .7 .3-.6 .4 .2 .3-.2 .3-.2 .3 0 .3-.1 .3 .3 .4-.8 .3 .7 .3-.5 .3 .2 .3 .8 .4 .2 .3-1.4 .3 .5 .3 .1 .3-.5 .3 1 .4-.6 .3 .2 .3-.1 .3 .3 .3-.1 .4 .1 .3-.7 .3 .4 .3 .2 .3 0 .3 .3 .4-1.4 .3 .5 .3 .7 .3-.6 .3 .1 .4 .2 .3-.2 .3 .2 .3 .2 .3-.2 .3-.5 .4 1.7 .3-2.1 .3 1 .3-.5 .3 .8 .4-1.4 .3 1 .3-.5 .3 1.4 .3-.1 .3-1.5 .4 1.3 .3-.1 .3-.4 .3 .1 .3-.2 .4 .3 .3-1.6 .3 .9 .3 .6 .3-.3 .3 .7 .4-1.4 .3 1 .3-.8 .3 .9 .3-.1 .4-.6 .3 .1 .3 1 .3-1.9 .3 1.5 .3 .1 .4-.3 .3-.9 .3 .6 .3-.3 .3 .1 .4 .2 .3-.8 .3 .6 .3-.6 .3 .5 .3-1 .4 .3 .3-.7 .3 0 .3-.4 .3 1 .4-.1 .3-.8 .3 .4 .3-.5 .3 0 .3-.2 .4-.3 .3-.1 .3 .8 .3-.6 .3-.6 .4-1.2 .3 1.2 .3 .3 .3 0 .3 .6 .3-1.8 .4 1.5 .3-.2 .3-.3 .3 .9 .3 .1 .4-.5 .3-.2 .3 1.2 .3-.7 .3 0 .3 .4 .4 1.2 .3-.1 .3-.1 .3-.2 .3 .6 .4 .2 .3 .2 .3-.4 .3 .3 .3 .5 .3 0 .4 .3 .3-.7 .3 .5 .3-1.2 .3 1 .4-1 .3 1 .3-.5 .3 1 .3-1.6 .3 .2 .4 .6 .3 .1 .3-.2 .3-.3 .3 .8 .4 0 .3 .6 .3-.8 .3-.4 .3 .5 .3 .6 .4-.8 .3 .4 .3-.2 .3-.8 .3 1.3 .4 .2 .3-.9 .3 1.2 .3-1.4 .3 .6 .3-.4 .4 .4 .3 0 .3-.4 .3-.7 .3 .8 .4-.1 .3-.7 .3 1.1 .3-.2 .3 .8 .3-.4 .4-.6 .3 .7 .3-1.7 .3 1.1 .3 .4 .4-.3 .3 .5 .3-.6 .3-.5 .3 0 .3 1.4 .4-.1 .3-1.3 .3 1.3 .3-1 .3 .1 .4 .5 .3-1.1 .3 .5 .3-.1 .3 .8 .3 .5 .4-1.4 .3 .9 .3-.2 .3-.9 .3 1.2 .4-.9 .3-.1 .3 1 .3 .7 .3-.8 .3-.1 .4 0 .3-1.1 .3 .4 .3-.5 .3 1 .4-.4 .3 0 .3 .1 .3-.2 .3 .3 .3 .2 .4 .2 .3-.2 .3-.9 .3 1.3 .3-.9 .4 1 .3-.6 .3 .1 .3 .1 .3 .6 .3-.1 .4-1.3 .3 .8 .3-.3 .3 .1 .3 1 .4-1.2 .3-.7 .3-.3 .3 1.3 .3-.3 .3 .1 .4-.5 .3 .5 .3-.3 .3 .5 .3-1.2 .4 1.5 .3-.4 .3 .8 .3-.7 .3-1 .3 1.7 .4-.3 .3-1 .3-.3 .3 1.6 .3-1.4 .4 1.2 .3-.3 .3 .3 .3-.3 .3-.4 .3-.1 .4-.5 .3 .4 .3-.3 .3 .6 .3 .6 .4-.3 .3-.8 .3 .6 .3-.1 .3 .2 .3-.2 .4-.4 .3 .4 .3-.4 .3-.4 .3 .5 .4 .6 .3-.6 .3 0 .3-.3 .3 .3 .3 0 .4 .1 .3-.5 .3 1.5 .3-.8 .3-.8 .4-.6 .3 .8 .3 1.4 .3-.1 .3-1.7 .3 .3 .4 .4 .3-.9 .3 1.1 .3-.3 .3-.9 .4-.1 .3 1.1 .3 .5 .3-1.2 .3 .1 .3 0 .4 .2 .3-.8 .3-.1 .3 .2 .3 1.4 .4-.5 .3-.2 .3 .7 .3-1.5 .3-.2 .3 .9 .4-1.4 .3 1.1 .3-.6 .3 0 .3 .9 .4-1.6 .3 .2 .3-1 .3 .4 .3-.3 .3 .2 .4-.5 .3 0 .3-1.1 .3 .1 .3-1.3 .4 1.1 .3-.1 .3-1 .3-.2 .3-.5 .3-1 .4 .8 .3 .2 .3-1.1 .3 .9 .3-.4 .4 .5 .3-.5 .3 .1 .3 .3 .3 .7 .3-.1 .4 .5 .3-.1 .3 1.2 .3-.2 .3-.7 .4 1.2 .3 1.2 .3-1 .3 .3 .3 .3 .3 .9 .4-.8 .3 .9 .3 .2 .3 .2 .3-.2 .4 .5 .3 .3 .3-.3 .3-.1 .3 .4 .3 .2 .4-.7 .3 .8 .3-.2 .3-.6 .3 1 .4-.5 .3 .5 .3-.1 .3 .3 .3-.2 .3-.6 .4 .6 .3 .3 .3-.9 .3 .5 .3-.1 .4 0 .3-.1 .3-.5 .3 .1 .3 .4 .3-.1 .4-.5 .3 .3 .3 .1 .3-.8 .3 .3 .4 .3 .3-.9 .3 .7 .3-1.4 .3 .8 .3-.7 .4 .9 .3-.6 .3-.2 .3-.3 .3-.3 .4-.5 .3-.9 .3 .3 .3 .5 .3-.5 .3-.4 .4 .1 .3-.3 .3-.8 .3 .2 .3 .8 .4-1.1 .3 1.1 .3-.7 .3 .6 .3 .5 .3 0 .4-.5 .3 .7 .3-.3 .3 .8 .3-.3 .4 .2 .3 1.4 .3-1.3 .3 .6 .3 .5 .3-.2 .4 .3 .3 .3 .3-.6 .3 .4 .3 .6 .4 .2 .3-.5 .3 1.5 .3-1.5 .3 .8 .3 .6 .4-.2 .3-.2 .3 .8 .3-.8 .3 1.1 .4-.9 .3 .4 .3 .2 .3-.4 .3 .1 .3 .1 .4 .2 .3-.2 .3 .3 .3 .3 .3-1 .4-.2 .3 1.6 .3-.6 .3-.2 .3 .9 .3-.6 .4-.1 .3 .2 .3 .5 .3-.6 .3-.4 .4 .1 .3 .5 .3-1 .3 1.4 .3-1.3 .3 .8 .4 .4 .3-.1 .3-.5 .3-.2" fill="none" stroke="#ae76dd" stroke-width="3.80" stroke-linejoin="round" stroke-linecap="butt"/>
<path clip-path="url(#cr)" d="M1007.3 106.8l.3-.8 .3 .5 .4 .3 .3-.6 .3 .3 .3-.2 .3 .7 .3-.6 .4 .4 .3-.4 .3 .6 .3-.6 .3-.1 .4 .3 .3 1.1 .3-1.1 .3-.5 .3 .1 .3 1.8 .4-1.3 .3 0 .3 .2 .3 .6 .3-.4 .4 0 .3-.2 .3-.4 .3 .3 .3-.2 .3-.5 .4-.5 .3 1.8 .3-.1 .3-.2 .3-.1 .4-.1 .3-.7 .3 0 .3 .2 .3 .1 .3-.1 .4-.3 .3 .9 .3 0 .3 .5 .3 .1 .4-1.1 .3 .5 .3-.3 .3 .2 .3 .8 .3-.1 .4-.6 .3 .3 .3-.2 .3-.4 .3 0 .4-.3 .3 1.1 .3-1.2 .3 .2 .3 .2 .3-.4 .4 1.2 .3-.5 .3-1.3 .3 .6 .3 .9 .4-.7 .3 .3 .3 .1 .3-.1 .3-.4 .3 .3 .4 .1 .3-.4 .3 .5 .3-.1 .3 .1 .4 .2 .3-.4 .3-.4 .3 .9 .3-.2 .3-.7 .4-.1 .3 .7 .3 .2 .3-1.1 .3 .6 .4-.1 .3 .2 .3 .3 .3 .6 .3-1.2 .3 1.1 .4-.2 .3 .5 .3-1 .3 .1 .3 .4 .4-.3 .3 .6 .3-.6 .3 .3 .3-.3 .3-.6 .4 .8 .3-.6 .3 .2 .3-.1 .3 .3 .4-.8 .3 1.2 .3-.2 .3-.4 .3-.5 .3-.1 .4 .4 .3-.2 .3 .4 .3 .1 .3 .2 .4-.3 .3-.5 .3 1.3 .3 0 .3-1.2 .3 .2 .4 1.2 .3-.3 .3-.6 .3 .2 .3-1 .4 .6 .3 .7 .3-1.6 .3 1.2 .3-.7 .3 1.3 .4-1.4 .3 0 .3 .2 .3 0 .3 .5 .4 .4 .3-1.2 .3 .4 .3 .5 .3-.7 .3 .8 .4-.1 .3 0 .3-.3 .3 .4 .3 .3 .4-.7 .3 .6 .3-.5 .3-.8 .3 1.4 .3-.5 .4 .5 .3-.8 .3 .2 .3-.3 .3-.4 .4 .8 .3 .6 .3-.6 .3-.3 .3-.1 .3-.3 .4 .7 .3 .2 .3-.5 .3 0 .3-.1 .4-.2 .3 1.1 .3-.3 .3-.3 .3-.6 .3 .3 .4 .7 .3 0 .3 .8 .3-.8 .3-.4 .4-.1 .3-.8 .3 1.2 .3-1.2 .3 .8 .3-.1 .4 .4 .3 .1 .3 0 .3 0 .3-.3 .4 .3 .3-.1 .3-.6 .3 .7 .3-.5 .3 .4 .4 .1 .3-.5 .3-.3 .3 .9 .3-.6 .4 .1 .3 .5 .3-.8 .3 .4 .3 .1 .3-.7 .4 .2 .3 .3 .3 .5 .3-1.3 .3 1.1 .4 .1 .3-.6 .3 .1 .3-.7 .3 1.1 .3-.6 .4 .4 .3-.7 .3 1 .3-.7 .3 .2 .4 .5 .3-.3 .3-.5 .3 .4 .3 .2 .3-.2 .4 0 .3-.2 .3 0 .3 .1 .3-.4 .4 .7 .3 0 .3-.5 .3 0 .3 .1 .3-.1 .4 .4 .3 .2 .3-.1 .3 .2 .3-.9 .4 .9 .3-.5 .3 .1 .3-.3 .3-.1 .3 .2 .4-.3 .3 .1 .3-.3 .3 1.2 .3 .2 .4-.7 .3-.7 .3 .7 .3 .7 .3-1.3 .3 1.3 .4-.5 .3-1.3 .3 1.3 .3-.1 .3-.3 .4-.5 .3 .4 .3 1.1 .3-1.1 .3-.4 .3 .9 .4-.2 .3-.4 .3 .6 .3-.5 .3 .1 .4-.3 .3 1 .3-.6 .3-.4 .3 1.2 .3-.5 .4-.3 .3 .5 .3-.8 .3 .3 .3-.1 .4 .6 .3-.6 .3 .4 .3-.1 .3-.1 .3-.3 .4 .5 .3-1.2 .3 .6 .3-.5 .3 1.2 .4 0 .3-.8 .3 .6 .3-.6 .3 .9 .3-.7 .4 1.2 .3-.5 .3 .1 .3-.8 .3-.6 .4 .6 .3 .2 .3-.1 .3-.2 .3 0 .3 0 .4 1.3 .3-1.2 .3 0 .3-1.1 .3 1.7 .4-.4 .3-.2 .3-.1 .3 0 .3 1 .3-.9 .4 1.1 .3-.3 .3-.6 .3-.5 .3 1 .4-.5 .3-.1 .3 .4 .3 .5 .3-1.8 .3 .4 .4 .2 .3 1.1 .3-.8 .3 .7 .3 .2 .4-1 .3 .2 .3 .1 .3 .1 .3-.2 .3 .2 .4-1.1 .3 .6 .3-.3 .3 1 .3-.7 .4-.1 .3 .3 .3 .5 .3 .3 .3-1.2 .3 .4 .4 .6 .3-.8 .3 .9 .3-.7 .3 .8 .4-.2 .3-.4 .3-.3 .3-.4 .3 .5 .3 1 .4-1.5 .3 .8 .3-.3 .3 .3 .3-.3 .4 .1 .3-.2 .3 .7 .3-.8 .3-.1 .3 1.1 .4-.9 .3 .3 .3-.6 .3 .1 .3 .4 .4-.5 .3 .3 .3-.3 .3 .3 .3-.3 .3 .5 .4-1.1 .3 1.2 .3 0 .3-.3 .3 1.1 .4-.8 .3 .4 .3-.1 .3-.5 .3-.4 .3 .2 .4 .2 .3-.4 .3 .4 .3 0 .3-.4 .4 .5 .3-.5 .3 1.1 .3-1.1 .3 .5 .3-.4 .4-1.1 .3 .7 .3 .5 .3-.2 .3 1 .4-.9 .3 .4 .3-.1 .3-.1 .3 0 .3 .3 .4-.1 .3-.6 .3 .4 .3-.2 .3 .2 .4-.2 .3 .4 .3-.8 .3 .2 .3 1 .3-.6 .4 .6 .3-.4 .3-.4 .3 .7 .3-.5 .4-.2 .3 .8 .3-1 .3 .8 .3-.3 .3-.8 .4 .6 .3-.5 .3 .2 .3 .4 .3 .4 .4-1.3 .3 1.2 .3-.2 .3 0 .3 0 .3 .5 .4-.3 .3-.4 .3-1.1 .3 .9 .3 .2 .4-.1 .3-.4 .3 .9 .3-.7 .3-.4 .3 .7 .4-.9 .3 .8 .3-.1 .3 0 .3 .2 .4-.6 .3 0 .3 0 .3 .3 .3-.8 .3 .6 .4 .7 .3 .2 .3-.8 .3 .5 .3-.5 .4-.1 .3 .2 .3-.2 .3-.6 .3 .4 .3 0 .4 .1 .3-.1 .3 .3 .3-.3 .3 .2 .4-.4 .3 0 .3-.1 .3-.3 .3 .2 .3 .7 .4-.1 .3-.6 .3 .8 .3-.5 .3-.1 .4-.6 .3 0 .3 .2 .3 .5 .3-.5 .3 .4 .4-.4 .3 .4 .3 .2 .3-.6 .3-.6 .4 .5 .3-.3 .3 .4 .3-.1 .3-.7 .3 .3 .4 .3 .3 .2 .3-.4 .3-.3 .3 0 .4 .7 .3-1.2 .3 .6 .3-.5 .3 .2 .3-.3 .4 .3 .3-1.2 .3 .3 .3 .7 .3-.6 .4-.7 .3 .6 .3-.6 .3 .5 .3-1.1 .3 .4 .4-.4 .3-.6 .3-.5 .3 .7 .3 0 .4-1 .3-1.3 .3 .8 .3 .8 .3-2.5 .3-.6 .4 .3 .3-.5 .3-.8 .3-.5 .3-.2 .4-2.3 .3 .5 .3-1.2 .3-1 .3-2.6 .3-1.3 .4-2.4 .3-1.7 .3-2.3 .3-3.5 .3-2.6 .4-2.6 .3-4.3 .3-3.6 .3-4.1 .3-5.4 .3-5.7 .4-5.5 .3-5.2 .3-5.2 .3-4.8 .3-5.1 .4-3.6 .3-2.3 .3 .3 .3 .4 .3 1.7 .3 2.1 .4 6.7 .3 4.8 .3 5.2 .3 5 .3 6.4 .4 5.8 .3 3 .3 5.8 .3 3.6 .3 4.1 .3 2.3 .4 3.9 .3 2.1 .3 2.3 .3 3.3 .3 .5 .4 2.1 .3 2.4 .3 .5 .3 .6 .3 .5 .3 .6 .4 1.6 .3 .1 .3 1.4 .3 .8 .3 .5 .4-.5 .3 1 .3 .5 .3 .8 .3-.3 .3 .4 .4-.3 .3 1.2 .3 0 .3 0 .3 .4 .4 0 .3 1 .3 .1 .3-.6 .3 .3 .3 .1 .4 1.4 .3-.7 .3-.2 .3 .1 .3-.6 .4 .8 .3 0 .3-.1 .3 .4 .3 .3 .3-.6 .4 .6 .3-.6 .3 1.4 .3-.5 .3-1.2 .4 1 .3-.1 .3 1.4 .3-1 .3 .5 .3-.3 .4 .8 .3-.7 .3-.6 .3 .5 .3-.3 .4 .2 .3-.2 .3 .3 .3 .8 .3-.4 .3-.4 .4-.1 .3 .4 .3 .1 .3 .1 .3-.3 .4-.3 .3 .7 .3-.5 .3 .8 .3-.5 .3 1.1 .4-1.3 .3-.5 .3 .4 .3 0 .3 0 .4-.9 .3 .8 .3 .1 .3 .8 .3-1.2 .3 0 .4 .6 .3 .2 .3-.2 .3-.3 .3 .1 .4-.7 .3-.4 .3 .2 .3 1.4 .3-.9 .3-1 .4 .7 .3-.7 .3 .6 .3-.2 .3-.7 .4-.6 .3 .9 .3-.4 .3-.7 .3-.9 .3 .9 .4-.7 .3 .4 .3-.8 .3-.3 .3-.8 .4-.3 .3 .1 .3-.2 .3-.9 .3-2.2 .3-.3 .4-1.1 .3-1.2 .3-2.1 .3-1.1 .3-2.4 .4-.8 .3-3.3 .3-1.9 .3-3.9 .3-3.9 .3-3.5 .4-4.3 .3-3.2 .3-4.5 .3-4.5 .3-2 .4-1.2 .3-.8 .3 1.5 .3 1.9 .3 2.9 .3 4.1 .4 4.5 .3 4.2 .3 3.7 .3 2.8 .3 4.8 .4 2.1 .3 2.7 .3 2 .3 2.8 .3 1.1 .3 1.9 .4 .7 .3 .8 .3 .4 .3 0 .3 1.3 .4-.5 .3 .3 .3 .2 .3-2 .3 .4 .3-.7 .4-.6 .3 0 .3 .9 .3 1 .3-.5 .4 1.1 .3 1 .3 .5 .3 1.9 .3 .6 .3 .6 .4 .6 .3 .6 .3 .8 .3-.7 .3 1.8 .4-.5 .3 .5 .3 0 .3-.3 .3 1.1 .3-.6 .4 .3 .3 .2 .3-1.2 .3 2.1 .3-.4 .4-1.6 .3 1.5 .3-.6 .3 .9 .3-1 .3 .7 .4-.3 .3 .6 .3-.1 .3-.2 .3 .3 .4 .3 .3-.2 .3 1 .3-1.6 .3 .1 .3 1 .4-1 .3 .6 .3 .7 .3-1.5 .3 1.3 .4 .5 .3-1.1 .3-.9 .3 .2 .3 .4 .3 1.4 .4-.8 .3-.4 .3 .4 .3-.2 .3-.2 .4-.6 .3 1.4 .3-.7 .3-.6 .3 .2 .3 0 .4 .8 .3-1.2 .3-.1 .3-.2 .3 .4 .4-.2 .3-.8 .3 1 .3-1.3 .3 1 .3 .4 .4-1.2 .3 .8 .3-.7 .3 1.3 .3-.3 .4 .5 .3-.4 .3-.1 .3-.2 .3 1.1 .3-.3 .4-.1 .3-.7 .3 1.3 .3 .3 .3-.3 .4-.3 .3 .3 .3 1.1 .3-.9 .3-.5 .3 1.2 .4-.9 .3-.8 .3 1.1 .3 .5 .3-.9 .4 .1 .3 1.3 .3-1.4 .3 .5 .3-.2 .3 .6 .4-.5 .3-.3 .3 1.1 .3-.8 .3 .1 .4 .2 .3-.9 .3 .5 .3 .3 .3 0 .3-.6 .4 .1 .3 .2 .3-.1 .3 .5 .3 .1 .4-.2 .3-.4 .3 .4 .3-.4 .3-.6 .3 1.7 .4-1.3 .3 0 .3 .6 .3-1 .3-.4 .4 .6 .3 .1 .3 1.6 .3-1.2 .3 .8 .3-.4 .4-.2 .3 .5 .3-1.2 .3 .3 .3 0 .4 .7 .3-.7 .3 .4 .3-.7 .3 .1 .3 .2 .4 .7 .3-.6 .3 1 .3-.5 .3-.4 .4 .6 .3 0 .3-1.3 .3 1.1 .3 .6 .3-.1 .4-.9 .3-.7 .3-.2 .3 .2 .3 .8 .4 .3 .3-.8 .3 1.6 .3-.9 .3 .5 .3-.8 .4 1.2 .3-.6 .3-.1 .3-.7 .3 0 .4 1.5 .3-1.6 .3 .5 .3 .2 .3-.8 .3 .2 .4 .2 .3 0 .3 .3 .3-1.3 .3 .4 .4 .1 .3-1 .3-.4 .3 .6 .3 .7 .3-.7 .4-1 .3 .4 .3 .3 .3-.2 .3 1 .4 .6 .3-.4 .3 .4 .3 .4 .3-.1 .3-.4 .4-.3 .3 0 .3 1.2 .3-1.2 .3 .4 .4-.3 .3 .4 .3 .6 .3-.9 .3 .6 .3-.7 .4 .3 .3 0 .3 .8 .3 .3 .3-.9 .4 .4 .3-.9 .3 .2 .3 .6 .3 .1 .3-.1 .4 .3 .3-.7 .3 0 .3 .6 .3-.7 .4 .1 .3 .1 .3 .4 .3-.6 .3 1.1 .3-.1 .4-.6 .3-.6 .3 2.1 .3-1.5 .3 .8 .4-.6 .3 0 .3 .2 .3-.3 .3 .4 .3-.1 .4-.6 .3 .2 .3 .1 .3 .7 .3-.4 .4 .1 .3-.6 .3 .2 .3 .2 .3-.9 .3 .7 .4-.6 .3 .2 .3-.2 .3 1.1 .3-.7 .4-.4 .3 .3 .3 .3 .3 0 .3-.3 .3-.1 .4 .1 .3 .5 .3 .1 .3 1.2 .3-1.5 .4 .3 .3-.5 .3 .3 .3-.2 .3 .3 .3-.7 .4 .1 .3-.5 .3 .1 .3 .8 .3 .6 .4-.6 .3-.3 .3-.5 .3 .4 .3 .4 .3-.4 .4 .6 .3-.3 .3 .7 .3-.5 .3 .4 .4-.6 .3-.7 .3 .3 .3-.1 .3 1.6 .3-1.3 .4 0 .3 0 .3 .5 .3-.8 .3 1 .4 0 .3-.2 .3-.4 .3 .2 .3 .1 .3-.4 .4 .3 .3-.3 .3 .4 .3-.6 .3 .7 .4 0 .3 .2 .3-.8 .3 .3 .3 .2 .3 0 .4-.7 .3-.5 .3 1.5 .3-1.3 .3 1.3 .4-1 .3-.3 .3 .3 .3 0 .3 1.4 .3-1.3 .4 .4 .3-.6 .3 0 .3 .5 .3-.3 .4 .1 .3 .8 .3-.4 .3-.1 .3 .5 .3-.4 .4-.3 .3-.7 .3 1.2 .3-.9 .3 .7 .4-.1 .3 0 .3-.3 .3-.4 .3 .5 .3 .3 .4-1 .3 .3 .3 .6 .3-.1 .3-.2 .4 .2 .3-.5 .3-.4 .3 .2 .3 .4 .3-.8 .4 0 .3 .7 .3 0 .3 1 .3-1.3 .4 .5 .3-.6 .3 .3 .3-.7 .3 .8 .3 .1 .4-1 .3 1.4 .3-.3 .3 .3 .3-.3 .4-.6 .3 0 .3 .2 .3-.3 .3 .4 .3 .4 .4-.1 .3-.4 .3 .1 .3-.5 .3 .5 .4-.2 .3-.4 .3-.4 .3 .7 .3-1 .3 .5 .4-1 .3 1 .3 .2 .3-1.1 .3 .5 .4-.5 .3-.4 .3 .6 .3-.4 .3-.1 .3-.9 .4 .2 .3 0 .3 .4 .3 .3 .3-1 .4-.2 .3-.9 .3-.2 .3 .2 .3-1.1 .3-.1 .4-.5 .3-1.7 .3-.2 .3-.8 .3-.5 .4-1.2 .3-1.3 .3-1.6 .3-1.2 .3-3.2 .3 .3 .4-2.7 .3-2.5 .3-3 .3-1.4 .3-3 .4-1.6 .3-2.3 .3-2.9 .3 0 .3-1.1 .3-.3 .4 1.3 .3 2 .3 1.6 .3 1.9 .3 2.1 .4 3 .3 2.3 .3 2.2 .3 1.4 .3 3 .3 1.8 .4 1.6 .3 1.5 .3 .8 .3 1 .3 .8 .4 1.2 .3 1.4 .3 0 .3 1 .3 1.5 .3-1 .4 1.1 .3 .8 .3-.8 .3-.1 .3 1.9 .4-.2 .3 .2 .3 .6 .3-.6 .3 .5 .3 0 .4 .1 .3 .6 .3-.4 .3 .6 .3 0 .4-.9 .3 1.2 .3 0 .3-.1 .3-.5 .3 .1 .4-.3 .3 .4 .3 1.3 .3 .1 .3 .9 .4-1.4 .3 .4 .3-.8 .3 .3 .3 1 .3-1 .4-.6 .3 1.3 .3-.7 .3 .6 .3 .4 .4 .1 .3-.2 .3-1.1 .3 1.5 .3-.8 .3 .4 .4 .7 .3-1.4 .3 .7 .3 .3 .3-.6 .4-.3 .3 1.1 .3-.2 .3-.5 .3 .6 .3 .3 .4 .2 .3-1.2 .3 1 .3-.5 .3-.6 .4 .9 .3-.7 .3-.4 .3 .1 .3 1.1 .3-.7 .4 .8 .3-.2 .3 0 .3-1 .3 1.3 .4-1.1 .3-.3 .3 .9 .3-.7 .3 .8 .3-.9 .4 .2 .3 .4 .3 .4 .3 .3 .3-.3 .4-.6 .3 .5 .3 0 .3-.2 .3-.2 .3 .8 .4-1.6 .3 .2 .3 1.7 .3-.6 .3-1.4 .4 1 .3 .1 .3-.1 .3 1.6 .3-1.7 .3-.4 .4-.1 .3 1 .3-.3 .3 .4 .3-.7 .4 .4 .3-.3 .3 .2 .3 .5 .3 .2 .3-1.3 .4 .9 .3 .1 .3-.2 .3-.3 .3-.4 .4 1.4 .3-.7 .3 .2 .3 .4 .3-1.8 .3 .6 .4 .3 .3-.1 .3-.2 .3-1.1 .3 1.5 .4-.3 .3-.1 .3 .4 .3-.3 .3-.5 .3 1 .4-.5 .3 .4 .3-.3 .3-.2 .3 .5 .4-.3 .3-.7 .3 .9 .3-1 .3 1.7 .3-.6 .4-.4 .3 .1 .3 .2 .3 .1 .3-.8 .4 .7 .3-.9 .3 .1 .3-.4 .3 1.7 .3-.2 .4-.3 .3-.6 .3 .8 .3 1.6 .3-1.9 .4-1.1 .3 .6 .3 1.1 .3-1 .3 .6 .3-.2 .4 0 .3 .7 .3-.7 .3-.3 .3 .1 .4 .3 .3 0 .3-.6 .3 .2 .3 .3 .3-.3 .4-.1 .3-.7 .3 1.6 .3-.8 .3 .8 .4-1.4 .3 .6 .3 .5 .3-.4 .3-.4 .3 .7 .4 .5 .3-.6 .3-.3 .3 .4 .3 .1 .4-.7 .3-.8 .3 .2 .3 .7 .3 .4 .3-.8 .4 .3 .3-.3 .3 .4 .3 .8 .3-1 .4 .5 .3-.8 .3 .6 .3-.3 .3 .3 .3-.8 .4 .2 .3 .4 .3 .4 .3-1.1 .3 .6 .4 .7 .3-1 .3 0 .3 .3 .3-.5 .3-.3 .4-.3 .3 .5 .3-.5 .3 .5 .3-.9 .4 .3 .3-.1 .3 1.1 .3-1.5 .3 .2 .3 .1 .4-.6 .3 .2 .3-.1 .3-.4 .3 .2 .4 0 .3-.3 .3-.4 .3-.1 .3-1.1 .3 1 .4-.9 .3-.3 .3-1.7 .3 .4 .3-.3 .4-.8 .3-.1 .3-1.2 .3-.8 .3-1.4 .3-.9 .4-1.4 .3-.6 .3-2.2 .3-1.5 .3-2.3 .4-1.6 .3-2.5 .3-1.4 .3-1.8 .3-1.8 .3-2.7 .4-1.8 .3-.9 .3-1.6 .3-.8 .3-.6 .4-.6 .3 .6 .3 1.5 .3 1.7 .3 3 .3 2.9 .4 1.3 .3 2.3 .3 1.3 .3 2.2 .3 1.8 .4 1.6 .3 1.3 .3 2.1 .3 1.5 .3 .3 .3 2.2 .4 .7 .3 .9 .3 .2 .3 1.6 .3-.4 .4 .8 .3 .7 .3-.2 .3 .9 .3 .4 .3-.2 .4 .7 .3-.1 .3-.2 .3 1.1 .3-.3 .4 .8 .3 .1 .3-.5 .3 .3 .3-.3 .3 .7 .4 .2 .3-.3 .3 .3 .3 .7 .3 .4 .4-1.1 .3 .8 .3-.2 .3 0 .3 .2 .3-.3 .4 .1 .3 .3 .3-.1 .3 .4 .3 0 .4-.5 .3-.2 .3-.3 .3 1.1 .3-1.2 .3-.1 .4 .9 .3-.3 .3 .9 .3-1.1 .3-.2 .4-.4 .3-.5 .3 1.3 .3-1.5 .3-.9 .3 .4 .4 .9 .3-1.8 .3 0 .3 0 .3 .1 .4-1.4 .3 .2 .3-.2 .3 .1 .3-1.3 .3-.2 .4-.6 .3 .2 .3-.7 .3 .8 .3-1 .4-.4 .3 .7 .3-.4 .3 0 .3 .4 .3 .2 .4 .3 .3 .5 .3 .6 .3 .6 .3 .1 .4 .7 .3 .8 .3 .1 .3-.1 .3 .9 .3-.7 .4 1.1 .3 .4 .3 .2 .3 1.1 .3-1.1 .4 1 .3 .1 .3 .3 .3-1.2 .3 .6 .3 0 .4 .1 .3 .5 .3-.2 .3-.7 .3 1.3 .4-.2 .3 .2 .3 .1 .3-.1 .3 .3 .3 .4 .4-.8 .3 .6 .3 .6 .3-1.6 .3 .8 .4 .3 .3 .5 .3-.7 .3 1.5 .3-.9 .3-.5 .4 .1 .3 .3 .3-.3 .3 0 .3 .6 .4-.5 .3 1.4 .3-.2 .3-1.2 .3-.5 .3 .4 .4 .7 .3 0 .3-.7 .3 .1 .3 .8 .4-.6 .3 .4 .3-.2 .3 .2 .3-.7 .3 .7 .4-.3 .3-.6 .3 .8 .3-.4 .3-.5 .4-.2 .3 1.2 .3 .6 .3-1.3 .3 0 .3 .6 .4-.7 .3 .9 .3-1.1 .3 .9 .3 .4 .4-.5 .3 .4 .3-.1 .3-.6 .3-.1 .3 .4 .4-.7 .3 .4 .3 .2 .3-.4 .3 0 .4 1.4 .3-1.1 .3-.4 .3 .1 .3 .8 .3-.1 .4-.2 .3 .4 .3-1.1 .3 .6 .3-1 .4 1.6 .3-.6 .3 .2 .3-.1 .3 .1 .3 0 .4-.8 .3 .4 .3-.1 .3 .4 .3-.1 .4 0 .3 0 .3-.2 .3-.7 .3 .7 .3 .2 .4 .1 .3 .2 .3 0 .3-.3 .3 .7 .4-1.6 .3 .8 .3 .6 .3 0 .3 .2 .3-.6 .4 .2 .3 .3 .3-.4 .3-.7 .3 1.5 .4-1.6 .3 .5 .3 1.1 .3-.1 .3-.2 .3-.3 .4-.1 .3 .6 .3-.9 .3 .6 .3-.3 .4-.1 .3-.4 .3 1.2 .3-1.9 .3 1.9 .3-.4 .4-.4 .3 .2 .3 0 .3 0 .3-1.3 .4 .8 .3-.4 .3 .6 .3-.1 .3 .3 .3 0 .4 .2 .3-.6 .3 .1 .3 .1 .3 .1 .4 .2 .3 .4 .3-.7 .3-.9 .3 .3 .3 1.3 .4 .2 .3-1 .3 .7 .3-.2 .3-.6 .4 .1 .3-.8 .3 1.1 .3-.9 .3-.1 .3 1.1 .4-.4 .3-.3 .3 .8 .3-.7 .3-.6 .4 1.8 .3-.7 .3 .2 .3 .1 .3 .4 .3-1 .4-.2 .3 .2 .3 .2 .3 1 .3-1.8 .4 .5 .3 .3 .3-.4 .3-.1 .3-.1 .3 .6 .4-.5 .3 .4 .3-.5 .3 .2 .3 .1 .4 .7 .3-.6 .3 .2 .3 .1 .3 .3 .3 .4 .4-1.3 .3 .3 .3-.3 .3 1.7 .3-1.7 .4 .3 .3 .5 .3-.8 .3-.3 .3-.6 .3 2.2 .4-1 .3 .8 .3-1.4 .3 1.1 .3-.7 .4-.3 .3 0 .3 1.2 .3-.3 .3-.5 .3 .1 .4-.1 .3 0 .3-.3 .3 .2 .3 .2 .4-.6 .3 .9 .3-1.2 .3 .5 .3 1.5 .3-.5 .4-1.3 .3 .6 .3 1.2 .3-.3 .3-.3 .4-.5 .3-.3 .3 .8 .3-1 .3 .8 .3-.2 .4 1.2 .3-1.7 .3 .8 .3-.9 .3 .2 .4-1 .3 1.6 .3-.9 .3-.3 .3 .6 .3 .4 .4-.4 .3 .4 .3-.8 .3 .5 .3 1 .4-.9 .3 0 .3 .4 .3-.1 .3-.3 .3 0 .4 .1 .3-.5 .3 1 .3-1.6 .3 1.3 .4-.1 .3 .8 .3-1.5 .3-.1 .3 1.1 .3-.4 .4-.2 .3 0 .3 .3 .3-.1 .3-1 .4 .3 .3 .7 .3-.9 .3 .5 .3 1.3 .3-1.5 .4 .2 .3-.6 .3 .5 .3-.6 .3 1.1 .4-.1 .3-.4 .3-.9 .3 .9 .3-.6 .3-.7 .4 .2 .3 .2 .3 .3 .3 .1 .3 .1 .4-1 .3 0 .3-.5 .3 .3 .3-.6 .3-.8 .4-.2 .3-.1 .3-.1 .3-1.2 .3 .9 .4-.4 .3 .3 .3-.5 .3 .9 .3-1.7 .3 .8 .4 1.4 .3-.4 .3-1.1 .3 1.2 .3-.2 .4 .4 .3-.1 .3 .1 .3 .5 .3 .4 .3 .8 .4-.3 .3-.3 .3 .3 .3 .7 .3-.3 .4-.2 .3 .5 .3-.1 .3 .5 .3 .2 .3-.5 .4 .2 .3 .4 .3 .1 .3 0 .3 .5 .4 .7 .3-.9 .3-.1 .3 0 .3-.2 .3-.3 .4 .1 .3 1 .3 .2 .3-.2 .3-1.6 .4 .7 .3 2.3 .3-.5 .3-1 .3-.6 .3-.1 .4-.6 .3 1.5 .3-.8 .3 .5 .3-.4 .4 1.1 .3-.7 .3 0 .3-.2 .3-.1 .3 .7 .4-.7 .3 .9 .3-.6 .3 .3 .3-.3 .4-.7 .3 .6 .3 1.1 .3-.8 .3 .2 .3-.6 .4 .2 .3 .1 .3-.1 .3 .3 .3 .1 .4-.8 .3 .6 .3-.2 .3 .1 .3-.2 .3 .1 .4 .4 .3 .1 .3-.2 .3 .2 .3 .3 .4-.7 .3 1 .3-1.5 .3 .9 .3-.8 .3 1.2 .4-1.7 .3 1.6 .3 .4 .3-1.2 .3 .3 .4-.3 .3 .4 .3 .6 .3-.6 .3-.4 .3 .5 .4 .2 .3 .2 .3-1.3 .3 .4 .3-.1 .4-.6 .3 .8 .3 .8 .3-1.5 .3 0 .3 0 .4 .5 .3 .3 .3-.3 .3-.1 .3 .4 .4-1.2 .3 1.7 .3-1.4 .3 1 .3-.6 .3 .1 .4-.6 .3 .8 .3 0 .3 .4 .3-.4 .4 1 .3-1.4 .3 .4 .3 .7 .3-1.2 .3 1.1 .4-.9 .3-.3 .3 1.1 .3-.2 .3 .3 .4-.8 .3-.5 .3 .5 .3 .6 .3-.9 .3 2 .4-1.8 .3 .6 .3-.3 .3 .1 .3 .1 .4-.2 .3-.1 .3 .5 .3-.9 .3 .8 .3-1 .4 1 .3-.4 .3-.6 .3 .5 .3 .1 .4 0 .3 .7 .3-.2 .3-1 .3 .3 .3 .8 .4-.6 .3 .6 .3-.7 .3-.1 .3 .6 .4-.7 .3-.2 .3 0 .3-.2 .3 .9 .3-1.1 .4 .2 .3 .1 .3-.1 .3-.3 .3 1.3 .4 .1 .3 .4 .3-1.1 .3-.1 .3 .3 .3 .7 .4-.8 .3 .7 .3-1.8 .3 1.6 .3-.4 .4 .4 .3-.4 .3-.5 .3 .3 .3 .6 .3-.7 .4 .6 .3-.4 .3-1.5 .3 .8 .3-1.1 .4 1.3 .3-1.4 .3 1.1 .3 .9 .3-.6 .3 .1 .4-.8 .3-.9 .3 1.1 .3-.1 .3-.9 .4-.5 .3 .2 .3-.8 .3-.4 .3 .3 .3-.4 .4 0 .3-.3 .3 0 .3-1.1 .3-.7 .4 .5 .3-1 .3-.2 .3-.2 .3-.6 .3-.4 .4-.4 .3-.5 .3-.4 .3-.6 .3 .7 .4-1 .3-.4 .3 .2 .3 .6 .3 .7 .3-.6 .4 1.2 .3 .6 .3-.3 .3 .7 .3 0 .4 .7 .3 0 .3 .4 .3-.1 .3 1.8 .3-1 .4 1.4 .3-.1 .3 .4 .3 1.1 .3-.8 .4 1.9 .3-.8 .3-.3 .3 .1 .3 .4 .3 1.5 .4-.2 .3-.1 .3-1.2 .3 1.4 .3-1.1 .4 .4 .3-.1 .3 .4 .3-.5 .3 .4 .3-.1 .4-.4 .3 .5 .3 .5 .3-.5 .3-.1 .4 .4 .3 .5 .3-.4 .3 .1 .3-.2 .3-.5 .4-.1 .3-.1 .3-.3 .3 .4 .3-.6 .4 1.8 .3-1.4 .3-.9 .3-.1 .3-.1 .3 .4 .4-.5 .3-1.1 .3 .9 .3-.9 .3-.9 .4 .4 .3 .3 .3 0 .3-1.6 .3 .5 .3-.6 .4 0 .3-.1 .3 .2 .3-.9 .3 1.3 .4-2.4 .3 0 .3 1 .3-.5 .3 .2 .3-.2 .4 1 .3-1.2 .3 .7 .3 .3 .3-.4 .4 .1 .3 1.4 .3-.1 .3 .9 .3-.4 .3 0 .4 .7 .3 0 .3 1 .3 .6 .3-.2 .4-.1 .3 .8 .3-.5 .3 0 .3 .6 .3 .9 .4 .2 .3-1 .3 .3 .3 .3 .3 .5 .4-.3 .3 1.1 .3-.2 .3-.3 .3 .5 .3-.7 .4 .4 .3-.3 .3 .2 .3 0 .3 .3 .4-1.1 .3 1.2 .3-.8 .3 .8 .3 0 .3-1.3 .4 1 .3 .9 .3-.5 .3 .7 .3-.5 .4 .9 .3-.9 .3-.5 .3 .6 .3-.1 .3-.2 .4-.1 .3-.3 .3 .6 .3-.3" fill="none" stroke="#cd9c07" stroke-width="3.40" stroke-linejoin="round" stroke-linecap="butt"/>
<line x1="1296.3" y1="63.1" x2="1272" y2="82.2" stroke="#ff10f0" stroke-width="1.8"/>
<polygon points="1262,90 1273.2,74.2 1281.4,84.6" fill="#ff10f0"/>
<line x1="1060.33" y1="534.7" x2="1060.33" y2="529.5" stroke="#111" stroke-width="2.4"/>
<line x1="1113.36" y1="534.7" x2="1113.36" y2="524.7" stroke="#111" stroke-width="2.4"/>
<line x1="1166.39" y1="534.7" x2="1166.39" y2="529.5" stroke="#111" stroke-width="2.4"/>
<line x1="1219.42" y1="534.7" x2="1219.42" y2="524.7" stroke="#111" stroke-width="2.4"/>
<line x1="1272.45" y1="534.7" x2="1272.45" y2="529.5" stroke="#111" stroke-width="2.4"/>
<line x1="1325.48" y1="534.7" x2="1325.48" y2="524.7" stroke="#111" stroke-width="2.4"/>
<line x1="1378.51" y1="534.7" x2="1378.51" y2="529.5" stroke="#111" stroke-width="2.4"/>
<line x1="1431.54" y1="534.7" x2="1431.54" y2="524.7" stroke="#111" stroke-width="2.4"/>
<line x1="1484.57" y1="534.7" x2="1484.57" y2="529.5" stroke="#111" stroke-width="2.4"/>
<line x1="1537.60" y1="534.7" x2="1537.60" y2="524.7" stroke="#111" stroke-width="2.4"/>
<line x1="1590.63" y1="534.7" x2="1590.63" y2="529.5" stroke="#111" stroke-width="2.4"/>
<line x1="1643.66" y1="534.7" x2="1643.66" y2="524.7" stroke="#111" stroke-width="2.4"/>
<line x1="1696.69" y1="534.7" x2="1696.69" y2="529.5" stroke="#111" stroke-width="2.4"/>
<path d="M1008.25 534.70 V6.95 H1749.72" fill="none" stroke="#767676" stroke-width="2" stroke-linecap="square"/>
<path d="M1006.35 534.70 V5.05 H1749.72" fill="none" stroke="#343434" stroke-width="2.3" stroke-linecap="square"/>
<path d="M1750.12 4.50 V534.70 H1005.30" fill="none" stroke="#050505" stroke-width="2.1" stroke-linecap="square"/>
<text x="1036.3" y="65.3" font-size="45.0" text-anchor="start" fill="#111" stroke="none" >(b)</text>
<text x="1547.6" y="94.2" font-size="34.8" text-anchor="start" fill="#111" stroke="none" textLength="89.8" lengthAdjust="spacingAndGlyphs">AB-11</text>
<text x="1544.0" y="151.5" font-size="34.8" text-anchor="start" fill="#111" stroke="none" >AB-9</text>
<text x="1541.6" y="245.4" font-size="34.8" text-anchor="start" fill="#111" stroke="none" >AB-7</text>
<text x="1547.9" y="305.0" font-size="34.8" text-anchor="start" fill="#111" stroke="none" >AB-5</text>
<text x="1550.2" y="396.4" font-size="34.8" text-anchor="start" fill="#111" stroke="none" >AB-3</text>
<text x="1567.5" y="493.6" font-size="34.8" text-anchor="start" fill="#111" stroke="none" >AB-1</text>
<text x="1007.3" y="573.2" font-size="35.5" text-anchor="middle" fill="#111" stroke="none" >10</text>
<text x="1113.4" y="573.2" font-size="35.5" text-anchor="middle" fill="#111" stroke="none" >20</text>
<text x="1219.4" y="573.2" font-size="35.5" text-anchor="middle" fill="#111" stroke="none" >30</text>
<text x="1325.5" y="573.2" font-size="35.5" text-anchor="middle" fill="#111" stroke="none" >40</text>
<text x="1431.5" y="573.2" font-size="35.5" text-anchor="middle" fill="#111" stroke="none" >50</text>
<text x="1537.6" y="573.2" font-size="35.5" text-anchor="middle" fill="#111" stroke="none" >60</text>
<text x="1643.7" y="573.2" font-size="35.5" text-anchor="middle" fill="#111" stroke="none" >70</text>
<text x="1749.7" y="573.2" font-size="35.5" text-anchor="middle" fill="#111" stroke="none" >80</text>
<text x="1269.3" y="624.7" font-size="39.5" fill="#111">2</text>
<text x="1292.3" y="624.7" font-size="39.5" fill="#111" font-style="italic" textLength="20.5" lengthAdjust="spacingAndGlyphs">θ</text>
<text x="1320.9" y="624.7" font-size="39.5" fill="#111" textLength="130" lengthAdjust="spacingAndGlyphs">(degree)</text>
<text transform="translate(961.3,269.9) rotate(-90) scale(0.975,1)" font-size="40.9" text-anchor="middle" fill="#111">Intensity (a.u)</text>
</svg>
</body>
</html>
